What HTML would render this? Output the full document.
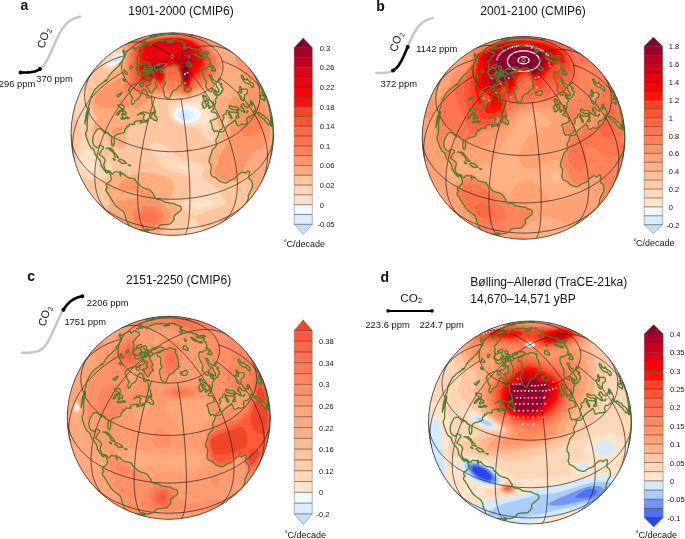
<!DOCTYPE html>
<html><head><meta charset="utf-8"><title>Figure</title>
<style>html,body{margin:0;padding:0;background:#fff;width:685px;height:539px;overflow:hidden}
svg{display:block}</style></head>
<body><svg width="685" height="539" viewBox="0 0 685 539" font-family="'Liberation Sans', Arial, Helvetica, sans-serif" fill="#111">
<rect width="685" height="539" fill="#fff"/>
<defs><path id="grid" d="M-76 67.1l1.5 1.7 1.7 1.6 1.8 1.6 1.8 1.6 1.9 1.5 2 1.5 2.1 1.4 2.2 1.4 2.2 1.4 2.4 1.3 2.3 1.2 2.5 1.2 2.5 1.1 2.6 1.1 2.6 1 2.7 1 2.7 .9 2.8 .8 2.8 .8 2.9 .7 2.9 .6 2.9 .6 3 .5 2.9 .5 3.1 .3 3 .3 3 .3 3.1 .1 3 .2 3.1 0 3.1 0 3-.2 3.1-.1 3-.3 3-.3 3.1-.3 2.9-.5 3-.5 2.9-.6 2.9-.6 2.9-.7 2.8-.8 2.8-.8 2.7-.9 2.7-1 2.6-1 2.6-1.1 2.5-1.1 2.5-1.2 2.3-1.2 2.4-1.3 2.2-1.4 2.2-1.4 2.1-1.4 2-1.5 1.9-1.5 1.8-1.6 1.8-1.6 1.7-1.6 1.5-1.7M-101.4 0l.1 2.3 .1 2.2 .4 2.3 .4 2.3 .5 2.2 .7 2.3 .8 2.2 .9 2.2 1.1 2.1 1.1 2.2 1.3 2.1 1.4 2.1 1.5 2.1 1.6 2 1.7 2 1.8 1.9 1.9 1.9 2.1 1.9 2.1 1.8 2.2 1.8 2.3 1.7 2.5 1.7 2.5 1.6 2.6 1.5 2.6 1.5 2.8 1.5 2.8 1.3 2.9 1.3 3 1.3 3 1.1 3.1 1.1 3.1 1.1 3.3 .9 3.2 .9 3.3 .8 3.4 .8 3.4 .7 3.4 .5 3.4 .6 3.5 .4 3.5 .3 3.5 .3 3.5 .2 3.6 .1 3.5 .1 3.5-.1 3.6-.1 3.5-.2 3.5-.3 3.5-.3 3.5-.4 3.4-.6 3.4-.5 3.4-.7 3.4-.8 3.3-.8 3.2-.9 3.3-.9 3.1-1.1 3.1-1.1 3-1.1 3-1.3 2.9-1.3 2.8-1.3 2.8-1.5 2.6-1.5 2.6-1.5 2.5-1.6 2.5-1.7 2.3-1.7 2.2-1.8 2.1-1.8 2.1-1.9 1.9-1.9 1.8-1.9 1.7-2 1.6-2 1.5-2.1 1.4-2.1 1.3-2.1 1.1-2.2 1.1-2.1 .9-2.2 .8-2.2 .7-2.3 .5-2.2 .4-2.3 .4-2.3 .1-2.2 .1-2.3M-77.5-65.3l-1.4 1.7-1.3 1.8-1.2 1.8-1.1 1.9-1 1.8-.9 1.9-.8 1.9-.7 1.9-.6 2-.5 1.9-.3 2-.3 1.9-.2 2 0 2 0 1.9 .2 2 .3 2 .3 1.9 .5 2 .6 1.9 .7 1.9 .8 1.9 .9 1.9 1 1.9 1.1 1.8 1.2 1.8 1.3 1.8 1.4 1.8 1.5 1.7 1.5 1.7 1.7 1.6 1.8 1.6 1.8 1.6 1.9 1.5 2 1.5 2.1 1.5 2.2 1.4 2.2 1.3 2.4 1.3 2.3 1.2 2.5 1.2 2.5 1.2 2.6 1 2.6 1 2.7 1 2.7 .9 2.8 .8 2.8 .8 2.9 .7 2.9 .6 2.9 .6 3 .5 2.9 .5 3.1 .4 3 .3 3 .2 3.1 .2 3 .1 3.1 0 3.1 0 3-.1 3.1-.2 3-.2 3-.3 3.1-.4 2.9-.5 3-.5 2.9-.6 2.9-.6 2.9-.7 2.8-.8 2.8-.8 2.7-.9 2.7-1 2.6-1 2.6-1 2.5-1.2 2.5-1.2 2.3-1.2 2.4-1.3 2.2-1.3 2.2-1.4 2.1-1.5 2-1.5 1.9-1.5 1.8-1.6 1.8-1.6 1.7-1.6 1.5-1.7 1.5-1.7 1.4-1.8 1.3-1.8 1.2-1.8 1.1-1.8 1-1.9 .9-1.9 .8-1.9 .7-1.9 .6-1.9 .5-2 .3-1.9 .3-2 .2-2 0-1.9 0-2-.2-2-.3-1.9-.3-2-.5-1.9-.6-2-.7-1.9-.8-1.9-.9-1.9-1-1.8-1.1-1.9-1.2-1.8-1.3-1.8-1.4-1.7M-32.6-92.2l-1.3 .7-1.3 .8-1.3 .8-1.2 .8-1.1 .9-1.2 .9-1 .9-1 .9-1 1-.9 .9-.9 1-.8 1-.7 1.1-.7 1-.6 1.1-.6 1.1-.5 1-.5 1.1-.4 1.2-.3 1.1-.3 1.1-.2 1.1-.2 1.2-.1 1.1 0 1.1 0 1.2 .1 1.1 .2 1.1 .2 1.2 .3 1.1 .3 1.1 .4 1.1 .5 1.1 .5 1.1 .6 1.1 .6 1 .7 1.1 .7 1 .8 1 .9 1 .9 1 1 1 1 .9 1 .9 1.2 .9 1.1 .8 1.2 .9 1.3 .8 1.3 .7 1.3 .8 1.4 .7 1.4 .7 1.4 .6 1.5 .7 1.5 .6 1.6 .5 1.6 .5 1.6 .5 1.6 .4 1.7 .5 1.6 .3 1.7 .4 1.7 .3 1.8 .2 1.7 .2 1.7 .2 1.8 .1 1.8 .1 1.7 .1 1.8 0 1.8 0 1.7-.1 1.8-.1 1.8-.1 1.7-.2 1.7-.2 1.8-.2 1.7-.3 1.7-.4 1.6-.3 1.7-.5 1.6-.4 1.6-.5 1.6-.5 1.6-.5 1.5-.6 1.5-.7 1.4-.6 1.4-.7 1.4-.7 1.3-.8 1.3-.7 1.3-.8 1.2-.9 1.1-.8 1.2-.9 1-.9 1-.9 1-1 .9-1 .9-1 .8-1 .7-1 .7-1.1 .6-1 .6-1.1 .5-1.1 .5-1.1 .4-1.1 .3-1.1 .3-1.1 .2-1.2 .2-1.1 .1-1.1 0-1.2 0-1.1-.1-1.1-.2-1.2-.2-1.1-.3-1.1-.3-1.1-.4-1.2-.5-1.1-.5-1-.6-1.1-.6-1.1-.7-1-.7-1.1-.8-1-.9-1-.9-.9-1-1-1-.9-1-.9-1.2-.9-1.1-.9-1.2-.8-1.3-.8-1.3-.8-1.3-.7-1.4-.8-1.4-.6-1.4-.7-1.5-.6-1.5-.6-1.6-.5-1.6-.6-1.6-.4-1.6-.5-1.7-.4-1.6-.4-1.7-.3-1.7-.3-1.8-.2-1.7-.3-1.7-.1-1.8-.2-1.8-.1-1.7 0-1.8-.1-1.8 .1-1.7 0-1.8 .1-1.8 .2-1.7 .1-1.7 .3-1.8 .2-1.7 .3-1.7 .3-1.6 .4-1.7 .4-1.6 .5-1.6 .4-1.6 .6-1.6 .5-1.5 .6-1.5 .6-1.4 .7-1.4 .6-1.4 .8M-46.9-89.9l1.6-.7 1.7-.5 1.7-.5 1.8-.4 1.8-.2 1.9-.1 1.9 0 1.9 .1M-87-52l1.4-2.1 1.5-2.1 1.6-1.9 1.7-2 1.8-1.8 1.9-1.8 2-1.7 2.1-1.6 2.2-1.5 2.3-1.5 2.3-1.4 2.4-1.2 2.6-1.2 2.5-1.1 2.7-1 2.7-1 2.8-.8 2.9-.7M-98.3 24.6l-.6-2.6-.4-2.6-.3-2.7-.2-2.7-.1-2.7 .1-2.7 .2-2.7 .3-2.8 .4-2.7 .6-2.7 .6-2.8 .8-2.7 .9-2.7 1-2.7 1.2-2.7 1.2-2.7 1.4-2.7 1.4-2.6 1.6-2.6 1.7-2.5 1.8-2.6 1.9-2.5 2-2.4 2.1-2.4 2.2-2.4 2.3-2.3 2.4-2.2 2.4-2.2 2.6-2.2 2.6-2 2.7-2 2.8-2 2.9-1.9 2.9-1.8 3-1.7M-62.8 79.6l-1.6-1.4-1.5-1.5-1.4-1.6-1.3-1.6-1.2-1.8-1.2-1.8-1-2-1-2-.9-2.1-.8-2.1-.7-2.3-.6-2.3-.5-2.4-.4-2.4-.4-2.5-.2-2.6-.1-2.6-.1-2.7 .1-2.7 .1-2.8 .2-2.9 .4-2.8 .4-2.9 .5-3 .6-2.9 .7-3 .8-3.1 .9-3 1-3.1 1-3 1.2-3.1 1.2-3.1 1.3-3.1 1.4-3 1.5-3.1 1.6-3.1 1.6-3 1.7-3 1.8-3 1.8-3 1.9-3 2-2.9 2.1-2.9 2.1-2.8 2.1-2.8 2.3-2.8 2.2-2.7 2.4-2.6M-23.2 98.7l-.9-.3-.8-.4-.9-.5-.8-.7-.7-.7-.8-.9-.7-1-.6-1.1-.6-1.2-.6-1.4-.6-1.4-.5-1.6-.5-1.6-.4-1.8-.4-1.8-.3-2-.4-2.1-.2-2.1-.3-2.3-.1-2.3-.2-2.5-.1-2.5-.1-2.6 0-2.7 0-2.7 .1-2.8 .1-2.9 .2-3 .1-3 .3-3 .2-3.2 .4-3.1 .3-3.3 .4-3.2 .4-3.3 .5-3.3 .5-3.4 .6-3.4 .6-3.4 .6-3.4 .6-3.5 .7-3.4 .8-3.5 .7-3.4 .8-3.5 .9-3.4 .8-3.4 .9-3.4 .9-3.4 .9-3.4 1-3.3 1-3.3 1-3.3 1.1-3.2M11.8 100.7l.4-.2 .5-.4 .4-.4 .4-.6 .4-.7 .3-.8 .4-.9 .3-1.1 .3-1.2 .3-1.3 .3-1.4 .3-1.5 .2-1.6 .2-1.7 .2-1.8 .2-2 .2-2 .1-2.2 .1-2.2 .1-2.3 .1-2.4 .1-2.5 0-2.6 0-2.7 0-2.8 0-2.8-.1-2.9-.1-2.9-.1-3.1-.1-3.1-.1-3.1-.2-3.2-.2-3.3-.2-3.2-.2-3.4-.2-3.4-.3-3.4-.3-3.4-.3-3.4-.3-3.5-.3-3.5-.4-3.5-.3-3.5-.4-3.6-.4-3.5-.4-3.5-.5-3.5-.4-3.5-.5-3.4-.5-3.5-.5-3.4-.5-3.4-.5-3.4-.5-3.3M48.4 89.1l1.5-.9 1.5-1 1.3-1.1 1.3-1.3 1.3-1.3 1.1-1.4 1.1-1.5 1.1-1.7 .9-1.7 .9-1.8 .8-1.9 .8-2 .7-2.1 .5-2.2 .6-2.2 .4-2.3 .3-2.4 .3-2.5 .2-2.6 .1-2.6 .1-2.7-.1-2.7-.1-2.8-.2-2.9-.3-2.9-.3-2.9-.4-3-.6-3-.5-3.1-.7-3.1-.8-3.1-.8-3.2-.9-3.2-.9-3.2-1.1-3.2-1.1-3.2-1.1-3.2-1.3-3.2-1.3-3.3-1.3-3.2-1.5-3.2-1.5-3.2-1.5-3.1-1.6-3.2-1.7-3.1-1.7-3.1-1.8-3.1-1.8-3-1.9-3-1.9-2.9-1.9-2.9M88.3 49.8l1.2-2.3 1.1-2.3 1-2.4 .9-2.4 .7-2.4 .6-2.6 .6-2.5 .4-2.6 .3-2.6 .1-2.7 .1-2.7-.1-2.7-.1-2.8-.3-2.7-.4-2.8-.6-2.8-.6-2.8-.7-2.9-.9-2.8-1-2.8-1.1-2.8-1.2-2.8-1.3-2.8-1.4-2.8-1.5-2.8-1.6-2.7-1.7-2.8-1.8-2.7-1.9-2.6-2-2.7-2.1-2.6-2.2-2.5-2.3-2.5-2.3-2.5-2.4-2.4-2.6-2.4-2.5-2.3-2.7-2.2-2.7-2.2-2.8-2.2-2.9-2M97.7-27.2l-.8-2.6-.9-2.5-1-2.5-1.2-2.4-1.2-2.4-1.4-2.3-1.4-2.3-1.6-2.3-1.7-2.1-1.8-2.2-1.9-2-2-2-2.1-1.9-2.2-1.9-2.3-1.8-2.4-1.7-2.4-1.6-2.6-1.6-2.6-1.5-2.7-1.4-2.8-1.3-2.9-1.2-2.9-1.2-3-1M61.2-80.8l-1.7-1.2-1.8-1.1-1.8-1-1.9-.9-2-.8-2.1-.6-2.1-.6-2.1-.5-2.3-.3-2.2-.3-2.4-.1M22.3-98.9l-.9 0-1 .1-1 .2-1 .3-1.1 .4M-11.3-100.8l.5 .1 .5 .1 .5 .3 .5 .4 .5 .5M-32.6-92.2l1 .1 1 .1 1 .1 1 .2 1.1 .2 1 .2 1 .3 1.1 .3 1 .3 1.1 .3 1.1 .4 1.1 .4 1 .4 1.1 .5 1.1 .4 1.1 .6 1.1 .5 1.1 .5 1.2 .6 1.1 .6 1.1 .7 1.1 .6 1.2 .7 1.1 .7 1.1 .8 1.2 .7 1.1 .8 1.1 .8 1.2 .9 1.1 .8M-38.8-46.3l1.1-1.3 1.2-1.3 1.2-1.3 1.2-1.2 1.3-1.3 1.2-1.2 1.2-1.2 1.3-1.2 1.3-1.2 1.2-1.2 1.3-1.1 1.3-1.1 1.3-1.1 1.3-1.1 1.3-1.1 1.3-1 1.3-1.1 1.4-1 1.3-1 1.3-.9 1.3-1 1.4-.9 1.3-.9 1.4-.9 1.3-.8 1.4-.9 1.3-.8 1.4-.8 1.3-.7 1.4-.8M32.6-42.3l-1-1.4-1-1.4-1-1.4-1-1.4-1.1-1.4-1-1.4-1-1.3-1.1-1.3-1-1.3-1.1-1.3-1.1-1.3-1.1-1.2-1-1.3-1.1-1.2-1.1-1.2-1.1-1.2-1.1-1.2-1.1-1.1-1.2-1.1-1.1-1.1-1.1-1.1-1.1-1.1-1.2-1-1.1-1-1.1-1-1.2-1-1.1-1-1.1-.9-1.2-.9-1.1-.9M38.8-88.2l-1.1 0-1.2-.1-1.2 .1-1.2 0-1.3 .1-1.2 .1-1.2 .1-1.3 .2-1.3 .2-1.2 .2-1.3 .2-1.3 .3-1.3 .3-1.3 .3-1.3 .3-1.3 .4-1.3 .4-1.4 .4-1.3 .5-1.3 .4-1.3 .5-1.4 .5-1.3 .6-1.4 .6-1.3 .6-1.4 .6-1.3 .6-1.4 .7-1.3 .7-1.4 .7" fill="none" stroke="#1a1a1a" stroke-width="0.75" stroke-opacity="0.9"/><path id="coast" d="M-33.1-87.3l.2 .4 .2 .4 .2 .4 .9 .3 .9 .3 .9 .3 .2 .4 .1 .3 .2 .4 0 .3 .1 .3 0 .3 .1 .3-.4 .3-.3 .3-.4 .3-.4 .3-.3 .3-.4 .4-.4 .3-.4 .4-.4 .4-.3 .4-.2 .3-.2 .4-.2 .4-.2 .4-.6 .4-.5 .5-.4 .4-.3 .4-.3 .5-.4 .4 .3 .4 .3 .3 .2 .3 .2 .4 .1 .3 .2 .4 .1 .3-.1 .4-.2 .5-.1 .4-.2 .5-.1 .4-.1 .5 .3 .3 .3 .3 .3 .3-.2 .5-.2 .6-.2 .5-.2 .5-.2 .6-.2 .6-.2 .6 0 .4 .1 .5 .1 .5 .1 .4 .4 .3 .5 .3 .4 .3 .1 .5 .1 .5 .1 .5 .1 .5 .1 .5 .1 .5 .4 .3 .5 .3 .4 .3 .7 .1 .7 .1 1.1-.4 1.1-.4 1.6-.9 1.6-.8-.3 .8-.3 .9-.6 1.1-.5 1.2 .3 .4 .4 .4 .3 .4 .9-.4 1-.4 .1 .4 .2 .4 .2 .5-.6 .9-.6 .9-1.2 .7-1.2 .8-.5-.3-.5-.4-.5-.3-.9 1.5-1.1 .3-1.1 .2-.8 0-.8-.1-.8 .2-.7 .2-1 .3-1 .4-1 .3-1.5 .8-1.5 .8-.6 .8-.7 .8-.6 1.5-.5 1.5 .5 .5 .4 .4 .5 .5 .1 .8 .2 .9 .2 .8 .3 .7 .3 .8 .4 .7 .5 .5 .6 .4 .5 .5-.6 1.1-.6 1-.6 1.1 .1 .9 .1 .9 .3 .9 .3 1 .8-.7 .8-.7 .8-1.5 .7-1.6 1.5-.7 1.5-.8 .8-1 .8-1.1 .4-1.3 .4-1.2 .6-1.4 .5-1.3 .9-1.2 .9-1.2 .6 .4 .6 .3 .6 .3 .5 .6 .6 .5 .2 .8 .2 .8 .5 .5 .5 .4-.4 1.1-.4 1.2 .2 .9 .3 .9 .7 0 .7 .1 .9-.6 .9-.6 .8-.7 0 1.2 0 1.1 .2 1.4 .2 1.4 0 1 0 1.1 .3 .9 .4 .8 .7 1 .8 1 .1 1 .1 1.1 .4 1.1 .5 1-1 .6-.9 .5-1.1 .5-1 .5-1.1 .4-1-.3-1.1-.3-1-.3-.9-.3-.9-.2-1-.2-.9-.2-1.3 .5-1.3 .4-1.6 1.2-1.7 1.2 1.1-.5 1.1-.6 1.2-.1 1.2 0 1.2-.2 .7 .6 .8 .5-1 1.5-.5 1.7 .4 1 .5 1.1 1.1 .4 1.1 .4 .8-.9 .8-.9 .3 1.8-.9 .5-.8 .4-1 .1-1 .1-1 .1-1 .4-.9 .3-1 .3-.3-1.4 1.1-.6 1.2-.5-.8-.2-.8-.1-.9 .3-.8 .2-1 0-1-.1-.9 .3-1 .3-1.3 1.4-.3 1.4 .7 .3 .2-.1-.7 .3-.9-.1-.9-.1-1.2 0-1.1-.1-.7 .4-.7 1.5-1.4 .7-.3-1.1-.1 1-.2 1-.8 .7-.9 .6-.2 1.8-.4 1.6-.8 .2-.9 .1-1 .4-.9 .3-1 .2-1 .3-1.1 .3-1 .3-.9 .7-.8 .7-.3 1-.3 1 0 1.4 0 1.4 0 1.4-.1 1.4-.5 1.2-.5 1.1-1.1-.4-.3-2.1-.2-1.4-.1-1.4 .3-1.2 .3-1.1-.5-2.1-.9-.4-.9-.4-.4-.9-.4-1-.9-.6-.9-.6-.7-.4-.7-.3-.3 1-.2 .9-.5-.5-.5-.5-.5-.6-.5-.7-.8-1-.9-.9-.7-.3-.7-.3-1.2 .2-1.1 .2-.7 .5-.8 .5-.5 1-.5 1.1-.7 1.1-.6 1-.6 1.2-.5 1.3-.1 1.3-.2 1.4 0 1.5 .1 1.6 .4 1.1 .5 1.1 .6 1.3 .9 .4 1 .4 .9 1 1.4-.7 .4-.9 .5-.9 .8 .1 .9 .2 1.1 .6 1.1 .6-.1 1.8-.7 .6-.6 .5-.4 .8-.4 .7-.6 1.1-.7 1.1-.6 .9 .6 .5 .7 .4 .9 .5 .8 .6 .7 .5 .7 .6 .8 1.1 .8 1.2-.3 1.3-.3 1.2-.4 1.2-.4 1.1 .2 1.2 .2 1.2 .5 1.2 .5 1.1 1.2 1.4 1.4 .1 1.3 .1 .8 .7 .9 .8 .7 1.1 .8 .6 1.3-.7 .4-.7 .4-.6 1.2-.3 1 .2 .9 .2 1-.1 1 0 1.2-.4 .2 1.4-1.1 .5 .5 1.3 .5 1.3-.3-1.1-.3-1.2 1.1 0 1.1-.1 .7-.7 .9 1.1 .9 1.2 1.5 1.2 1.2 .7 1.2 .7 1.3 .1 1.3 .1 1.2 .3 1.2 .4 1.6 .2-.9 .6 1.1 .7 .6 1.2 .6 1.1 1.6 .9 1 1 .9 1.1 1.6 1.5 1.4 .6 1.3 .6 1.5 .4 1.6 .3 1.1 .5 1.1 .4 1 1.1 1 1 .8 1.1 .5 1 .6 1.1 1 .8-.7 1.2 1 .8 1.1 .7 1.2 1 1.8-.3 1.7 .6 1.8 .6 .9 .8 .9 .8 .9 0 1 .1 1.7 .3 1.6 .4 1.5 0 1.4 0 1.2 .5 1.2 .5 1.2 .7 1.1 .7 1.4 .2 1.4 .2 .5 .7 .4 .8 .3 .7 .2 .6-.4 .9-.3 .9-.9 .8-.9 .7-1 .7-.9 .8-.9 .7-.9 .7-1 1-.2 .9-.2 .9 .2 .9 .2 1-.7 .9-.7 .9-.7 .6-.8 .6-.3 .5-.3 .5-1.7 .7-1.3 .1-1.3 0-.8 .1-.9 .1-1.3 .1-1.3 .2-1.1 .3-1.2 .3-.5 .4-.6 .4 0 .6 .1 .6-.7 .3-.7 .3-.6 .4-.5 .3-.5 .3-.5 .2-1.2 .2-.7 .3-.6 .2-1 .2-1-.1-1-.1-1-.3-.9-.2-1.1-.3-1-.3 1 .5 1.1 .4 .4 .4 .4 .3-.2 .2-.3 .3-1.2-.2-1.2-.2-1-.2-1-.2-.9-.2 0 .2 .1 .2-.8-.2-.7-.1-.8-.3-.8-.2 .7 .3 .8 .4 1.1 .4-.7-.2-.6-.1 .2 .2 .3 .1-.8-.2-.6-.2M-40.2 93.1l-.6-.3-.6-.3-.4-.3-.4-.2-.7-.4-.7-.5-.3-.3-.3-.3-.2-.4-.1-.3 0-.3 0-.3-.1-.4-.1-.3-.5-.6-.5-.6-.3-.6-.3-.6 .1-.4 0-.5-.2-.6-.2-.6-.2-.7-.2-.7-.1-.6-.1-.6-.1-.6-.3-.6-.3-.7-.3-.8-.8-1.1-1.4-1.2-1.4-1-1.4-.9-1.4-1.2-1.5-1.2-1-1.2-1.1-1.3-.4-.8-.4-.8-1.2-1.6-.7-1.2-.7-1.2-.8-1.4-.8-1.4-.6-.9-.6-1-.9-1.1-.9-1.2-.2-.9-.2-1 .6-.4 .5-.5 .7-.8-1-.6-.3-.9-.3-.9 .4-.6 .4-.6 .4-1 1.4-.3 .7-1.1 1.1-.7 .4-.6 .4-.6-.1-1.1 0-1-.1-1-.1-1-.9-1.6-.8-1.8-.9 0-.9 0-.2 1.1-1.3-.9-1.2-1.6-.7-.8-.7-.7-1.1-2.3-.6-.7-.7-.6 .1-.9 0-.8-.3-1.3-.4-1.4-.9-1.7-.9-1.1-.8-1-.8-1-.7-.7-.7-.8-.5-1.2-.5-1.2-.3-1.2-.3-1.3-.5-.7-.5-.7-.9-.4-1-.5-.6-1-.6-1-.6-1.3-.6-1.4-.5-1.3-.6-1.3-.4-1.3-.5-1.3-.4-1.4-.3-1.4-.2-2.1 .5-.9 .5-1 .3-1.1 .3-1.1-.1-1.3-.1-1.3 .1-1.6 .1-1.6 0-1.4 .1-1.5 .2-1.5 .2-1.6 .1-1.5 .1-1.5 .5-1.5 .5-1.4 .1-1.6 .1-1.6-.7 1.1-.5 1.2-.4 1.3-.3 1.3-.2 1.3-.4 1.1-.3 1.2-.2 1.4-.2 1.5-.4 1.3-.4 1.3-.2 1.1-.1 1.1 0-1 0-1.2 .1-1.3 .3-1.3 .3-1.2 .2-1.6 .2-1.6 .4-1.9 .5-1.3 .6-1.4 .3-2 .4-1.2 .3-1.2 .5-1.3 .7-1.3 .4-1.8 0-.8 0-.8 0-1.1 .7-1.3 .5-1.2 .5-1.1 .5-1 .6-.9 .4-1 .6-1 .6-1.1 .9-1.4 .9-.7 .8-.7 .6-.7 .6-.8 1-.7 1-.7 1.2-.9 1.1-.8 .7-.6 .7-.6 .7-.8 .7-.8-.1 .7 0 .6 1.1-.5 .4-.8 .5-.8 .5-1 .6-1 .5-1.1 .6-1 1.3-1.3 .7-.9 .6-.8 1.3-1.3 .8-.5 .8-.5 .8-.9 .8-.9 .9-.8 .8-.8 1-.9 .9-.8-.3-.3-.3-.3 .6-.7 .5-.7 .6-.6 .6-.7 .3-.5 .4-.5 .2-.6 .3-.6 .5-.6 .5-.6 .6-.7 .5-.6-.1-.3-.1-.4-.4-.2-.4-.2 .1-.3 0-.3 .8-.2 .8-.1-.1-.2-.1-.2-.9-.2-1.2 0 0-.4 .1-.3-.1-.3-.1-.3-.3-.3-.2-.3-.1-.3 0-.3 .1-.5 .1-.4 .3-.5 .4-.4 .1 .3 .2 .3-.1 .5 .1 .4 .1 .4 .1 .3 .6 .1 .7 .1 .2-.4 .3-.3 .4-.4 .4-.4 .4-.3 1-.5 1.1-.4 .7-.5 .7-.5 .8-.3 .7-.3 1.5-.4 .5 .4 .4 .3-.2 .3-.1 .3-.2 .3 .2 .3 .2 .2 .6-.3 .3-.3 .3-.3 .4-.4 .4-.3 .4-.3 .5-.4 .8-.1 .5-.2 .5-.2M-11.3-64.9l.4 .1 .4 0 .3 0 .4 0 .5-.2 .5-.2 .5-.2 .8-.7 .7-.7 .4-.3 .5-.2 .4-.3 .4-.3 .3-.1 .4-.1 .3-.1 .2-.1 .3-.1 .3 0 .2 0 .3 0 .2 .1 .2 0 .3 0 .2 0 .3-.2 .2-.2 .3-.2 .2-.2 .3-.2 .2-.2 .2-.1 .2 0 .2-.1 .2 0 .2-.1 .2 0 .2-.1 .2 0 .2-.1 .2 .1 .2 0 .2 .1 .2 0 .3 .1 .2 0 .2 .1 .3 .1 .2 .1 .3 .1 .3 .1 .3 .1 .3 .3 .5 .3 .4 .4 .2-.1 .2 0 .3-.1 .2 0 .2 0 .2-.1 .1 .4 0 .4-.1 .4 0 .4-.1 .4-.1 .4-.2 .3 .4 .9 .3 .9 .6 .9 .7 1 0 1.1 .1 1.1 1 1.3-.1 .7-.2 .7-.1 .7 .3 .8 .3 .9 .1 1.1 .1 1.2-.4 .2-.5 .3-.4 .2 .6 .3 .6 .2 .6 .3-.5 .6-.4 .6-.5 .6-.6 .3-.6 .2-.6 .2-.5 .5-.5 .5-.4 .5-.5 .7-.5 .7-.5 .7-.6 .2-.6 .2-.6 .2-.7 .4-.7 .3-.5 .5-.6 .5-.5 1.6-.6 .9-.5 1-.4 1.1-.4 1-.4 1-.4 1-.6-.3-.6-.3-.7-.4-.7-.5-.6-.4-.6-.4-.7-1.2-.3-1.1-.2-1.1-.3-1.7-.3-.9-.3-.9-.1-.9 0-.9 .1-1 .1-.9 .8-1.3 .7-.4 .6-.4 .2-1.4-.4-.3-.4-.4-.4-.4-.2-1.2 0-.9 0-.8 0-1.6-.1-.7 0-.8 .1-1.3-.2-.4-.2-.3-.2-.4-.4-.1-.4-.2-.3-.1-.4 0-.4 0-.3-.1-.3-.3-.3-.3-.1-.4-.1-.4 0-.4 0-.5 0-.5 .4-.8M13.4-42.4l.6 0 .6-.1 .7 .1 .6 0 .7 .1 .7-.5 .6-.5 .4-.7 .5-.6 .2-1.3-1.1-.8-.9-.8-.5 .1-.5 0-.4 .5-.4 .4-.6 .2-.5 .1-.5 .3-.5 .2-.9-.6-.3 .7-.4 .7 .8 .3 .7 .3-.6 .3-.5 .2 .7 .7 .8 .7M-15-47.6l-.8 .6-.8 .7-.6 .4-.7 .5-.7 .9-.7 .8-.2 .9-.2 1-.8 .3-.7 .3-.5-.5-.4-.5-.4-.4-.5-.5-.4-.5-.3-.6-.3-.7-.3-.8-.3-.9-.5-.2-.5-.3-.6-.3-.5-.3 1.6-1.1 .6 .1 .6 .1 .6 0 1.1-1.1 .9-.9-.2-.6-.1-.7-.2-.7 0-.9 0-.9 .2-.8 .2-.8-.6-.1-.5 0-.6-.1-.4-.3-.3-.4-.4-.3-.4-.3-.4-.3-.3-.4 0-.7 .1-.6 1.3-.8 1.2-.7 1-.4 .9-.4 .4 .1 .3 .2 .4 .2 .3 .2 .4 .1 0 .6 .1 .5 .1 .6 .1 .5 .3 .5 .2 .4 .3 .4 .3 .5 .1 .5 .1 .6 .2 .5 .3 .5 .3 .4 .4 .4 0 .8 0 .8-1 1.4 .2 .7 .2 .6 .4 .6 .4 .7 .5 .6 .5 .3M-4.9-69l-.1-.2-.1-.2-.1-.2-.1-.2-.2-.1-.1-.1-.2-.1-.2-.1-.1-.1-.2-.1-.2-.1-.2 0-.2 0-.2-.1-.2 0-.2-.1-.2 0-.3-.1-.2 0-.3 0-.3 0-.3 .1-.3 0-.3 0-.3 0-.4 .1-.5 0-.4 .1-.4 .1-.5 0-.9 .3-.8 .3-.6 .2-.6 .1-.6 .1-.9 .5-.9 .5 0 .4 0 .3-.1 .4 0 .3-.1 .4 0 .4-.1 .4-.1 .5 .3 .1 .2 .2 .3 .2 .3 .2 .2 .1 .3 .2 .2 .2 .2 .3 .3 .2 .2 .2 .9-.6 .8-.5 .7-.4 .7-.4 .4-.1 .5-.2 .4-.1 .5-.2 .5-.2 .4-.3 .4-.1 .4-.1 .4-.1 .4-.2 .4-.1 .4-.1 .3-.1 .5-.3 .4-.4 .4-.3 .7-.8M-17.3-61.6l-.4-.2-.4-.2-.3-.2-.4-.1-.4-.2-.3-.3-.2-.2-.3-.2-.3-.2-.3-.2-.2-.3-.3-.2 1.3-1.1 1.1-.6 .4 .2 .4 .1 .3 .1 .4 .1 .3 .3 .2 .2 .3 .2 .3 .2 .3 .2-.1 .6-.1 .5-.6 .8-.7 .7M-11.7-69.4l0-.3 0-.3 0-.2-.4 0-.4 0-.4 .1-.5 0-.5 0-.6 .1-.5 .1-.7 .7 .1 .2 .1 .2 .2 .3 .1 .2 .4 0 .3 .1 .3 0 .3 0 1.1-.6 1.1-.6M-22.5-65.1l-.3-.2-.4-.2-.4-.2-.3-.2 .4-.6 .5-.6 .5-.6 .6 0 .6-.1 .7 0 .3 .1 .4 .1 .3 .2-.3 .5-.3 .5-1.1 .6-1.2 .7M-23.2-68l-.3-.2-.3-.2-.3-.1-.3-.2-.3-.2-.3-.2-.1-.3-.1-.3-.1-.3 0-.3-.1-.3-.1-.3 .9-.6 .8-.5 .3 .1 .3 .2 .3 .2 .3 .1 .1 .3 .1 .2 .1 .3 .1 .3-.1 .3 0 .3 0 .3 0 .4-.4 .5-.5 .5M-27-62.4l-.8 .2-.9 .2 .3-.7 .3-.7 .3-.7 .7-.7 .8-.7 .8 0 .7 0 .2 .3 .1 .3 .2 .4-1.3 1-1.4 1.1M-24.2-61.1l-.1-.4-.1-.5-.1-.4 .6-.9 .7-.9 .5 .2 .4 .1 .4 .2-.1 .5-.1 .6-1.1 .8-1 .7M-30.8-62.2l-.7 0-.6 0-.7 0-.3-.3-.3-.4-.4-.3-.4-.2-.5-.2-.4-.1-.1-.4-.1-.4-.1-.4-.1-.4 .1-.6 .2-.5 .3-.6 .6-.8 .7-.7 1.4-.2 .4-.4 .3-.4 1.1-.2 1.1-.3 .3 .2 .3 .2 .3 .2 .2 .2 0 .4 0 .4 0 .4 0 .4 .5 .2 .4 .1 .5 .2-.1 .4 0 .5-1.2 .9-1.1 .9-.3 .6-.2 .7-1.1 .9M-31.9-70.2l-.2-.3-.2-.3-.1-.2 .8-.7 .9-.6 1.2-.4 1.3-.5 .4 .1 .5 .1 .1 .2 .1 .3 .1 .2 .1 .2-.2 .4-.2 .3-.2 .3-.2 .4-.3 .4-.3 .4-.6-.1-.7-.1-.7-.1-.8 0-.8 0M-29.1-47.8l-1 .2-1 .2-.6-.2-.6-.3-.1-.8-.1-.8 .8-.8 .8-.8 1.3-.6 .2 .4 .2 .5 .1 .8 .2 .9-.2 1.3M-22.7-15.9l1.5-1.3-.3-1.1 .8-.8 .9-.9 1-1 1-1 .9 .3-.5 1.2-.5 1.1 .4 1.1 .8 .5 .9 .4 .3 1.4 .5 1.5-.9 1.5-1-.9-1.3 .2-.9-1.5-.7-.1-.8-.1-1-.3-1.1-.2M-66.4 13.9l1.1 .3 1.1 .3 .9-.2 .9-.2 .8 .5 .9 .4 .9 1 .9 .9 .7 1.1 .8 1.1 .8 .9 .8 .9 1.1 1.4 1.1 1.4-1-.1-.9-.2-1.3-.6-1.2-.6 .1-1.4-.9-2-1.1-.9-1-1-.8-.6-.8-.6-.5-.7-.6-.7-1.1 .1-1.2 0-.5-.5M-54.4 26.5l1.1-.7 1.1-.8 1 .4 1.1 .5 1.2 .5 1.2 .6 1.2 1.6 .8 1-1.2-.2-1.1-.1-1.2 .1-1.2 .1-.7-.7-.7-.8-1.3-.8-1.3-.7M-59.6 24l.8 .4 .9 .3 .9 1.3-1.4-.3-.6-.8-.6-.9M-44 30.5l1.2 .5 1.2 .4-.4 .4-1-.3-1.1-.4 .1-.6M46.1-1.7l.1 1.2 0 1.2-.4 1.1-.4 1-.9 1.4-.8 1.3 0 1.6 .1 1.5 .4 .9 .4 .8-.6 1.1-.7 1-1 1.1-1.1 1.1-.8 1-.7 1-.3 1.2-.3 1.2-.4 1.4-.4 1.4-.5 1-.4 1.1-.2 1.4-.3 1.4 0 1.7 .7 .9 .8 .9 .3 1.1 .3 1-.1 1.7-.1 1.6-.4 1.3-.4 1.4 .4 .8 .4 .9 .2 .9 .2 .9 .9 .4 .9 .3 1.6 .8 .9 .5 .9 .5 .7 .8 .7 .8 1.1 .8 1 .7 1.1 .4 1.1 .3 1.3 .4 1.2 .3 .9 0 .8 0 1.2-.9 1.1-.9 1.4-.8 1.4-.7 1.4-.4 1.4-.4 1-1 1-.9 1-1 1-1 1.2-1.2 1-.6 1-.7 1.3-.5 .7 .4 .8 .3 .7 .7 1-.8 .9-.7 .9-.7 1.3 .4 .2 .7 .2 .8-.2 1.1-.2 1.1-.2 1.2-.3 1.3 .5 .8 .5 .8 .6 .4 .5 .5 .5 .4 .4 .3 .1 .6 .2 .5 .3 .7 .3 .7-.1 1.1-.1 1 0 .6 .1 .6-.2 .8-.3 .8-.8 1.3-.8 1.3-.6 1.4-.6 1.3-.5 1.1-.5 1.1 0 .5-.1 .4 .1 .5 .1 .4 0 .4 .1 .4 0 .4-.5 .9-.5 .9-.3 .7-.4 .7-.1 .3-.1 .2 0 .2-.1 .2-.2 .3-.2 .3-.2 .3-.3 .3-.3 .4M98.1 25.6l.2-.9 .1-.4 .1-.5 .1-.5 .1-.5 .1-.9 .2-1 0-.7 .2-1.3 .2-1.2 .3-1.6 .1-1.6 .3-1.3 .1-1.3 .2-1.3 .1-1.4 .2-1.3 .1-1.3 .1-1.6 .1-1.5 0-1.7 .1-1.8 0-1.7-.1-1.8 0-1.3-.1-1.4-.1-1.4-.2-1.4-.2-1.9-.3-1.8-.2-1.2-.2-1.3-.2-1-.3-1 .1 1 .1 .9 0 1 0 .9 .1 1.1 0 1.1-.1 .9 0 .9-.1 .9-.1 .8-.4-.3-.5-.5-.3-.8-.6-.3-.5-.2-.3-.1-.4-.1-.4 .4-.5-.8-.5-.7-.7-.7-.5-.6-.6-.7-.4-.7-.4-.7-.9-.9-1-.2-.7-1.2-.8-.7-.8-.7-.5-.5-.6-.4-.6-.6-.7-.5-.9-.8-.8-.8-.7-.8-.7-.8-.3 .4-.4 .3-.2 .6-.3 .7-.1 1.6-.6 .4-.6 .4-.4 .4-.6 .5-.5 .5-.5 .3-.6 .2-.6 0-.7 0-.6 .4-.5 .5-.3 1.1-.3 1.2 .3 .8 .3 .8 0 2.1-.6 0-.7 0-1 .4-.9 .4-1.5-.8-.8 .3-.8 .3-.8 .5-.9 .4-1 .3-1-.4-.7-1.1-.2-2-1.2-1 0-1.2-1.1 .4-.4 .7-.5 .8-.6 .2-.7 .3-.5 .6-.6 .5-.7 .5-.7 .4-.8 .7-.9 .6-.6 .7-.7 .7-.5 .9-.6 .9-.5 .7-.5 .8-.6 .6-.6 .6-.8 .1-1 .2-1 .1-1.1 .1-.8 .3M46.3-2.1l-1.4-1-1.4-.1-.8 .5-.9 .5-.3-1.1-.3-1.1-1.1-.5-.1-1.3-.1-1.3-.2-1.1-.2-1.2-.4-.8-.4-.9-.9-.7 .5-.7 .5-.8 1-.3 .9-.2 1-.3 1-.5 1.1-.5 1-.4 1-.4-.3-1.1-.3-1.1-.5-1.2-.5-1.1-1-.6-1-.6-.9 0-1-.1-1.3-.5 .5-.7 .5-.8 .8-.3 .8-.2-.7-1.7 .8-.2 .7-.2 .2-.7 .2-.7-.3-1.4 .4-.6 .4-.5 .3-1.1-.1-1.3-.5-1.2 .3-.6 .3-.7 .7-.6 .3-.3 .3-.4-.4-1.2-.7-.7-.7-.7-.8-.8-.8-.7 0-.8 .2-.9 .1-.9 .6 .7 .9 1.3 .2-.5 .6 1.1 .5 1.1 .1 .5 1.6 .6 .4-.8 .4-.4 .4-.5 1 0 .3-.6 .3-.6 .2-.9 .1-.9 1 0 0-.7 0-.7 .1-.6 .1-.6-1.3-1.1-1.1-1.5-.1-1 1.5 .4-.2-1-.9-.4-.9-.4-1.1-.8 .1-.6 .1-.5 .1-.6 .3-.3 .3-.4 .3-.3 0-.7 0-.7-.6 .1-.5 .1-.3 .5-.4 .5-.1 .6-.2 .6-.1 .6-.2 .5-.8 0-.8 0-.7-.6-.8-.6-1.3-.9-.5-.8-.5-.8-.3-1-.4-.9-.2-.5-.2-.5-.7-.5-.6 .1-.5 .1 0 .5-.1 .5 1 1.3 .5 1 .4 .9 .3 .7 .2 .8 .8 1.5 1.2 1.3 1 .3 1.2 .2 .7 1.4 .1 .7 .2 .7 .6 .9 .7 .8 .5 .8 .5 .9-.3 .3-.3 .3 .5 1.2-.4 .4-.4 .3-1.1-.9-1.4-1.2-1-.5-1-.6-1.2-.8-1-.8 .3 1.5 .3 1 .1 .9-.5 .4-.5 .3-1.4-.5-1.2-1.1-.8-.8-.7-.9-.6-.8-.6-.7 0-.7-.1-.7 .1-.7 .1-.7 .3-.5 .2-.5-.5-1.4-.1-.6 0-.6-.9-1.3-.9-1.6-.2-.6-.3-.7-.6-1.1-.2-.5-.1-.4-.2-.6-.1-.6-.1-.4-.1-.4 .1-.4 .1-.4 0-.4 .1-.4-.2-.6-.2-.5 .3-.2 .3-.2 0-.4 .1-.4 .5-.2 .5-.1 .4-.1 .4 0 .3 .4 .3 .4 .4-.2 .4-.2 .2-.3 .3-.2 .2-.2 .2-.3 .3-.2 .3-.2 .4-.2 .4-.2 .7-.1 .7-.2 .6 0 .6 0 1.4 .9 .1 .5 .2 .5-.3 .4-.3 .4-.2 .4-.4 .2-.4 .2 .1 .6 1 .1 .9 .1 1.6 .7-.1-.5-.1-.5 1.3 .2-.1-.5-.2-.5-.1-.4-.2-.4-.5-.7-.9-.7-.9-.7 .2-.4 .2-.5-1.2-.4-1.1-.5-1.7-.4 .2-.3 .1-.3 .2-.3 .9-.1-.1-.5-.1-.5-.1-.4-.1-.4-.2-.4-.1-.4-.2-.4-.8-.7 0-.3 .1-.3 0-.3-.1-.4-.1-.4-1.5-.7-.6-.5 .1-.3 0-.4 .1-.4 .3-.3 .3-.3 .3-.4-.4-.3-.5-.4-1 .2-.8 .1-.9 .1-1-.1-1-.1-1-.3-1.1-.3-.2-.2-.3-.3 .3-.2 .3-.2 .4-.2 .4-.2 1.7 .2 1-.1 1.1 0 1.1 .1 .2-.1 .3-.2 1.1 .2 .8 .3 .8 .3 .1-.2 0-.2-1-.4-.9-.4-.9-.1-.8 0-.4 .3-1.1 0-1.2 .1-1.6-.3-1.1-.3 1.1-.1-.6-.2-.6-.2-.5-.2-.3-.3-.3-.2-.2-.3 .2-.2 .3-.2-1.2 .2-1.2 .3-.2-.3-.3-.2-.2-.3-.4-.2-.4-.2-.4-.2-1.1 0-.8 .1-.4-.1-.4-.2-.4-.1-.4-.1-.3-.2-.4-.1-.4-.2-.5-.1-.4-.2-.4-.1-.4-.2-.4-.1-.4-.1-.3-.2-.3-.1-.7 0-.6 .1-.6 0-.5 0-.1-.2-.1-.2 .1-.4 .2-.4-.4-.1-.3-.1-.3 0-.4-.1-.1-.3-.1-.3-.1-.2 .8-.6 .6-.1 .7 0 .4-.4-.2-.1-.3-.2-.2-.2-.4-.1-.4 0-.4-.1-.3-.3-.4-.2-.3-.2-.5-.1-.4-.1-.4-.2-.4-.1-.4-.2-.5-.1-.4-.2-.4-.2-.4 0-.4-.1-.4 0 .2-.4 .2-.4-.4-.1-.5-.2-.4 0-.4 .1-.5 .1-.5 0-.4 0-.5 0-.5-.1-.5-.1-.4-.1-.5 .1-.4 0-.4 .1 .2 .6-.5 .1-.5 .1-.5-.1-.4-.1-.5 0-.4 0-.4 0-.5 0-.4 0-.4 .1-.5-.1-.5-.1-.6-.1-.4-.2-.5-.1-.5-.1-.5 .1-.4 .1-.4 .2-.6 0-.5 .1-.5 .1-.7 0-.7 0-.6-.5-.5 .2-.4 .1-.5 .1-.5 .1-.4 .1-.4 .2-.5 .2-.5 .1-.6 .2-.8 0-.9 0 .1 .3 .2 .4-.6 .2-.5 .2-.5 .2-.4 .2-.4 .2-.3 .2-.6 .1-.6 .1-.6 .2-.6 .1-.6 .1-.8 .1-.9 .2-1 .2-1 .1-1 .2-1.1 .3-.8 .2-.8 .2-.6-.1-.7-.1 .7-.3 .6-.3 .6-.4 .4-.3 .4-.4 .6-.3 .6-.2 .5-.2 .3-.3 .2-.2-.6-.2-.6-.1-1.2 .1 .5-.3 .5-.2 .5-.3 .5-.3 .3-.2 .3-.3 .4-.3 .2-.3 .2-.3 .2-.3 .5-.2 .5-.3 .5-.3 .7-.2 .7-.2 .7-.2 .7-.3 .8-.2 .7-.3 0-.2 .1-.3-.7-.1-.7 0-.7 0 .3-.3 .4-.2 .5-.3 .5-.3 .5-.2 .6-.1 .6-.3 .7-.2 .7 0 .7 0 .4 0 .5 0 .5 .1-.1 .3 0 .2-.7 .2-.7 .2-.4 .3-.4 .4-.5 .2-.5 .3 0 .3 0 .3 .6-.2 .7-.2 .6-.2 .5-.2 .5-.2 .5-.1 .6-.4 .6-.3 .7-.3 .7-.1 .8-.2 .7-.1 .8-.1 1-.1 1 0 .8-.1 .9-.1 .9 0 .8-.1 .8-.1 .7 0 .8 0 .7-.1 .7-.1 .6-.1 .7-.1 .8-.2 .9-.1 .9-.1 1-.1 1.1 0-.9-.1-1-.1-.7 0-.8 0-.7 0-.8-.1-.9-.1 .3 0 .2-.1M88.7-49.1l-.4-.8-.1-.1 0 .1 .3 .6-.3-.3-.3-.3 .5 1 .4 1.1 .4 .8 .3 .9 .3 .9 .2 .5 .2 .8 .1 .8 .1 .4 0 .4 .1 .5 .1 .6-.4-.4-.5-.4 .2 1 .5 1.6 0 .4-.1 .4-.5 .1-.2 .6-.6-.4-.6-.4-.7-.4-.1 .5-.1 .4 .4 .9-.1 .6 .6 .6 .6 .5 .8 .7 .1-.3 .7 .5 .3 .1 .3 .6 .7 .6 .1 0 .2-.4-.5-.9 .8 1.2-.1-1 0-.7-.1-.7-.5-1.5-.6-1.5-.7-1.5 .5 .6 .4 .5 .5 .2 0-.5 0-.5 .2 0 .2 .1 .4 .9 .5 1 .8 2 .3 1 .4 .8 .4 .9 .2 .7 .2 .8 .4 1.3 .3 1.4 .3 .9 .2 1 .3 1.4 .2 1.4 .3 1.4 .3 1.4 .2 1.2 .1 1.2 .3 1.9 0 1 .1 1 0 1-.1 1.1 .1 1.4-.1 1.1-.1 1.1-.3-.5-.3-.9-.4-.8-.5-1-.2-1.1-.6-.5-.4-.4-.7-.6-.5-.7-.4 0-.4 .1-.8-.6-.5-.9-.4-.8-.5-.4-.4-.5-.8 .2-.5-.5-.8-.7-.8-.7-.9-.4-.8-.3-.2 .4 .1 .8-.7-.1-.8-.7-.8-.7-.6-.7-.3-1 .2-.8 .1-.8-.1-.7-.5-.9-.5-1-.4-1-.5-1-.6-1-.5-1-.8-.9-.7-.8-.2 .5-.3 .4 .1 .9 .1 .9-.3 .5-.3 .6-.6 .4-.6 .3 .1 1.6-1.1 .1-.2 .4-.3 .5-1.2-1-1.1-.1-.5-1.3-.8-.2-.6-1.5-.6 .1-.5 .3-.5 .2-.2 .6-.3 .6 .9 .8-.6 .1-.6 .1 .2 .6 1.4 .8 .1 .7 .6 .1 .7 0-.1 .9 .2 1.3 1.1 1-.4 .5-.9 .1-1-.8-.8-.8-1.6-.7-.9-.8-.6 0-.6-.8-.5-.8-.3-.5-1.5-.4-1.2 0-.7 .2-.8 .2-1.3-.5-1.1-1.1-.6 .3-.3 .5-.5-.7-.3 .5-.3 .5 .5 1.3 .7 .6 1.2 .1 1.2 .8 .8 .2 .8 .2 1-.2 .9 .1 .9 0 1.4 .3 .3 .7-.8-.1-.8 0 0 .3 .3 1.1 .9 .1 .3 .8 .1 2-.2 .5-.7-1.5-.5-1.2-1-.2-.5 0-1.1-.1-.9-.4-.6 .4-1.1-.1-1.3-.4-1.1-.3-1.2-1.3-.6 0-.9 .1-.1 .9-.5 .8-.1 .8-.2 .9-1 .3-1 .3-.5 .7-.6 .7 .4 1 .8 .7-.3 .9-.3 .9-.6 .6-.6 .5 .1 .5-.1 1.3 .1 1.5 .9 .7-.4 1 .3 1.3-.6 .7-.4 1.5-.8 .4-.9 .5-.9 .4-.4 .9-.6 .9M70.3-33.3l-1-1.4-.5 .1-.7-2-.8-1.8-.4-.8-.5-1.2-.5-1.1 .1-1 .8-.2 .7-.2 .5 1.5 .7 0 .7 .1 0-1 0-.9-.1-.7-.1-.7-.4 .3-.5 .2-.7-.3-.1-1.1 0-.8-.1-.9 .2-.6 .9 .2 .2 .8 .2 .8 1.2 1.2 .5-.2 .6-.1 .7 0 .6 0 1.1 .1 .9 .1 .6 .6 .2 .8 .2 .7-.4 .7 0 .6 0 .6-.5 .4-.4 .3-.7 .3-.6 .3-.3 .7-.3 .7-.1 .7-.1 .6 .1 .9 .1 .8-.5 .8-.5 .6-.5 .3-.5 .2M71.9-52.5l.7 .4 .6 .4 1 .9 .7 .1 .7 .1 .6 .1 1.1 .6 0-.7 .3 1 .6 .7 .6 .7 .8 1 .7 .6 .3-.7 .4 0 .4-.1-.2-.9-.1-1-.2-.9-1.1-.9-.7-.5-.8-.4-.6-.8-.1 .5-1.2-1.1-.8-1.2-.8-1.1 .2 .5 .1 .6-.8-.2-.1 .4-.2 .3-1.2-.7-.5-.7-.1 .7-.8-1.4-.1-.7-.1-.7-1.1-1-.9-.4 0 .6-.1 .7 .3 .7 .3 .7 .2 .8 .8 .9 .2 .9 1 1.2M36.7-25.1l.4-.4 .5-.4 .4-.4 .4-.5 .6-.4 .6-.4 .5-.3 .4-.4 .6-.6 .7-.7 .1-.5-.8 .1 0-1 0-1-.5-.6-.6 .3-.5 .2-.6-.7-1.5-1.2-.6 .1-1.2-1.3-.7-.3-.8 .2 .1-.6-.4-1.6-.3-.6-.5 .2-.5 .1-.6 .5-.1-1.9-.5 .2-.5 .3-.5 .4 .6 1.6 .3 1.2 .8 1.2 .9 .4 .7 1 .5-.3 .6-.2 .8 .9 .5 .4 .4 .8-.6 .2-.5 .3 .3 1 .7 .7-.4 .9 .1 .5 .9-.2 .8-.2 .3 .5-.5 .2-.4 .2-.4 1.1 0 1M34.6-28.2l-.5-1.3-.9-1.3-.1-1.3-.9-.8-.5 .1-.6 0-.3 .5-.2 .5 0 .7-.5 .6-.4 .5 .6 1.3 1 .9-.5 1.5 .9 .4 .6-.2 .6-.3 .6-1 .5-.3 .4-.4 .2-.1M15.6-68l-.7-.7-.6-.6 0-.2 .1-.3 .1-.2 0-.2 .1-.2 0-.3-.1-.3 0-.2 .2-.2 .2-.1 .1-.2 .2-.1 .3-.1 .3-.1 .2-.1 1.3 .6 .2 .3 .2 .3 .1 .4 .2 .3 .1 .3 .1 .3 .6 .1 .6 .2 0 .2-.1 .3-.1 .2-.1 .2 .3 .5 .3 .6-.5 0-.5 0-1.1-.3-.5-.1-.5-.1-.5-.1-.5-.1M32.3-74.5l-.9-.4-1-.4-.7-.4-.7-.4-1-.3-1-.2-.8-.3-.7-.3-.4-.3-.5-.2-.4-.3-.2-.2-.3-.2-.2-.3-.4-.3-.4-.2-.3-.3-.2-.2-.2-.2-.2-.2-.2-.2 1.2 .1 .6 .2 .6 .3 .5 .3 .4 .2 .4 .3 .4 .3 .4 .2 .4 .3 .4 .3 .4 .3 .6 .3 .7 .3 1.7 .6 1.1 .1 1 .1 .6 .4 .5 .4-.2 .3-.2 .3-.4 .1-.4 .1M13.4-84.9l-.6 0-.6 .1-.5 .1-.1-.2-.1-.2-.1-.1 0-.2-.1-.2-.1-.2 .1-.3-.1-.3 .5-.5 .4 0 .4 .1 .4 0 .4 .1 .2 .2 .1 .2 .1 .1 .1 .3 0 .2 0 .2-.2 .3-.2 .3M16.5-76.1l-.1-.2-.1-.2-.2-.2-.1-.2-.1-.2-.1-.2-.1-.1-.1-.2-.1-.2-.1-.2 .1-.1 0-.2 .1-.2 0-.2 .1-.1 .6 .1 .7 .2 .1 .2 .2 .2 .1 .2 .1 .2 .1 .2 .1 .2 0 .2-.1 .2 0 .2-.1 .2-.1 .2-.4 .1-.5 .1M1.1-91.9l-.3-.2-.4-.1-.4-.2-.4 .1-.4 .1-.4 .2-.3 .1-.4 .2-.3 .2-.5 0-.4 0-.5 0-.4 0-.4 0-.4 0 .4-.2 .3-.2 .4-.2 .4-.1 .4-.2 .4-.3 .5-.2 .5-.2 .5 0 .5 0 .5 0 .4 .4 .4 .4 .3 .4M-20.4-89.8l-.3 .3-.4 .2-.5 .2-.4 .2-.5 .1 .3-.3 .2-.3 .6-.1 .5-.1 .5-.2M63.3-16.5l.5-.6 .5-.7 .7-.7 .7-.7 .3 1 .3 1.1 .5 .4-1 .3-1 .2-1.1 .2-.4-.5M57.2-18.3l.6-.5 .5-.5 .9 1.4 .7 1.7-.5 .8-.8-.5-.7-1.2-.7-1.2M56-20.8l.4-1 .7 .9 .6 .9-.1 .6-1.1-.5-.5-.9M74.1-21.2l.1-1 .6-.4 .5-.4 .5-.5-.1 .9-.4 .5-.4 .4-.8 .5M79.1-28.3l.1-.9 .1-.9 .1-1.2 .5 1.7-.1 .8-.2 .7-.5-.2M-54.9-29.1l.5 .5 .5 .5 .5 .4 .7 .6 .6 .5 .6 .6 .8 .3 .8 .4 .7 .4 .3 .6 .4-1.2 .4-1.2-.5-1.1-.4-1.1-.9-.1-.8-.2-.9-.2-1.1 .1-1.1 .1-1.1 .1M-56.1-19l.8-1.3 .8-1.4 .9-1 1-.9 .9-.3 .9-.4 .8 .7-1.1 .7-1.1 .6-1 1.5-.9 1.5-1 .1-1 .2M-49.4-23.6l.8 .4 .8 .4 .8 .4 .4 .5 .5 .5-.2 1.2-.1 1.2-.7-.7-.7-.7-1.1 1.3-1.1 1.3-.3-1-.3-1 1.3-1.3-.1-1.2 0-1.3M-52-16.3l.7 .6 .7 .6 1.2 0 1.2 0 1.6-.6-1-.2-1-.2-1 0-1.1-.1-.7 0-.6-.1M-47.2-16.8l.9 .5 .9 .4 1 .5 1.4-.9-.9-.3-.8-.3-1.3 0-1.2 .1M-48.4-64.6l0 .6 0 .5 0 .6 0 .6 .1 .5 0 .6 .1 .5 .6 .4 .6 .3 .9 0 1 .1-.1-.6-.1-.6-.1-.5-.5-.4-.4-.4-.4-.3-.4-.4-.3-.4-.4-.3-.3-.4-.3-.4M-41.9-68.1l-.2 .5-.2 .6-.2 .5-.1 .6 .3 .3 .3 .4 .4 .4 .9-1 .9-.9-.1-.5-.1-.4-.1-.5-.9 0-.9 0M-49.7-55.4l.2 .5 .2 .5 .3 .6 .2 .5 .6 .2 .6 .2 .7 .2-.3-.6-.3-.6-.2-.6-.7-.3-.6-.3-.7-.3M-55.8-38.6l1.3-.8 1.3-.8 1.4-.8 1.5-.8-.6 1-.6 1.1-1.2 1.2-1.3 1.3-.6-.5-.6-.5-.6-.4" fill="none" stroke="#527a2e" stroke-width="1.3" stroke-linejoin="round"/></defs>
<text x="20.6" y="10.0" font-size="14.0" font-weight="bold">a</text>
<text x="128.3" y="15.0" font-size="12.0" >1901-2000 (CMIP6)</text>
<path d="M20.60,72.60 21.81,72.59 23.03,72.57 24.24,72.55 25.46,72.51 26.67,72.47 27.89,72.41 29.10,72.33 30.31,72.22 31.53,72.08 32.74,71.89 33.96,71.64 35.17,71.32 36.39,70.90 37.60,70.37 38.81,69.71 40.03,68.89 41.24,67.88 42.46,66.67 43.67,65.24 44.89,63.57 46.10,61.67 47.31,59.55 48.53,57.22 49.74,54.71 50.96,52.07 52.17,49.34 53.39,46.56 54.60,43.80 55.81,41.09 57.03,38.48 58.24,36.00 59.46,33.68 60.67,31.52 61.89,29.55 63.10,27.76 64.31,26.15 65.53,24.71 66.74,23.44 67.96,22.32 69.17,21.34 70.39,20.48 71.60,19.73 72.81,19.09 74.03,18.53 75.24,18.05 76.46,17.63 77.67,17.28 78.89,16.97 80.10,16.71" fill="none" stroke="#c6c6c6" stroke-width="2.5" stroke-linecap="round"/>
<path d="M20.60,72.60 20.99,72.60 21.39,72.59 21.78,72.59 22.18,72.58 22.57,72.58 22.96,72.57 23.36,72.56 23.75,72.56 24.14,72.55 24.54,72.54 24.93,72.53 25.33,72.52 25.72,72.50 26.11,72.49 26.51,72.47 26.90,72.46 27.30,72.44 27.69,72.42 28.08,72.40 28.48,72.37 28.87,72.34 29.27,72.31 29.66,72.28 30.05,72.25 30.45,72.21 30.84,72.16 31.23,72.11 31.63,72.06 32.02,72.01 32.42,71.94 32.81,71.87 33.20,71.80 33.60,71.72 33.99,71.63 34.39,71.53 34.78,71.43 35.17,71.32 35.57,71.19 35.96,71.06 36.36,70.91 36.75,70.76 37.14,70.59 37.54,70.40 37.93,70.21 38.32,70.00 38.72,69.77 39.11,69.52 39.51,69.26 39.90,68.98" fill="none" stroke="#000" stroke-width="2.6" stroke-linecap="round"/>
<circle cx="20.60" cy="72.60" r="2.0" fill="#000"/>
<circle cx="39.90" cy="68.98" r="2.0" fill="#000"/>
<text transform="translate(44.0,49.0) rotate(-72.0)" font-size="11.0">CO<tspan font-size="7.0" dx="0.4" dy="1.9">2</tspan></text>
<text x="-1.3" y="87.3" font-size="9.4" >296 ppm</text>
<text x="36.3" y="81.7" font-size="9.4" >370 ppm</text>
<clipPath id="clip_a"><circle cx="172.30" cy="134.10" r="101.30"/></clipPath>
<g clip-path="url(#clip_a)">
<g transform="translate(172.30,134.10)"><rect x="-105.3" y="-105.3" width="210.6" height="210.6" fill="#c4e0fa"/>
<path fill="#daecff" fill-rule="evenodd" d="M-104.3-104.3l208.6 0 0 208.6-208.6 0zM-53.7-77.8l-3.6 3.3 .3 1.5 2.9-1.5 2.5-3-.6-.7zM10.4-19.8l-.2 1.9 1.7 1 1.5 .1 2.1-1.1 .1-1.5-2.2-1.3-1.5 0z"/>
<path fill="#f0f8ff" fill-rule="evenodd" d="M-104.3-104.3l208.6 0 0 208.6-208.6 0zM-53.7-79.2l-4 3.2-2.4 3-.5 1.5 1 1 3-.9 2.9-2.1 2.7-2.5 1.6-3-1.3-1.2zM10.4-24l-2.9 1.5-1.5 1.8-.3 2.8 1.8 2.4 2.9 1.5 3 .4 4.5-1.1 2.2-1.7 .7-1.5 .2-1.5-.5-1.5-1.3-1.5-4.3-1.8z"/>
<path fill="#ffe4ca" fill-rule="evenodd" d="M-104.3-104.3l208.6 0 0 208.6-208.6 0zM-52.2-81.3l-4.4 2.6-4.5 4.2-2.1 3-.5 1.4 .1 1.5 1 .7 1.5 0 3-1 2.9-1.8 4.5-4.2 1.9-2.6 .9-3-1.3-1.3zM13.4-28.4l-5.9 1.4-2.8 1.7-1.6 1.5-.9 1.4-.6 3 .8 3 1.2 1.5 2.4 1.9 2.9 1.3 6 .8 6-1.1 5.4-2.9 1.3-1.5 1.1-3-.5-3-1.4-1.9-3-2.2-2.9-1.2z"/>
<path fill="#ffd8b9" fill-rule="evenodd" d="M-104.3-104.3l208.6 0 0 208.6-208.6 0zM-96.9 73l-3 .8-1.5 1.8-.3 1.9 .7 3 2.1 3 3.5 2.6 3 .8 3-.6 1.5-2 .3-2.3-1.6-4.5-3.2-3.2zM-87.9 14.7l-2.3 4.7-.7 4.4 .5 4.5 1.9 4.5 2 2.3 3 1.6 4.5 .3 3.6-1.2 1.3-1.5 .2-1.5-.6-4-1.5-3.5-4.5-6.7-3-3.3-1.5-1.2-1.5-.4zM-50.7-82.4l-5.9 2.5-5.1 3.9-3 4.5-.8 2.9 .4 1.5 1 .6 1.5 .1 3-.9 3-1.5 4.4-3.7 3.9-5 1-3-.4-1.7zM20.9-32.5l-12 1.7-4.4 2.2-3 2.7-1.3 2.1-.8 2.9 .4 3 1.7 3 1.5 1.4 4.5 2.6 4.4 1.1 4.5 .3 10.4-.8 7.5 .8 3.7-8.4-2.1-5.9-4.6-1.6-1.5-1.2-3-5.2-1.5-.6zM4.5 31.2l-.5 1.6 2.8 1.5 5.1 1.2 4.7 .3 3.5-1.5-1-1.5-4.3-1.5-5.9-.6zM28.3 65.1l-7.4 3.5-1.4 1.5 .2 1.4 4.1 1.8 6 .2 7.5-1.7 2.6-1.7 .1-1.5-1.4-1.5-2.8-1.5-3-.9z"/>
<path fill="#ffc6a0" fill-rule="evenodd" d="M-104.3-104.3l208.6 0 0 204.8-2.9-.6-3 .5-1.1 1-.5 1.4 .2 1.5-60.1 0-14.5-19.8-1.5-.9-1.5 .7-3 2.5-3 4.2-1.5 5.9 .7 7.4-116.9 0 0-15.8 4.4 3.9 4.5 2.8 4.5 1.9 4.4 .6 3-.8 3-2.4 1.7-3.6 .5-4.4-.7-5.4-1.9-5.1-2.6-4.5-4.4-4.9-3-1.9-4.5-1.6-4.5-.3-4.4 .7zM-92.4-45.1l-1.5 .9-1.9 2.5-1.1 3.1-.6 5.8 0 6 .9 5.9 4.3 14.9 1 6-.7 4.5-3.2 10.4-1.3 6-.1 5.9 .8 4.5 1.7 4.5 1.7 3 3 3.4 2.9 2.1 3 .9 3 .3 6-.5 5.9-1.1 1.9-.7 1.4-1.5 .1-1.5-2-4.4-2.9-2.3-3.3-8.2-5.9-8.9-4.6-6-5-10.4 0-1.5 1-1.6 .8-2.9 1.1-8.9 1-3.3 .3-7.1-.8-3-1-11.9-.8-3-.6-1-1.5-1zM-70.1-88l-2.7 1.5-1.2 3-.1 3 1.1 4.3 3.9 6.1 1.1 4.5 2.4 1.4 4.5-.7 5.9-3.6 4.5-4.8 2.8-4.2 1.2-3 .1-1.5-1.1-1.1-1.5-.2-6 1-1.4-.2-7.5-4.3-3-1.1zM-20.9 8.4l-1.7 2-.4 1.5 .5 3 1.7 3 6.8 7.4 1.1 4.5 .9 1.5 4.3 3 21.8 7.4 2.8 1.5 1.5 1.5 .6 3-1.5 13.4-1.6 3-5.6 4.5-.7 1.5 2.3 5 1.5 1.7 5.4 3.7 1.9 1.5 .2 .6 9.2-3.6 18.1-6 3.4-1.5 1.9-1.4 .3-1.5-.7-1.5-2.4-3.1-4.6-7.4-4.8-4.4-8.7-6-2.8-3-.2-1.5 2.7-5.9 .3-1.5-.4-1.5-1.2-1.5-5.7-2.6-14.9-4.2-5.4-2.1-2.1-1.5-7.7-7.5-7.1-4.4-4.5-1.3-3 .1zM26.8-38l-10.4 3.2-8.8 .5-6.1 1.3-3.9 1.7-1 1.5-.8 3 0 4.4 .6 3 2.5 4.5 4.1 3.5 3 1.5 4.4 1.4 9 1.5 3.4 1 3.8 3 7.7 8.3 3 1.5 1.5 .3 1.4-.3 3-4.9 .3-1.9-.6-1.5-2-1.5-1.1-1.5-1.4-7.4 .4-1.5 3.4-3 .7-1.5-.4-1.5-2.8-3-.9-3.3-3-1.8-3 0-1.7-.8-.5-1.5 .7-3-3-5zM-64.1 26.6l-1.5 .3-1.3 7.4 1.3 1.1 4.5 .5 1.7-1.6-.2-1.5-1.7-3z"/>
<path fill="#ffac80" fill-rule="evenodd" d="M-58.8-104.3l32.7 0 5.2 1.1 5.2 1.8 8.2 .4 4.5-.8 1.7-1 .9-1.5 104.7 0 0 52.8-2.9 .4-6 1.9-2.7 1.5-.4 1.5 .8 4.5 3.1 5.9 1.4 4.5 1.8 7.5 .4 7.4 1.5 4.5-.1 22.3-1.4 6-.5 7.4 .6 1.7 4.4 1.9 0 54.3-3.4-4.2-2.8-1.5-7.2-1.2-4.4 .7-4.5-.3-3-1.2-3.6-2.5-.7-1.4 .1-1.5 1.5-7.5 2.3-5.9 .4-3-.5-3-3.1-4.5-.9-2.9-2.5-.1-4.9 4.1-3 1.4-10.4 2.3-3-.4-3-1.2-7.1-4.7-2.2-3-.4-2.9 .8-4.5-2.2-6-.1-1.5 1.3-4.4 2.2-4.5 4-4.5 3.7-10.8 .6-1.1 3.4-3 4-8.9-.5-4.5-1.5-1.4-3.7 4.4-2 5.9-1.1 0-1-1.4-.5-3 1.4-6-.9-3-1.7-2.9-.2-1.5 .9-9 .9-3 3.5-4.4 1.2-3-1.4-6-1.4-2-1.5-.3-3 1.4-.4 .9 .8 4.5-.4 1.1-5.9 1.1-4.5-.7-1.5 .3-14.9 7.1-10.4-.6-6 .6-4.5 1.4-7.4-1.3-4.5 .4-1.5 .6-1.2 1.9-.3 3 1.6 7.5-.2 2.9 2.2 4.5-.2 1.5-1.9 .9-1.5-.4-2.3-2-.7-3-2.9-.7-1.5 .6-.6 3.1 1.2 3-1.5 1.5-2.1 .8-6 .1-3 2-2.9 1.3-1.5 1.8-1.8 2.9-1.7 4.5 .4 7.4-.6 3-.8 1.5-1.5 .8-1.5 0-4.5-1.5-2.9 .5-.4 .2 .6 3-.3 1.5-1.4 .1-2.1-1.6-.5-1.5 .9-3-3-8.9-1.3-1.7-3-2.2-2.9-3.6-1.5-.8-3 .2-4.5 4-.4-.4 .4-3 3.8-7.4 .9-3-.5-3-4.2-6.6-1.5-3.8-.2-6 1.3-4.5 2.3-4.4 8.5-9.6 5.5-3.8 3.5-3.4 7.8-5.6 1.1-1.3 5.4-10.6 1.6-4.5 0-1.5-1-1.1-4.5-1-1.5-.9-3.8-4.4-2-4.5zM-104.3-98.4l4.4 .6 3 1.5 2.5 2.4 1.6 3 1 4.4-.2 6-1 3-.9 1.4-1.5 1.1-1.5 .4-3-.3-4.4-2.2zM-52.2 25.3l1.5-.4 1.5 .5 1.5 1.4-.3 1.5-1.2 .5-1.8-.5-1.5-1.5zM-34.4 38.8l6.1-.8 10.4 1.3 9.4 2.4 3.6 1.5 3.4 2.4 1.9 2.1 1.2 3 .4 3-.3 2.9-1.7 4-4 3.5-.6 1.5 3.1 3 7.3 4.4 .9 1.5-.1 1.5-3.6 6-1.8 4.5-2.3 2.9-1.9 1.8-4.3 2.7-4.6 5-3 2-4.5 1.2-10.4-.1-3 .8-1.6 1.5-14.3 0-.5-2.2-1.5-2.1-4.5-1.9-2.9-2.4-1.5-2.1-1.9-4.2-1.9-7.4-.8-6 .3-3 1.4-4.4-3.9-10.5-.2-1.5 .6-4.4 .5-1.5 3.8-4.5 1.8-4.5 1.8-1.6 4.4-1 4.5 .5 6 1.8 5-1.2zM56.2 82l3.4-.2 4.5 1 3 1.6 3 2.8 1.5 2.2 1.9 4.5 2 10.4-22.1 0-1.2-1.3-3-4-1.9-3.6-.8-3 .1-3 1.1-2.7 1.5-1.7 3-1.9z"/>
<path fill="#ff9669" fill-rule="evenodd" d="M9.2-102.8l4-1.5 20.1 0 20.4 6.6 5.9 1.2 4.5 .3 6-.9 4.4-1.8 1.4-1 .7-1.5-.6-2.9 19.5 0-7.5 4.4-1.7 1.5-.9 1.5-.4 3 .3 3 1.2 3 7.6 10.4 3.6 6 2 4.4 1 4.5 .1 3-1 3-1.8 1.4-5.6 2.1-3 1.6-2 2.3-.3 1.5 1.2 6-.8 2.9 .1 1.5 1.8 2.1 3 1.3 1.5 2.8 2 7.3 .3 5.9-.8 1.8-1.5 1.2-.1 1.5 1.1 3 2.3 2.9 .6 1.5-.9 9.2-1.5 4.3-3 4-3 2.4-7.4 4.2-3.3 2.8-4.5 7.4-1.9 6-1.4 1.5-3.8 2.6-5 4.8-6.9 2.9-3 .2-3-.9-5.7-3.7-1.3-1.5-.6-1.4 .6-3 3.4-6 1.3-7.4 10.1-16.4 1.2-4.5-.6-7.5 .3-1.5 3.2-5.5 1.8-1.9 .8-1.5-.1-1.5-.7-1.5-5.4-4.4 .6-1 2.5-.5 1-1.5-4-3-.4-1.5 1.8-3 3.6-3.3 1.5-.4 4.5 2.7 1.5 .3 1.4-.8 4.1-5.9 .6-1.5-.2-4.1 4.5 .2 .8-.6 .5-1.5-.5-1.5-2.5-3-4.3-2.9-6.6-6-2.7-4.5-1.8-4.4-.6-3 0-3 1-7.5-.5-1.5-1.7-1.4-3.5-1-2.9-.2-13.6 1.2-.4 1.4 5.6 9 2 6-.1 5.9-1.9 6-1.8 3-4.7 2.9-1.5 4.3-1.5 1.4-1.5 .5-4.5-.4-1.5 .6-4.5 2.4-6.2 4.7-2.7 1.3-3 .1-7.4-1.7-9-.3-13.4 .5-3 .6-3.3 .9-.9 1.5-.5 3-1.2 1.7-7.5 4.8-4.5 1.7-1.8-.7 1.8-2.3 1.7-6.7-1.7-1.3-1.5 .7-3.3 5.1 0 3 .4 1 .8 .5-.8 .7-1.5 .2-7.5-2-3-.3-10.4 2.3-6-.2-4.4-2.3-1.5-1.5-1.4-2.9-.1-2.7 .5-1.8 1.6-2.9 2.4-2.7 5.9-4.3 16.4-9.3 1.1-1.6 .9-3 1.3-10.4 3.8-12 0-1.5-1.1-1.2-3.3-1.7-1.9-3-.2-3 .9-2.1 1.5-1.7 3-1.8 4.5-1.2 5.9 .1 10.5 1.5 8.9 .1 12.4-.9zM-54.9-6l2.7-.3 1 .3 .1 1.5-7 4.2-1.5 .4-1-1.6-.1-1.5 1.8-1.5zM-49.6 46.2l1.9-.8 7.5 0 1.4 .4 7.5 8.6 3 1.6 3 .5 2.9 1.5 1.7 1.6 1.2 3 1.6 2.2 1.5 1.2 4.5 2 2.7 2.1 5.1 5.9 1.5 3 .2 4.5-1 3-1.2 1.4-5.8 3-6 3.9-4.5 1.3-8.9 .5-6 3-4.4 2.9-1.5 0-1.2-1.1 1.8-7.5-.5-1.5-3.4-4.5-1.4-2.9-1.5-6-1.3-2.2-4.4-5.3-1.6-2.9 0-1.5 1.5-.5 7.5 .1 6-1 4.6-1.6 2.8-1.5 1.2-1.5-.2-1.5-2.4-1.5-12-1.1-3-.7-2.2-1.1-1.4-1.5-.4-1.5 .1-1.5 1.9-3zM100.9 67.1l3.4-1.9 0 6.8-2.6-.5-2.2-1.4 .2-1.5z"/>
<path fill="#ff825a" fill-rule="evenodd" d="M-26.8-96.5l28.3-3 22.3 .5 7.5 1.1 3 1 2.2 1.5 0 1.5-2.4 1.5 .5 1.5 7.4 10.4 2.2 4.5 .9 3 0 5.9-2.4 7.5-3.9 3.6-1.5 2.9-1.5 1.6-4.5 .5-6 3.3-2.9 2.3-3.5 3.7-2.5 1.5-3 .1-5.9-2.3-3.9-.8-1.9-1.5-.9-1.5-2.3-.5-4.5 .4-4.4 3.2-7.5 .4-5.9 1.2-4.5 3.2-1.5 0-4.5-2.9-5.9-2-1.7 0-2.8 2.7-1.5-.6-1.9-2.1-.8-3 .1-1.5 2.6-5.9 .8-3 .5-14.9 3.3-15-3.1-3.6-.4-.8 .4-2 2.6-2.5 4.8-1.4zM73.3-31.3l1.2-.9 1.5 .1 .3 2.3-1.8 1-1.3-1zM82-23.4l3-5.9 1.5 1.2 1.6 2.8 .2 1.5-1.9 2.9 3 6 .8 3 .1 3-.8 2.9-2.6 4.5-3.4 2.7-4.5 1.3-4.5-.4-3-1.6-1.4-1.3-2.6-3.7-.3-1.5 .7-1.5 4.1-2.9 1-1.4 .2-3.1 1.3-2.9 1.5-1.3 3.3-1.8zM-32.3 73l4-1.1 4.5-.3 4.4 .7 4.5 1.8 3 2.2 2 2.7 .6 1.5 .2 3-.9 3-1.2 1.4-3.9 3-2.8 1.5-3 .7-7.4-.2-5.4-2-2.2-1.5-2.5-2.9-1.2-3-.1-3 1.2-3 1.3-1.5z"/>
<path fill="#ff7350" fill-rule="evenodd" d="M-4.6-98.4l10.6-.3 11.9 1.4 8.9 2.9 3 1.9 3 2.6 5 6.4 2.7 4.5 1.6 4.5 .5 3-.4 2.9-2 4.4-.3 3.1-4.1 5.7-1.5 1.1-4.5 1.2-6 3.7-1.4 1.2-4.5 5.8-1.5 1.1-1.5 .3-2.5-.7-5.1-3-1.3-1.4 .5-4.6-.5-1.4-1.5-.4-7.5 .6-1.5 .8-5.9 5.3-1.5 .6-3 0-4.5-1.2-8.9 4-1.5 .3-11.9-6.2-1-.9-.2-1.5 .8-7.4-.5-13.4 1.6-10.5 2.1-5.9 .2-1.5-.7-1.5 .7-1.5 2.9-1.1 6-.5 10.4-2.6zM-25.2 76l2.8 0 3 .7 3.7 2.3 1.1 1.5 .4 3-.5 1.5-1.7 2-3 1.7-4.4 .5-4.5-1.1-3-2.4-1.1-2.2-.2-1.5 1.2-3 3.1-2.2z"/>
<path fill="#ff6946" fill-rule="evenodd" d="M-13.1-96.9l10.1-1 7.5-.1 8.9 .8 7.5 1.7 4.4 1.8 4.2 2.8 4 4.4 4 6 1.8 4.5 .5 4.5-2.7 10.4-2.8 3.7-4.5 1.6-7.8 5.1-1.1 1.2-3 5.4-1.5 1.5-1.5 .5-1.5-.4-4.4-3.7-.6-1.5 .1-3-1-4.9-3-4.5-1.5-.5-7.5 3.7-1.5 2.7-1.1 3.5-1.8 1.8-3 1.6-3-.3-3-2.6-1.5-.6-7.4 5.2-3 0-3-1-6-4.1-.6-1.5 0-5.9-1.1-13.4 1.3-10.5 1.9-4.9 3-3.6 4.5-2.2 7.4-2.4z"/>
<path fill="#ff5532" fill-rule="evenodd" d="M-8.3-96.9l8.3-.6 7.5 .3 7.4 1 6 1.7 4.4 2.1 3.7 3 3.6 4.4 2.5 4.5 1.1 4.5-.4 5.9 .3 4.5-.9 3-2.4 3.2-4.5 1.7-7.4 5.2-4 7.8-2 1.4-2.5-1.4-2.3-3-1.2-6.1-1.4-4.9-2.8-6.9-1.7-1.6-9.2 1.6-.5 3 .4 3-.3 3-1.3 4.4-.9 1.5-1.6 1.1-3 .4-1.5-.6-3-4.2-1.5-1-.1 1.3-3 3-.7 1.5-2.1 1.4-1.5-.5-3 .3-1.5-.4-4.6-3.8-.6-1.5-2-17.8 1.1-10.5 1.7-4.5 2.9-3.2 6-3.1 9.1-2.6z"/>
<path fill="#ff4123" fill-rule="evenodd" d="M-13.6-95.4l13.6-1.4 8.9 .4 6.1 1 4.9 1.5 5.4 3 3 3 3.3 4.4 1.2 3 .6 4.5-.8 11.9-1.3 1.7-3 1.5-7.4 5.7-1.5 2-2.8 7-1.7 1.5-1.5-.5-2.2-2.5-2.3-9-3.1-8.9-1.3-2-1.5-.6-1.5 0-4.5 1.1-1.5-.3-3-1.7-1.5 2 .5 4.5 .9 3-.1 3-1.2 3.7-1.5 1.6-3 .1-1.5-1.1-3-3.6-1.9 .7-.2 1.5-3.8 3.1-3-.6-3 .3-1.5-.6-1.8-2.2-2.9-14.9 .5-13.4 .7-3 2.2-2.9 4.3-3.2 5.9-2.3z"/>
<path fill="#ff0f05" fill-rule="evenodd" d="M-8.9-95.4l7.4-.7 9 .3 4.4 .6 5.3 1.3 3.5 1.5 4.1 3 2.6 2.9 2.8 4.5 1.1 7.5-1.9 7.4-3.2 4.5-5.3 4.7-1.5 1.8-2.1 6.9-.9 1.8-1.5 1.4-1.5-.4-2-2.8-2.5-9.3-2.9-8.6-1.5-1.5-1.5-.5-6 1.1-4.5-2.1-.3 1.5-2.7 3 2 6 .1 1.5-.5 2.4-1.5 2.4-1.5 .4-1.5-.3-4.5-3.7-2.3 1.7-.7 2-1.5 .7-1.4-.7-4.5-.6-1.9-1.4-.6-1.4-.5-4.5-1.5-2.2-.8-2.3 1.2-10.4-1-6 .5-3 4.7-4.4 4.4-2.5z"/>
<path fill="#ff0000" fill-rule="evenodd" d="M-11.5-93.9l10-1.4 10.4 .5 4.5 .8 4.7 1.6 2.6 1.5 4.3 4.4 3.6 7.5 .5 3-.5 3-2.5 5.9-6.7 7.9-2.9 10-1.6 2-1.5-.3-1.5-2.2-5.1-17.4-2.3-2.3-3-.4-4.5 .9-3-1.8-1.5 .2-.6 1.9-2.7 3-.8 1.5 1.7 3 .6 3-1.1 2.6-1.5 .7-1.5-.2-3-2.2-1.5-.1-2.7 2.1-.3 1.3-5.9-3.6-2.6-5.1-1.9-2.3-.4-2.2 2.2-11.9-.8-4.5 .7-1.5 4.6-4.4 2.3-1.5z"/>
<path fill="#f0000a" fill-rule="evenodd" d="M-5.4-93.9l3.9-.3 10.4 .5 7.5 2 3.5 2.3 1.4 1.5 1.9 4.4 3 4.5 .5 3-.8 3-2.1 4-4.4 5.6-2.5 11.2-.5 1.7-1.5 2.2-1.5-.3-1.5-2.5-4.3-16-1.6-2.4-1.5-.9-3-.5-4.5 .9-3-1.8-1.5 .9-.7 .8-.1 1.5-4 4.5 1.9 4.5-.1 1.5-1.4 1.2-1.5 0-3-1.5-4.5 2.4-2.9-2.1-3-5.6-1.9-1.9-.7-1.5 .5-4.4 1.8-4.5 1.4-7.5 1.6-3 3.7-2.9 8.9-3z"/>
<path fill="#dc0014" fill-rule="evenodd" d="M-3.2-92.4l12.1 .8 4.5 .6 1.5 .6 1.5 1 1.2 1.5 .5 2.9 5.7 6.7 .3 2.3-.5 1.5-5.4 8.9-1.2 10.4-.7 3-1.4 2.8-1.5-.3-1.5-2.7-3.1-13.2-2.1-4.5-3.7-2.3-4.1-.6 .1-1.5 3.2-4.5 2.3-2.1 5.6-3.9-1.2-1.6-7.4-1.2-7.5 .3-4.4 .9-3 1.3-2.6 1.8-1.5 1.5-.7 1.5 .7 1.5 5.8 3 5.7 1.9 .7 1.1-.7 .1-2.5 2.8 0 1.5-5.3 6 .8 1.5-.1 1.5-.7 0-.2-1.5-.9-.2-.5 1.7-4 1.4-1.5-.3-1.5-1.6-2.5-7-.2-3 1.3-4 3.6-6.4 1.3-4.5 1.5-1.5 5.3-2.9z"/>
<path fill="#c3001e" fill-rule="evenodd" d="M11.1-80.5l2.3-.4 3 .4 3 1.5 .9 1.5 .1 1.5-2.1 4.5-1.2 4.4-.3 10.5-.6 2.9-1.3 3.1-1.5-.2-1.5-2.9-1.9-7.4-1-6-.1-3-1.9-5.9 .4-1.5 1.1-1.5zM-19.6-70.1l1.7-.8 6-.3 3 .5 .1 2.1-6.1 6.4-1.5 .8-1.5-.1-1.5-.5-1.5-2.1 0-3.3z"/>
<path fill="#a50026" fill-rule="evenodd" d="M11.5-76l.4-.5 1.5-.3 .9 .8 1.4 5.9 .7 12-.3 2.9-1.2 3.3-1.5 0-1.5-2.9-1.8-9.3zM-16.5-67.1l1.6-.9 1.5-.1 1.6 1-.6 1.5-2.5 1.1-1.5-.1-.5-1z"/>
<path fill="#87002d" fill-rule="evenodd" d="M11.8-68.6l1.6-1.2 1.5 2.7 .7 3 .4 6-1.1 5-1.5 .2-1.9-5.2-.9-6z"/></g>
<circle cx="184.9" cy="74.2" r="0.90" fill="#fff"/><circle cx="187.5" cy="72.6" r="0.90" fill="#fff"/><circle cx="185.3" cy="83.2" r="0.90" fill="#fff"/><circle cx="172.30" cy="56.50" r="1.3" fill="none" stroke="#fff" stroke-width="0.7"/>
<use href="#grid" transform="translate(172.30,134.10) scale(0.9990)"/>
<use href="#coast" transform="translate(172.30,134.10) scale(0.9990)"/>
</g>
<circle cx="172.30" cy="134.10" r="101.30" fill="none" stroke="#333" stroke-width="0.8"/>
<polygon points="294.2,47.7 303.2,37.9 312.3,47.7" fill="#87002d"/>
<rect x="294.20" y="47.70" width="18.10" height="9.86" fill="#a50026"/>
<rect x="294.20" y="57.51" width="18.10" height="9.86" fill="#c3001e"/>
<rect x="294.20" y="67.32" width="18.10" height="9.86" fill="#dc0014"/>
<rect x="294.20" y="77.13" width="18.10" height="9.86" fill="#f0000a"/>
<rect x="294.20" y="86.94" width="18.10" height="9.86" fill="#ff0000"/>
<rect x="294.20" y="96.76" width="18.10" height="9.86" fill="#ff0f05"/>
<rect x="294.20" y="106.57" width="18.10" height="9.86" fill="#ff4123"/>
<rect x="294.20" y="116.38" width="18.10" height="9.86" fill="#ff5532"/>
<rect x="294.20" y="126.19" width="18.10" height="9.86" fill="#ff6946"/>
<rect x="294.20" y="136.00" width="18.10" height="9.86" fill="#ff7350"/>
<rect x="294.20" y="145.81" width="18.10" height="9.86" fill="#ff825a"/>
<rect x="294.20" y="155.62" width="18.10" height="9.86" fill="#ff9669"/>
<rect x="294.20" y="165.43" width="18.10" height="9.86" fill="#ffac80"/>
<rect x="294.20" y="175.24" width="18.10" height="9.86" fill="#ffc6a0"/>
<rect x="294.20" y="185.06" width="18.10" height="9.86" fill="#ffd8b9"/>
<rect x="294.20" y="194.87" width="18.10" height="9.86" fill="#ffe4ca"/>
<rect x="294.20" y="204.68" width="18.10" height="9.86" fill="#f0f8ff"/>
<rect x="294.20" y="214.49" width="18.10" height="9.86" fill="#daecff"/>
<polygon points="294.2,224.3 303.2,234.3 312.3,224.3" fill="#c4e0fa"/>
<path d="M294.20,47.70H312.30M294.20,57.51H312.30M294.20,67.32H312.30M294.20,77.13H312.30M294.20,86.94H312.30M294.20,96.76H312.30M294.20,106.57H312.30M294.20,116.38H312.30M294.20,126.19H312.30M294.20,136.00H312.30M294.20,145.81H312.30M294.20,155.62H312.30M294.20,165.43H312.30M294.20,175.24H312.30M294.20,185.06H312.30M294.20,194.87H312.30M294.20,204.68H312.30M294.20,214.49H312.30M294.20,224.30H312.30" stroke="#3a2a2a" stroke-width="0.7" stroke-opacity="0.8" fill="none"/>
<path d="M294.20,47.70L303.25,37.90L312.30,47.70L312.30,224.30L303.25,234.30L294.20,224.30Z" fill="none" stroke="#555" stroke-width="0.6" stroke-opacity="0.7"/>
<text x="319.8" y="50.7" font-size="7.5">0.3</text>
<text x="319.8" y="70.3" font-size="7.5">0.26</text>
<text x="319.8" y="89.9" font-size="7.5">0.22</text>
<text x="319.8" y="109.6" font-size="7.5">0.18</text>
<text x="319.8" y="129.2" font-size="7.5">0.14</text>
<text x="319.8" y="148.8" font-size="7.5">0.1</text>
<text x="319.8" y="168.4" font-size="7.5">0.06</text>
<text x="319.8" y="188.1" font-size="7.5">0.02</text>
<text x="319.8" y="207.7" font-size="7.5">0</text>
<text x="317.4" y="227.3" font-size="7.5">-0.05</text>
<text x="304.5" y="246.7" font-size="9" text-anchor="middle">&#x2DA;<tspan dx="-0.6">C/decade</tspan></text>
<text x="376.2" y="10.8" font-size="14.0" font-weight="bold">b</text>
<text x="480.3" y="15.2" font-size="12.0" >2001-2100 (CMIP6)</text>
<path d="M376.40,73.10 377.55,73.09 378.70,73.07 379.85,73.05 380.99,73.01 382.14,72.97 383.29,72.91 384.44,72.83 385.59,72.73 386.74,72.58 387.89,72.40 389.04,72.15 390.18,71.84 391.33,71.43 392.48,70.91 393.63,70.26 394.78,69.45 395.93,68.46 397.08,67.27 398.23,65.86 399.37,64.22 400.52,62.35 401.67,60.26 402.82,57.96 403.97,55.50 405.12,52.90 406.27,50.21 407.42,47.48 408.56,44.76 409.71,42.10 410.86,39.53 412.01,37.09 413.16,34.80 414.31,32.68 415.46,30.74 416.60,28.98 417.75,27.39 418.90,25.98 420.05,24.73 421.20,23.62 422.35,22.66 423.50,21.81 424.65,21.08 425.79,20.44 426.94,19.89 428.09,19.42 429.24,19.01 430.39,18.66 431.54,18.36 432.69,18.11" fill="none" stroke="#c6c6c6" stroke-width="2.5" stroke-linecap="round"/>
<path d="M393.05,70.61 393.35,70.43 393.64,70.25 393.94,70.05 394.24,69.85 394.54,69.63 394.83,69.41 395.13,69.16 395.43,68.91 395.73,68.65 396.02,68.37 396.32,68.07 396.62,67.77 396.91,67.45 397.21,67.11 397.51,66.76 397.81,66.40 398.10,66.02 398.40,65.62 398.70,65.21 399.00,64.78 399.29,64.34 399.59,63.88 399.89,63.41 400.19,62.92 400.48,62.42 400.78,61.90 401.08,61.37 401.37,60.82 401.67,60.26 401.97,59.68 402.27,59.09 402.56,58.49 402.86,57.88 403.16,57.26 403.46,56.62 403.75,55.97 404.05,55.32 404.35,54.65 404.64,53.98 404.94,53.30 405.24,52.62 405.54,51.93 405.83,51.23 406.13,50.53 406.43,49.83 406.73,49.12 407.02,48.41 407.32,47.71 407.62,47.00" fill="none" stroke="#000" stroke-width="2.6" stroke-linecap="round"/>
<circle cx="393.05" cy="70.61" r="2.0" fill="#000"/>
<circle cx="407.62" cy="47.00" r="2.0" fill="#000"/>
<text transform="translate(396.6,52.6) rotate(-72.0)" font-size="11.0">CO<tspan font-size="7.0" dx="0.4" dy="1.9">2</tspan></text>
<text x="416.3" y="52.3" font-size="9.4" >1142 ppm</text>
<text x="380.6" y="87.2" font-size="9.4" >372 ppm</text>
<clipPath id="clip_b"><circle cx="523.60" cy="137.80" r="101.40"/></clipPath>
<g clip-path="url(#clip_b)">
<g transform="translate(523.60,137.80)"><rect x="-105.4" y="-105.4" width="210.8" height="210.8" fill="#c4e0fa"/>
<path fill="#daecff" fill-rule="evenodd" d="M-104.4-104.4l208.8 0 0 208.8-208.8 0z"/>
<path fill="#f0f8ff" fill-rule="evenodd" d="M-104.4-104.4l208.8 0 0 208.8-208.8 0z"/>
<path fill="#ffe6cc" fill-rule="evenodd" d="M-104.4-104.4l208.8 0 0 208.8-208.8 0z"/>
<path fill="#ffd9b8" fill-rule="evenodd" d="M-104.4-104.4l208.8 0 0 208.8-208.8 0z"/>
<path fill="#ffcca8" fill-rule="evenodd" d="M-104.4-104.4l208.8 0 0 208.8-208.8 0z"/>
<path fill="#ffc098" fill-rule="evenodd" d="M-104.4-104.4l208.8 0 0 208.8-208.8 0z"/>
<path fill="#ffb085" fill-rule="evenodd" d="M-104.4-104.4l208.8 0 0 208.8-208.8 0zM4.5-18.4l-.9 .5-1 1.5 .4 1.5 3 .4 1.5-.5 1.3-1.4-.2-1.5-1.1-.6zM31.3 33.7l-3 1.8-1.3 1.8-.2 1.5 .4 1.5 1.1 1.6 3 2.1 2.3 .8 2.2 .1 1-1.6-1.8-9-.7-.9z"/>
<path fill="#ffa275" fill-rule="evenodd" d="M-104.4-104.4l208.8 0 0 208.8-58.7 0 3.4-2.9 2.3-3 .8-3-1.3-3-3.8-3-14.3-7.8-5.9-2.5-4.5-.7-6 .9-6 2.5-4.4 3-2.4 3.1-5.1 4.7-1.5 1-6 .7-2.1 1.1-1.6 1.5 .8 .6 4.4-1.6 3 .2 3 1.5 3 2.2 4.2 4.5-24.6 0 6.1-5.9-.6-.7-6 .5-8.9-.1-4.5 3.6-1.5 2.6-70.1 0 0-35.5 5.9-.8 12 1.8 2.9-.2 1.5-.9 1.5-2 1.1-5.6-.7-6-1.9-2.6-2.9-.5-10.5 .3-4.5-1-4.4-1.7zM-77.6 27.7l-1.5 9.6 .3 4.5 1 3 1.7 1.2 1.5 .2 7.5-1.5 1.5-1.4 .3-1.5-.5-1.5-6.6-6-3.7-7.1zM4.5-25.4l-6 2.1-4.2 3.9-1.8 3-4.4 10.4-7.5 8.9-2 3.1-2.1 4.4-2.3 7.5-1.9 3-1.5 1.5-5.1 3.1-9 2.5-3 2.6-2.9 .8-3-.5-1.5-.8-9-8.6-2.9-2.3-1.5 .1 1 1.6 .8 3-.5 7.4 0 1.5 .8 1.5 3.8 2.2 4.5-.5 4.5 .2 4.5 1.8 2.9 2.3 7.5 2.4 6.6 6.5 2.2 1.5 6.1 2.5 3.2 2 1.8 1.5 2.5 4.2 1.5 .5 1.2-.2 .3-.9-.3-6.6 1.1-3 1.1-1.5 5.7-4.4 4.3-2 3-.6 4.5 .5 4.4 2.5 4.2 4 7.8 10.7 4.4 2.7 4.5 .4 6-.9 8.9-2.5 6.7-2.9 3.5-3 .9-1.5-.5-1.5-3.1 .7-6-1.2-9.5-8.4-1.5-3-.1-6-3-5.9-.3-4.5-.5-1.3-3 .7-16.4 7.3-5.9 1.5-4.5-.4-3-1.3-2.8-2-2.3-3-.8-3 .3-3 3.5-11.9 2.3-4.5 4.9-4.5 16.8-8.9 3.2-3 .6-1.5-1-3-3.4-3-2.6-1.5-3.8-1.2-4.5-.7zM-71.6 87.7l-2.8 1.8-.8 1.5-.3 3 1.6 3 2.5 1.5 11.7 2.6 7.5 3 1.5 0 2.5-4.1 3.4-4.3 .7-1.7-.6-1.5-3-3-3-1.3-16.4-.8z"/>
<path fill="#ff9468" fill-rule="evenodd" d="M-22.7-104.4l3.6 0 0 1.5 2.7 1.4 8.9 .2 3.5-.2 1.7-1.4 .5-1.5 106.2 0 0 52.8-2.9 .2-4.5 1.4-3 .4-1.5 .5-1.3 1.4 1.3 5.4 3.8 5 1.7 4.5 1.8 7.4 .8 9 1.8 4.5-.2 22.3-1.9 7.5-.4 6 .9 1.5 3.6 1.6 0 48.4-11.9-.4-6 1.1-4.4-.1-6-2.5-2.1-1.9-.5-1.5 .2-1.5 1.2-3 .9-4.4 2.4-6 .5-3-.3-3-2.2-4.4-.6-3-1-2-3-.2-3 .6-7.4 5.4-7.5 3-3-.3-1.5-.6-8.3-7.4-1.1-3 .1-4.5-2.3-4.5-.4-2.9 1.9-9 2.9-4.5 .5-1.5 .5-4.4 1.5-6-.4-1.5-2.7-1.5-1.5-1.5-1.8-7.4 .7-1.9 4.5-2.3 1.1-1.8-.4-1.5-.7-.7-3.5-2.3-1-3.2-3-.8-4.5 .7-1.6-1.2-2.8-4-20.9 1.3-6 1.5-4.5 2-3.2 2.2-2.8 3-4.4 8.1-22.4 18.9-4.5 2.5-4.5 .1-2.9-1.3-3-2.4-1.5-.4-1.9 4.4-1.1 1.3-1.5 1-1.5 .2-1.5-1.5-1.1-5.5-1.9-2.9-4.4-2.5-3-2.4-1.5-.5-1.5 .4-1.5 1.7-2.4 4.7-.4 4.5 1.1 2.9 1.7 1.5 4.5-.6 1.5 .9 .7 1.2 0 1.5-1.7 3-.3 1.5 .6 1.5 2.6 3 .4 3-.8 5.7-1.5-.2-3.2-7-3.8-4.5-2.7-4.5-2.6-3-1.9-3-3.6-10.4 .6-4.5-.1-4.5-.6-4.4-1.2-3 .1-1.5 1.1-2.1 1.2-5.4-.4-2.9 .7-1.2 1.2-6.3 3.9-7.5 3.8-4.6 2.7-4.3 2-7.5 1.4-3 2.3-2.9 6.5-5.2 2.1-2.3 .7-3-.7-7.5 .7-2.9 1.9-3 4.3-3.8 6-3.1 10.4-3.1 13.1-2 1.5-1.4zM38.8-38.1l-.6 .8 .4 1.5 1.7 1.6 1.5-.1 .3-3-.3-.7-1.5-.7zM56.7-20.9l-2.9 1.5-1 1.5-1.8 6 0 1.5 1.2 2.8 1.5-.7 7.5-6.4 1.5-.7 2.9 .5 1.1-1.5-1-1.5-3-1.5zM70.1-44.3l-2 4 .5 2.4 1.5 1 3.3-4.9 .2-1.5-.5-.8-1.5-.6zM-101.5-43.3l4.5 .3 3 1.4 2.8 2.8 1.4 3 .6 6-1.2 4.4-2.1 3.5-3 2.2-1.5 .3-3-.7-4.4-3.7 0-18.5zM-62.2 14.9l1-.8 1.5 .5 1 1.8 0 1.5-1 .4-1.5-.9-.9-1zM-52.3 25.4l1.6-.1 1.5 .8 .6 .8-.2 1.4-1.9 .3-1.5-.9-.7-.8zM-59.4 38.8l2.7-.8 3 .2 4.5 1.6 4.4 3 6 1.4 7.5 7.6 7.4 3.4 3 1.9 1.5 1.6 1.9 4 1.4 1.5 7.1 2.3 10.5 2.1 4.5 1.5 1.5 .8 1.9 2.2 .3 1.5-.5 1.5-5.3 6-2.5 4.4-4.4 3.8-7.4 1-4.5 3-4.5 1.6-8.9 .2-1.5 .5-5.5 4.9-1.1 2.9-11 0 .9-2.9 4.3-6 .6-1.5-.4-1.5-5-6-3.7-6.2-5-4.2-5-6-5.7-10.4-.9-3 .4-6 4.1-5.9 1-4.5z"/>
<path fill="#ff845c" fill-rule="evenodd" d="M-.8-101.5l.9-2.9 104.3 0 0 50.9-2.9 .1-4.5 1.4-4.5 .7-3 2-.5 1.6 1.2 4.4 .1 4.5 .7 1.2 1.5 .1 1.5 1.1 2.2 5.1 1.8 7.4 0 9 2 4.4 .6 3-.3 17.9-1.6 6-.8 7.5 .1 1.5 1.3 1.5 5.1 2.1 0 44.4-13.4-.2-4.5 1.1-2.9 0-3-.7-3.9-2-1.1-1.5 .1-1.5 1.2-3 .8-4.4 2.5-6 .3-3-.6-4.5-1.7-2.9-1.2-6-.9-1.2-6 .1-1.5 .4-3 1.7-4.4 3.7-6.6 2.8-3.3 0-2.1-1.6-1.7-2.9-3.3-7.5-3.9-6-.9-2.9 .9-6.4 .8-2.6 2.9-4.5 .8-5.9 2.5-7.5 .4-.5 3-.1 1.5-.9 3.3-4.5 5.7-4.6 1.5-.4 2.9 2.6 1.5 .4 4.5-1.4 1.4-1 1.1-4.5 1.1-1.5 3.9-3.3 1.8-4.2-.3-3.2-1.5-.5-3 2.1-4.5-.1-.3 .2 .8 3-.5 1-4.5-.9-2.9 1.7-4.5-.3-3-.8-1.5 .2-4 3.6-2.1 7.5 .2 4.4-1.6 2.6-1.4 1.2-3-.8-1.5-.9-.9-2.1-.6-4.4 4.5-3 1.2-1.5 .3-1.5-1.1-3-3.5-3 .7-3-.3-2.9 1.2-.6 .6-.9 1.2-6 4.5-4.5 1-3-.3-1.5-2.5-4.4-1.5-1.1-1.5 .3-.5 .8 1.4 4.4 0 1.5-.9 1.4-1.5 1.2-7.5 1-1.8 .9 .4 3 1.4 3 3 1.9 2.7 2.6-1.2 .9-2 .6-1-.2-1.5-1.2-1.2-.1 .1-1.5-.4-.5-.3 .5 .3 1.5-.8 1.5-.7 .3-1.5-.2-.7-1.6 .7-2 1-1-4-4-1.4-.3-6 1.6-13.4 1.8-6 1.3-7.5 3.2-3.6 2.3-3.6 3-1.8 3-.3 4.5-1.1 2.1-1.5 .7-4.5 .6-3 2.4-4.4 2.1-12 2.6-7.4 5.7-6 1.4-1.8 1.8-1.2 4.8-1.5-.2-1.1-4.6-3.4-3.8-4.3-2.2-3.1-2.3-3-.2-1.5 .9-1.3 1.6-3 6-.6 4.5 .6 4.4-1.7-1.9-2.9-7.1-.9-4.4 .7-4.5-.2-8.9 1-7.5 .6-1.5-.1-4.4 1.4-7.5 3.9-7.5 9.2-10.4 3.8-3.4 9.1-11.5 2.9-6 1.8-9 2.1-4.4 3.4-3 3-1.5 16.4-4.5 4.5-1.5 1.5-1 17.9-1.4zM58.2-27l.7 1.6 .8 .7 3 .2 1.7-.9-.7-1.5-1-.5-3-.6zM68.6-47.2l-1.2 .9-1.7 6 .2 1.5 1.8 3 2.4 1.6 1.5-.6 .7-1 1.1-3 1.9-3 .3-1.5-1-2.4-3-1.2zM70.1-58.4l-1.4 1.7 .9 3 1 1.5 2.5 1.7 4.5 1.6 1.5 .3 1.1-.6-.2-1.5-2.4-3.2zM-78 14.9l.4-.7 4.5-.3 1.3 1-2.8 5.5-1.5-1.6zM-58.3 40.3l1.6-.4 3 .4 4.5 1.4 4.4 2.9 6 1.5 6 6.6 3 1.9 7.5 3.6 1.5 1.5 2.1 4.5 2.3 2 7.4 2.2 9 1.7 4.9 1.5 2.1 1.5 .6 1.5-.6 1.5-4.2 4.5-2.8 5-3 2.7-8.9 1.6-4.5 2.8-4.5 1.3-7.4-.5-3 .7-5.2 4.3-1.7 3-.3 2.9-6.8 0 .5-1.9 5.1-5.5 .8-1.5-.2-3-5.7-5.5-4.4-8.2-8.8-8.7-6.4-10.4-1.1-3 .5-6 3.4-4.4 1.4-4.5z"/>
<path fill="#ff7550" fill-rule="evenodd" d="M15.5-101.5l1.1-2.9 37.5 0 2.6 3.3 4.5 3.4 4.4 1.8 4.5 .6 4.5-.6 4.5-1.8 3-2.4 2.4-4.3 19.9 0 0 18.8-2.8 2-2.3 3-1.9 4.5-1.2 6 .1 5.9 .8 3 1.7 3 .2 1.5-1.8 1.5-4.7 1-3 1.4-2.4 2.1-.5 1.5 .2 2.9 1.2 2.7 .2 1.8-1.4 3 0 1.5 .9 1.5 1.8 1.1 3.2 .4 1.7 3 2 7.4-.1 6-.8 1.3-3-.3-1.1 .5 2.6 5.6 4.3 3.3 .6 1.5-.6 15-1.3 4.4-1.5 3.1-1.5 1.8-6 2.1-3-.2-1.4-.5-13.5-10.3-3-1.8-2.9-1.1-1.5 .1-.7 .9-.2 1.5 .6 10.4-.6 6-1.1 2.9-2.5 3.1-3 1-1.5-.2-3-1.7-3-3.6-2.9-6-.6-3 .2-1.5 1.5-3 1.8-6.9 1.5-1.9 1.5-1 5.4-2.1 .9-1.5 .6-4.5 .5-1.5 1.3-1.5 1.8-1.6 1.5-.1 2.9 2 7.5-2.1 1.5-1.1 .8-4.5 .7-1.2 4.5-3.7 1.7-2.6 .5-1.5 0-4.4-2.2-4.3-1.5-.6-2.6 3.4-1.9 .7-1.8-.7-1.2-1.5 2.2-3 .8-2.3 2.5-3.7 2-4.3 3-1.2 1.4-1.9 .4-1.5-.3-1.5-2.9-9-4.1-5.9-4.8-4.5-5.1-3-5.5-1.6-3-.2-1.2 1.8-5.2 17.9-1.1 2.1-4.4-1-4.5 .9-.5 1 2.4 5.9-.6 1.5-5.8 1.7-6-1.9-8.9 4.4-19.4 3.9-3 1.2-3 2-4.5 1.4-7.4 5.1-2.3 6.1 0 4.5-.7 .8-1.5 .2-1.5-.4-3-1.8-1.7 1.2-.3 3-2.4 1.9-1.5 .5-6 .2-3 1.5-3 .7-1.5 .7-5.9 5.6-1.5 .7-4.5 .8-3 1.5-1.5 .2-3-3-3.5-2.4-8.4-7.2-1.5-.8-1.5-.1-3 1.3-.8-.6-.5-9 .9-3-.4-4.4 .6-6 1.7-4.4 2.9-4.6 7.6-8.9 4.4-4.1 9-11.3 4.2-8.5 1.1-6 3.6-4.2 3-2.4 6-3.3 17.9-6.8 14.9-1.2 6-1.2 13.4 0zM14.9-44.9l-.2 1.6 1.7-.3 .2-1.2zM63.6-32.8l2-.5 1.5 .7 1.3 1.3-1.3 3.1-4.4-3.1zM-58.2 47.7l4.5-1 4.5 .2 7.4 2.3 1.5 1.1 16.6 16.8 3.7 4.5 2.1 4.5-.5 3-1.2 1.5-4.7 3-7 2.1-9 .7-3-1.1-1.5-1.5-3.4-6.2-4-3.6-4.5-5-6.2-10.8-.3-3 .5-3.3z"/>
<path fill="#ff6645" fill-rule="evenodd" d="M-19.4-98l23.9-2.2 11.9 1.3 16.4 3.2 3-1.3 3 0 3.6 1.5 3.9 3 1.8 3-.1 3 2.3 4.4 .8 3 .3 6-1.4 6-3.6 8.9-1.6 1.8-1.5 .5-3-.5-1.3 1.2 .3 3 1.8 4.5-1 1.4-1.3 .8-1.5 .6-1.5-.3-1.6-1.1-1-1.4-1.9-4.7-1.5-.2-3.9 4.9-3.5 2.3-1.5 .3-3-2-3 0-1.9 .8-4 4-6 1-.9-.5 .6-1.5 5.3-5.9 .5-1.5-1-5.4-1.5-1.1-2.3 .5-3.7 3.2-6 7.4-1.2 5.8 1.2 2.1 1.4 .9 .2 1.5-3.1 .4-2.9 1-6 4.2-1.5 6.3-1.5 2.9-1.5 1-4.5-.1-1.5 .7-.9 1.5-1.3 4.5-.7 .4-6 .5-4.5 2-3 .6-5.9 4.4-1.5 .9-1.5-.1-1.5-1.3-2.2-4.4-10.9-26.9-2-7.5 .1-2.9 .8-1.5 .8-1.5 4.3-4.5 8.8-11.9 4.4-9 1.3-6 5-4.9 9-5zM86.5-29.8l1.5 .3 2.8 2.6 1.3 3-1.1 1-4.6-1-.9-1.5zM77.6-14.7l6-4.6 2.9 1.6 3.5 4.3 2.5 5.9 0 1.5-1.5 2.8-3 2.4-3 .6-2.9-.6-3.6-2.2-2.8-3 1.5-4.4zM-47.8 67.1l3-.9 3 .1 4.5 1.2 3 1.5 3 2.5 1 1.6 .4 3-.6 1.5-2.3 1.9-3 1-4.5-.1-3-1-5.6-6.3-.8-1.5-.1-1.5 .5-1.5z"/>
<path fill="#ff5535" fill-rule="evenodd" d="M-19.4-97.3l20.9-2 10.5 .8 13.4 2.7 10.4 4 6 3.9 2.7 2.9 1.8 2.9 1.1 3 .3 3-.3 3-1.1 4-1.5 2.2-4.5 0-1 1.3-.2 1.4 1.7 3-3.8 3-.3 1.5 .6 7.5-1.5 .5-2.1-5-5.4-5.7-1.4 .8-3 5-4.2 4.4-1.8-.3-6 1.4-1.4-1.1-1.5-7.5-3-3.2-1.5-.4-1.5 .4-6 2.8-1.5 1.5-1.3 4.9-2.4 4.4-.8 4.5-1.1 3-6.3 4-1.5 1.9-1.5 9-1.4 1.5-7.2 1.5-1.3 1.5-.8 3-1.2 1.6-6 1-3 1.1-4.5-.1-2.9-2.2-4.5-6.6-3.8-8.2-2.4-7.5-1-6 .1-4.4 1.1-7.5 1.4-4.5 7.2-13.4 1.2-3 .7-4.5 .8-1.5 2.9-2.9 10.1-6 9.3-4.5z"/>
<path fill="#ff4025" fill-rule="evenodd" d="M-.5-98.5l10.9 .8 10.5 1.9 8.9 2.9 6 3.1 4.2 3.3 3.2 4.4 1.1 4.5-.2 3-.8 3-1.5 1.7-3 .2-3-3.2-1.5 .1-2.5 2.7-1.5 3 2.5 .7 3-.5 1.1 1.3-.2 2.9-2.4 4.2-1.5 .1-1-1.3-1.3-3-.7-3-1.5-.2-2.9 2.6-6.7 8.1-2.3 1.8-3 1.3-1.5-.7-2.5-5.4-3.4-3.5-1.5-1-3 .5-6 2.5-1.5 2-1.3 7-2.5 4.4-.8 3-1.3 1.8-5 2.7-1.6 1.5-1.5 6-.9 6-1.5 1.4-7.4 1.7-7.5 4.2-3-.7-4.5-3.5-4-6.1-2.8-7.5-1.3-9-.4-7.4 .8-7.5 1.1-4.5 4.2-11.9 .7-4.5 2.2-3 2.5-2 13.5-7.5 4.4-2 6-1.8zM-40.1-41.8l-.2 0 0 .2zM-38.8-40.9l-.6 .6 .6 3.3 1.5 .4 .4-.7-.1-1.5z"/>
<path fill="#ff1200" fill-rule="evenodd" d="M-11.3-97l9.8-.5 10.5 .7 8.9 1.5 9.2 2.8 6 3 5.2 4.5 2.4 4.4 .2 4.5-.6 1.6-1.5 .3-4.5-2.5-1 .6-10.9 11.9-6 5.2-3 1.9-1.5-.3-1.5-1.2-5.9-6.2-1.5-.9-7.6 3-1.6 1.5-2.4 10.5-3.3 5-3 1.8-1.5-.1-1.5-5.7-1.5-1.4-4.5 4.8-.1 1.5 1.7 3-.7 3 .7 1.5 1.7 1.5-1.8 6.6-1.5 1.6-4.4 2.2-4.5 .9-3-.1-1.9-.8-1.3-1.5 2.3-5.9 3-4.5 .1-3-.7-3.3-2.1-2.7-2.4-.9-3 .7-2.4 1.7-.5 1.5 .3 1.5 2.7 6-1.6 2.4-1.5-1-.5-1.4-3.3-11.9-.5-4.5 .2-6 3.9-22.4 2.2-3 1.9-1.4 15.5-8.7 6-2z"/>
<path fill="#ff0000" fill-rule="evenodd" d="M-15.1-95.5l13.6-1 6 1.5 5.9-.5 9 1.9 7.4 2.6 5.2 3 3 3 1.7 4.4-.9 .7-3 .5-1.5 1.1-8.9 11.7-4.5 3.9-4.5 2.8-1.5 .3-1.5-.4-1.4-1.1-4.5-5.4-1.5-.8-1.5 .1-7.5 2.5-1.5 1.7-2 10.8-.9 1.8-1.5 1.4-1.5 .7-1.5-.5-3-6.4-1.5-.1-.2 1.6-2.8 3.2-.3 1.3-3.2 2.9-.2 1.5-2.4 3 4.2 4.5 1.1 3-.7 1.2-1.5 .9-2.9 .7-3 0-1.5-.7-.4-.6 1.4-4.5 .5-7.5-3-3.4-1.5-.7-3-.3-4.5 .7-1.1-.7-.6-1.5-.4-7.5 2.1-22.4 2.1-3 15-8.9 3.8-1.6z"/>
<path fill="#e8000a" fill-rule="evenodd" d="M-20.9-93.4l17.9-1.7 1.5 .2 4.5 2.5 4.5 0 2.9-1.3 7.5 1.1 4.8 1.6 5.8 3 3.3 3 .6 1.4-.1 1.5-2 1.5-2 .1-1.5 4.4-3.4 6-2.4 3-3.1 2.6-4.5 2.8-1.5 .5-1.5-.1-2.9-2.5-2.5-3.3-2-1-6 1.6-3-.4-1.5 1-1.5 3-.1 4.7-1.3 4.3-1.5 1.7-1.5 .2-4.5-4.8-1.9 1.6-.1 1.5-3.2 3-.2 1.5-2.1 1.9-2.9-.2-1.5 .4-1.5-.5-3-2.7-6-1.2-.8-.7-.5-1.5-.3-4.5 .5-11.9-.1-7.5 .9-4.5 1.5-1.5 4.8-3 6-2.7 4.2-3.2zM26.9-82.1l-.1 0 .1 .3zM-28.5-43.3l.2-.1 0 .2zM-29.9-40.3l.1-.7 0 1.8zM-29.7-38.8l1.4-.4 .3 .4-.3 1.5z"/>
<path fill="#d20014" fill-rule="evenodd" d="M-23.3-91l2.4-.7 4.5 .9 13.4-1.5 10.5 1.4 2.9 0 4.5-.7 2.6 .6 3.9 1.5 2.7 1.5 1.5 1.5-2.4 1.5-.4 1.4 2.4 4.5 .3 1.5-2.9 6-3.2 4.4-7.2 4.5-1.8 .1-1.4-.7-3-3.9-2.2-1.4-2.3-.1-4.5 1.3-1.5-.1-3-1.4-1.5 1.8-1.1 4.4-.2 4.5-1.6 2.2-1.5 .5-1.5-.7-1.5-1.4-1.5 .3-2.2 2.1-.2 1.5-3.6 3 0 1.5-.3 0 .3-1.5-1.5-1-2.9 .9-1.5 1.2-1.5-.4-1.5-1.3-4.5-2.1-.9-1.8-.4-4.5 .4-5.9-1-12 .2-3 .6-1.5 4.1-3.4 7.4-2.2zM-34.3-72l-.1 .4 .1 .2 .1-.2z"/>
<path fill="#b90020" fill-rule="evenodd" d="M-6.2-91l4.7-.2 11.9 1.5 4.5 0 3.7 1.7 1.2 1.5 .8 2.9 2.6 4.5 .2 1.5-1.7 4.5-2.3 4.5-3 2.2-6 2.8-1.4-.8-3-3.7-1.5-1-3-.3-4.5 1.4-4.5-1.8-.2 1.2-3.9 4.4 .3 3-.6 1.9-1.5 .5-3-.1-4.1 3.7-.4 1.8-1.5 .4-1.5-1.3-5.9 1.8-1.5-.1-1.7-1.1-1.2-1.5-.1-1.9 1-1.1 3.4-1.5 1.8-1.5 .1-1.5-3.3 .3-1.5-.5-1.3-1.3-.2-1.4 2.8-4.5 1.6-6-.5-1.5-.9-.9-4.6 .9-.7-1.5 .5-3 1.1-1.5 2.2-1.5 5.9-.5 6-2.9z"/>
<path fill="#a00028" fill-rule="evenodd" d="M-11.4-89.5l9.9-.9 16.3 2.4 1.9 1.5 3.8 5.9 .6 1.5-.1 3-2 6-.9 1.5-7.7 3.7-1.4-.8-3-3.4-1.5-.7-3-.2-4.5 1.3-4.5-1.6-.4 1.7-5.5 5.8-3.7 3.1-.7 1.5-3 3-.1 1.3-3.4-4.3-.1-1.5 1.7-3-.7-2.9-2-3-1.5-.2-1.4 2.8-1.5 .9-1.5-.4 0-.7 2.1-3.9 1.6-4.5 .1-6 .6-1.5 3.3-2.9 2.7-1.5 4.5-1.8zM-31.6-83.6l.6 0-.1 1.5-1.6 0z"/>
<path fill="#8c002d" fill-rule="evenodd" d="M-5.8-89.5l8.8 .4 10.6 2.6 4.2 4.4 1.2 3 .1 1.5-1.3 7.5-1.4 1.3-4.5 .9-2.9 1.3-2.2-2-.8-1.5-1.5-.7-3 0-4.5 1.3-3-1.4-1.5 .3-.5 2-5.4 5.4-3 1.6-3-.2-5.6-11.3-.7-4.5 .5-3 2.1-3 4.7-2.9 6.5-2.1zM-21.2-59.7l.6 0 .6 1.5-.9 .8-.7-.8z"/></g>
<path d="M520.08,57.54 519.93,57.62 519.79,57.70 519.66,57.79 519.52,57.88 519.40,57.97 519.28,58.07 519.16,58.16 519.05,58.27 518.95,58.37 518.85,58.47 518.76,58.58 518.67,58.69 518.59,58.80 518.52,58.92 518.45,59.03 518.38,59.15 518.33,59.27 518.28,59.38 518.24,59.50 518.20,59.62 518.17,59.75 518.15,59.87 518.13,59.99 518.12,60.11 518.12,60.24 518.12,60.36 518.13,60.48 518.15,60.61 518.17,60.73 518.20,60.85 518.24,60.97 518.28,61.09 518.33,61.21 518.38,61.33 518.45,61.44 518.52,61.56 518.59,61.67 518.67,61.78 518.76,61.89 518.85,62.00 518.95,62.10 519.05,62.21 519.16,62.31 519.28,62.41 519.40,62.50 519.52,62.60 519.66,62.69 519.79,62.77 519.93,62.86 520.08,62.94 520.22,63.01 520.38,63.09 520.53,63.16 520.69,63.23 520.86,63.29 521.03,63.35 521.20,63.40 521.37,63.46 521.55,63.50 521.72,63.55 521.91,63.59 522.09,63.63 522.27,63.66 522.46,63.68 522.65,63.71 522.84,63.73 523.03,63.74 523.22,63.75 523.41,63.76 523.60,63.76 523.79,63.76 523.98,63.75 524.17,63.74 524.36,63.73 524.55,63.71 524.74,63.68 524.93,63.66 525.11,63.63 525.29,63.59 525.48,63.55 525.65,63.50 525.83,63.46 526.00,63.40 526.17,63.35 526.34,63.29 526.51,63.23 526.67,63.16 526.82,63.09 526.98,63.01 527.12,62.94 527.27,62.86 527.41,62.77 527.54,62.69 527.68,62.60 527.80,62.50 527.92,62.41 528.04,62.31 528.15,62.21 528.25,62.10 528.35,62.00 528.44,61.89 528.53,61.78 528.61,61.67 528.68,61.56 528.75,61.44 528.82,61.33 528.87,61.21 528.92,61.09 528.96,60.97 529.00,60.85 529.03,60.73 529.05,60.61 529.07,60.48 529.08,60.36 529.08,60.24 529.08,60.11 529.07,59.99 529.05,59.87 529.03,59.75 529.00,59.62 528.96,59.50 528.92,59.38 528.87,59.27 528.82,59.15 528.75,59.03 528.68,58.92 528.61,58.80 528.53,58.69 528.44,58.58 528.35,58.47 528.25,58.37 528.15,58.27 528.04,58.16 527.92,58.07 527.80,57.97 527.68,57.88 527.54,57.79 527.41,57.70 527.27,57.62 527.12,57.54 526.98,57.46 526.82,57.39 526.67,57.31 526.51,57.25 526.34,57.18 526.17,57.12 526.00,57.07 525.83,57.02 525.65,56.97 525.48,56.92 525.29,56.88 525.11,56.85 524.93,56.82 524.74,56.79 524.55,56.77 524.36,56.75 524.17,56.73 523.98,56.72 523.79,56.71 523.60,56.71 523.41,56.71 523.22,56.72 523.03,56.73 522.84,56.75 522.65,56.77 522.46,56.79 522.27,56.82 522.09,56.85 521.91,56.88 521.72,56.92 521.55,56.97 521.37,57.02 521.20,57.07 521.03,57.12 520.86,57.18 520.69,57.25 520.53,57.31 520.38,57.39 520.22,57.46 520.08,57.54" fill="none" stroke="#fff" stroke-width="1.3"/><path d="M513.29,53.20 512.87,53.44 512.46,53.69 512.06,53.94 511.68,54.20 511.31,54.47 510.96,54.75 510.63,55.04 510.30,55.34 510.00,55.64 509.71,55.95 509.44,56.26 509.19,56.58 508.95,56.91 508.73,57.24 508.53,57.58 508.35,57.92 508.18,58.26 508.04,58.61 507.91,58.96 507.81,59.31 507.72,59.67 507.65,60.02 507.60,60.38 507.57,60.74 507.56,61.10 507.57,61.46 507.60,61.82 507.65,62.18 507.72,62.54 507.81,62.89 507.91,63.24 508.04,63.59 508.18,63.94 508.35,64.29 508.53,64.63 508.73,64.96 508.95,65.29 509.19,65.62 509.44,65.94 509.71,66.26 510.00,66.56 510.30,66.87 510.63,67.16 510.96,67.45 511.31,67.73 511.68,68.00 512.06,68.26 512.46,68.52 512.87,68.76 513.29,69.00 513.73,69.22 514.17,69.44 514.63,69.65 515.10,69.84 515.58,70.03 516.07,70.20 516.57,70.37 517.08,70.52 517.59,70.66 518.11,70.79 518.64,70.90 519.18,71.01 519.72,71.10 520.27,71.18 520.82,71.25 521.37,71.31 521.92,71.35 522.48,71.38 523.04,71.40 523.60,71.41 524.16,71.40 524.72,71.38 525.28,71.35 525.83,71.31 526.38,71.25 526.93,71.18 527.48,71.10 528.02,71.01 528.56,70.90 529.09,70.79 529.61,70.66 530.12,70.52 530.63,70.37 531.13,70.20 531.62,70.03 532.10,69.84 532.57,69.65 533.03,69.44 533.47,69.22 533.91,69.00 534.33,68.76 534.74,68.52 535.14,68.26 535.52,68.00 535.89,67.73 536.24,67.45 536.57,67.16 536.90,66.87 537.20,66.56 537.49,66.26 537.76,65.94 538.01,65.62 538.25,65.29 538.47,64.96 538.67,64.63 538.85,64.29 539.02,63.94 539.16,63.59 539.29,63.24 539.39,62.89 539.48,62.54 539.55,62.18 539.60,61.82 539.63,61.46 539.64,61.10 539.63,60.74 539.60,60.38 539.55,60.02 539.48,59.67 539.39,59.31 539.29,58.96 539.16,58.61 539.02,58.26 538.85,57.92 538.67,57.58 538.47,57.24 538.25,56.91 538.01,56.58 537.76,56.26 537.49,55.95 537.20,55.64 536.90,55.34 536.57,55.04 536.24,54.75 535.89,54.47 535.52,54.20 535.14,53.94 534.74,53.69 534.33,53.44 533.91,53.20 533.47,52.98 533.03,52.76 532.57,52.55 532.10,52.36 531.62,52.17 531.13,52.00 530.63,51.84 530.12,51.68 529.61,51.54 529.09,51.41 528.56,51.30 528.02,51.19 527.48,51.10 526.93,51.02 526.38,50.95 525.83,50.89 525.28,50.85 524.72,50.82 524.16,50.80 523.60,50.79 523.04,50.80 522.48,50.82 521.92,50.85 521.37,50.89 520.82,50.95 520.27,51.02 519.72,51.10 519.18,51.19 518.64,51.30 518.11,51.41 517.59,51.54 517.08,51.68 516.57,51.84 516.07,52.00 515.58,52.17 515.10,52.36 514.63,52.55 514.17,52.76 513.73,52.98 513.29,53.20" fill="none" stroke="#fff" stroke-width="1.3"/><path d="M548.31,55.58 548.11,55.30 547.90,55.03 547.68,54.76 547.45,54.49 547.22,54.22 546.97,53.96 546.72,53.70 546.47,53.44 546.21,53.18 545.94,52.93 545.66,52.68 545.38,52.44 545.09,52.19 544.79,51.95 544.49,51.72 544.18,51.49 543.86,51.26 543.54,51.03 543.22,50.81 542.88,50.59 542.54,50.38 542.20,50.17 541.85,49.96 541.49,49.76 541.13,49.56 540.76,49.36 540.39,49.17 540.01,48.99 539.63,48.80 539.24,48.63 538.85,48.45 538.45,48.28 538.05,48.12 537.64,47.96 537.23,47.80 536.82,47.65 536.40,47.51 535.98,47.37 535.55,47.23 535.12,47.10 534.69,46.97 534.25,46.85 533.81,46.73 533.37,46.62 532.93,46.51 532.48,46.41 532.03,46.31 531.57,46.22 531.12,46.14 530.66,46.05 530.20,45.98 529.73,45.91 529.27,45.84 528.80,45.78 528.34,45.72 527.87,45.67 527.40,45.63 526.92,45.59 526.45,45.55 525.98,45.52 525.50,45.50 525.03,45.48 524.55,45.47 524.08,45.46 523.60,45.46 523.12,45.46 522.65,45.47 522.17,45.48 521.70,45.50 521.22,45.52 520.75,45.55 520.28,45.59 519.80,45.63 519.33,45.67 518.86,45.72 518.40,45.78 517.93,45.84 517.47,45.91 517.00,45.98 516.54,46.05 516.08,46.14 515.63,46.22 515.17,46.31 514.72,46.41 514.27,46.51 513.83,46.62 513.39,46.73 512.95,46.85 512.51,46.97 512.08,47.10 511.65,47.23 511.22,47.37 510.80,47.51 510.38,47.65 509.97,47.80 509.56,47.96 509.15,48.12 508.75,48.28 508.35,48.45 507.96,48.63 507.57,48.80 507.19,48.99 506.81,49.17 506.44,49.36 506.07,49.56 505.71,49.76 505.35,49.96 505.00,50.17 504.66,50.38 504.32,50.59 503.98,50.81 503.66,51.03 503.34,51.26 503.02,51.49 502.71,51.72 502.41,51.95 502.11,52.19 501.82,52.44 501.54,52.68 501.26,52.93 500.99,53.18 500.73,53.44 500.48,53.70 500.23,53.96 499.98,54.22 499.75,54.49 499.52,54.76 499.30,55.03 499.09,55.30 498.89,55.58 498.69,55.86 498.50,56.14 498.32,56.42 498.14,56.70 497.98,56.99 497.82,57.28 497.67,57.57 497.52,57.86 497.39,58.15 497.26,58.45 497.14,58.74 497.03,59.04 496.93,59.34 496.83,59.64 496.75,59.94 496.67,60.24 496.60,60.55" fill="none" stroke="#fff" stroke-width="1.5" stroke-dasharray="0 2.3" stroke-linecap="square"/><circle cx="523.60" cy="60.12" r="1.6" fill="none" stroke="#fff" stroke-width="0.9"/><circle cx="491.5" cy="77.9" r="0.85" fill="#fff"/><circle cx="500.9" cy="83.7" r="0.85" fill="#fff"/><circle cx="508.7" cy="77.9" r="0.85" fill="#fff"/><circle cx="513.6" cy="87.6" r="0.85" fill="#fff"/><circle cx="496.0" cy="92.5" r="0.85" fill="#fff"/><circle cx="483.4" cy="98.3" r="0.85" fill="#fff"/><circle cx="489.2" cy="100.3" r="0.85" fill="#fff"/><circle cx="507.7" cy="102.2" r="0.85" fill="#fff"/><circle cx="510.6" cy="97.4" r="0.85" fill="#fff"/><circle cx="505.8" cy="92.5" r="0.85" fill="#fff"/><circle cx="507.7" cy="107.1" r="0.85" fill="#fff"/><circle cx="535.6" cy="77.9" r="0.85" fill="#fff"/><circle cx="538.5" cy="76.9" r="0.85" fill="#fff"/><circle cx="536.6" cy="87.6" r="0.85" fill="#fff"/><circle cx="549.2" cy="63.3" r="0.85" fill="#fff"/><circle cx="550.2" cy="66.2" r="0.85" fill="#fff"/><circle cx="546.3" cy="54.5" r="0.85" fill="#fff"/><circle cx="527.8" cy="45.7" r="0.85" fill="#fff"/><circle cx="531.7" cy="47.7" r="0.85" fill="#fff"/><circle cx="535.6" cy="48.7" r="0.85" fill="#fff"/><circle cx="541.0" cy="50.5" r="0.85" fill="#fff"/>
<use href="#grid" transform="translate(523.60,137.80) scale(1.0000)"/>
<use href="#coast" transform="translate(523.60,137.80) scale(1.0000)"/>
</g>
<circle cx="523.60" cy="137.80" r="101.40" fill="none" stroke="#333" stroke-width="0.8"/>
<polygon points="644.2,46.3 653.4,37.1 662.6,46.3" fill="#8c002d"/>
<rect x="644.20" y="46.30" width="18.40" height="8.97" fill="#a00028"/>
<rect x="644.20" y="55.22" width="18.40" height="8.97" fill="#b90020"/>
<rect x="644.20" y="64.14" width="18.40" height="8.97" fill="#d20014"/>
<rect x="644.20" y="73.06" width="18.40" height="8.97" fill="#e8000a"/>
<rect x="644.20" y="81.98" width="18.40" height="8.97" fill="#ff0000"/>
<rect x="644.20" y="90.90" width="18.40" height="8.97" fill="#ff1200"/>
<rect x="644.20" y="99.82" width="18.40" height="8.97" fill="#ff4025"/>
<rect x="644.20" y="108.74" width="18.40" height="8.97" fill="#ff5535"/>
<rect x="644.20" y="117.66" width="18.40" height="8.97" fill="#ff6645"/>
<rect x="644.20" y="126.58" width="18.40" height="8.97" fill="#ff7550"/>
<rect x="644.20" y="135.50" width="18.40" height="8.97" fill="#ff845c"/>
<rect x="644.20" y="144.42" width="18.40" height="8.97" fill="#ff9468"/>
<rect x="644.20" y="153.34" width="18.40" height="8.97" fill="#ffa275"/>
<rect x="644.20" y="162.26" width="18.40" height="8.97" fill="#ffb085"/>
<rect x="644.20" y="171.18" width="18.40" height="8.97" fill="#ffc098"/>
<rect x="644.20" y="180.10" width="18.40" height="8.97" fill="#ffcca8"/>
<rect x="644.20" y="189.02" width="18.40" height="8.97" fill="#ffd9b8"/>
<rect x="644.20" y="197.94" width="18.40" height="8.97" fill="#ffe6cc"/>
<rect x="644.20" y="206.86" width="18.40" height="8.97" fill="#f0f8ff"/>
<rect x="644.20" y="215.78" width="18.40" height="8.97" fill="#daecff"/>
<polygon points="644.2,224.7 653.4,233.6 662.6,224.7" fill="#c4e0fa"/>
<path d="M644.20,46.30H662.60M644.20,55.22H662.60M644.20,64.14H662.60M644.20,73.06H662.60M644.20,81.98H662.60M644.20,90.90H662.60M644.20,99.82H662.60M644.20,108.74H662.60M644.20,117.66H662.60M644.20,126.58H662.60M644.20,135.50H662.60M644.20,144.42H662.60M644.20,153.34H662.60M644.20,162.26H662.60M644.20,171.18H662.60M644.20,180.10H662.60M644.20,189.02H662.60M644.20,197.94H662.60M644.20,206.86H662.60M644.20,215.78H662.60M644.20,224.70H662.60" stroke="#3a2a2a" stroke-width="0.7" stroke-opacity="0.8" fill="none"/>
<path d="M644.20,46.30L653.40,37.10L662.60,46.30L662.60,224.70L653.40,233.60L644.20,224.70Z" fill="none" stroke="#555" stroke-width="0.6" stroke-opacity="0.7"/>
<text x="668.8" y="49.3" font-size="7.5">1.8</text>
<text x="668.8" y="67.1" font-size="7.5">1.6</text>
<text x="668.8" y="85.0" font-size="7.5">1.4</text>
<text x="668.8" y="102.8" font-size="7.5">1.2</text>
<text x="668.8" y="120.7" font-size="7.5">1</text>
<text x="668.8" y="138.5" font-size="7.5">0.8</text>
<text x="668.8" y="156.3" font-size="7.5">0.6</text>
<text x="668.8" y="174.2" font-size="7.5">0.4</text>
<text x="668.8" y="192.0" font-size="7.5">0.2</text>
<text x="668.8" y="209.9" font-size="7.5">0</text>
<text x="666.4" y="227.7" font-size="7.5">-0.2</text>
<text x="654.0" y="246.3" font-size="9" text-anchor="middle">&#x2DA;<tspan dx="-0.6">C/decade</tspan></text>
<text x="27.3" y="280.6" font-size="14.0" font-weight="bold">c</text>
<text x="125.9" y="284.2" font-size="12.0" >2151-2250 (CMIP6)</text>
<path d="M22.10,352.80 23.33,352.79 24.55,352.77 25.78,352.74 27.01,352.71 28.23,352.67 29.46,352.61 30.69,352.52 31.91,352.41 33.14,352.27 34.36,352.08 35.59,351.83 36.82,351.50 38.04,351.08 39.27,350.55 40.50,349.88 41.72,349.04 42.95,348.03 44.18,346.80 45.40,345.35 46.63,343.66 47.85,341.74 49.08,339.59 50.31,337.23 51.53,334.70 52.76,332.02 53.99,329.26 55.21,326.45 56.44,323.66 57.67,320.92 58.89,318.27 60.12,315.76 61.35,313.41 62.57,311.23 63.80,309.23 65.03,307.42 66.25,305.79 67.48,304.34 68.70,303.05 69.93,301.91 71.16,300.92 72.38,300.05 73.61,299.30 74.84,298.64 76.06,298.08 77.29,297.59 78.52,297.17 79.74,296.81 80.97,296.50 82.19,296.24" fill="none" stroke="#c6c6c6" stroke-width="2.5" stroke-linecap="round"/>
<path d="M63.41,309.85 63.79,309.24 64.18,308.65 64.56,308.09 64.94,307.54 65.33,307.00 65.71,306.49 66.09,305.99 66.48,305.51 66.86,305.05 67.24,304.60 67.63,304.17 68.01,303.76 68.39,303.36 68.78,302.98 69.16,302.61 69.54,302.26 69.93,301.92 70.31,301.59 70.69,301.28 71.08,300.98 71.46,300.69 71.84,300.42 72.23,300.15 72.61,299.90 72.99,299.66 73.38,299.43 73.76,299.21 74.14,299.00 74.53,298.80 74.91,298.61 75.29,298.42 75.68,298.25 76.06,298.08 76.44,297.92 76.83,297.76 77.21,297.62 77.59,297.48 77.98,297.35 78.36,297.22 78.74,297.10 79.13,296.98 79.51,296.88 79.89,296.77 80.28,296.67 80.66,296.58 81.04,296.49 81.43,296.40 81.81,296.32 82.19,296.24" fill="none" stroke="#000" stroke-width="2.6" stroke-linecap="round"/>
<circle cx="63.41" cy="309.85" r="2.0" fill="#000"/>
<circle cx="82.19" cy="296.24" r="2.0" fill="#000"/>
<text transform="translate(45.0,327.0) rotate(-72.0)" font-size="11.0">CO<tspan font-size="7.0" dx="0.4" dy="1.9">2</tspan></text>
<text x="86.8" y="305.8" font-size="9.4" >2206 ppm</text>
<text x="64.4" y="324.8" font-size="9.4" >1751 ppm</text>
<clipPath id="clip_c"><circle cx="168.80" cy="417.80" r="101.50"/></clipPath>
<g clip-path="url(#clip_c)">
<g transform="translate(168.80,417.80)"><rect x="-105.5" y="-105.5" width="211.0" height="211.0" fill="#c4e0fa"/>
<path fill="#daecff" fill-rule="evenodd" d="M-104.5-104.5l209 0 0 209-209 0z"/>
<path fill="#f0f8ff" fill-rule="evenodd" d="M-104.5-104.5l209 0 0 209-209 0z"/>
<path fill="#ffe6cc" fill-rule="evenodd" d="M-104.5-104.5l209 0 0 209-209 0zM-92.6-12.1l-.8 1.6 .3 1.5 .5 .8 1.5 0 .7-2.3-.7-1.6z"/>
<path fill="#ffd9b8" fill-rule="evenodd" d="M-104.5-104.5l209 0 0 209-209 0zM-92.6-13.1l-1 1.2-.5 1.4 .2 1.5 1.3 1.8 1.5 0 1.3-1.8 .1-1.5-.4-1.4-1-1.2z"/>
<path fill="#ffcca8" fill-rule="evenodd" d="M-104.5-104.5l209 0 0 209-209 0zM-92.6-14.1l-1.9 2.2-.2 2.9 .7 1.5 1.4 1.3 1.5 0 1.5-1.5 .7-2.8-.4-1.4-1-1.5-.8-.7z"/>
<path fill="#ffc49e" fill-rule="evenodd" d="M-104.5-104.5l209 0 0 209-209 0zM-92.6-14.5l-2.2 2.6-.2 2.9 .9 2 1.3 1 1.7 .2 1.7-1.7 .7-3-1.2-2.9-1.2-1z"/>
<path fill="#ffbc94" fill-rule="evenodd" d="M-104.5-104.5l209 0 0 209-209 0zM-94.1-13.8l-1 1.9-.2 1.4 .5 3 2.2 2.2 1.5 0 2.1-2.2 .5-1.5-.2-2.9-.9-1.8-1.5-1.1-1.5 0z"/>
<path fill="#ffb288" fill-rule="evenodd" d="M-104.5-104.5l209 0 0 209-209 0zM-92.6-15.6l-2.5 2.2-.8 2.9 .1 1.5 1.7 3.6 1.5 .8 1.5 0 1.5-.9 1.2-2 .4-3-.8-2.9-.8-1.2-1.5-1z"/>
<path fill="#ffaa80" fill-rule="evenodd" d="M-104.5-104.5l209 0 0 209-209 0zM-92.6-16.8l-1.5 .7-2 2.7-.6 4.4 .9 3 1.7 2.3 1.5 .6 1.5-.1 1.5-.9 1.3-1.9 1.1-4.5-.8-2.9-1.6-2.5-1.5-.8zM-26.9 43.2l-2.5 .1 2.8 0z"/>
<path fill="#ffa67c" fill-rule="evenodd" d="M-104.5-104.5l209 0 0 209-209 0 0-56.7 1.4 1.8 3 2.3 3 1 3 0 13.5-3.4 10.4-.8 3-2.1 .7-1.8-.3-1.5-1.3-1.5-11.3-6-1.6-1.4-1.7-3-.9-4.5-.7-10.5-4.9-16.4 .1-1.5 2.2-6 .1-4.4-1.3-3.6-1.5-2.3-1.5-1.2-1.5-.2-1.5 .6-1.5 1.4-1.3 2.3-1.1 3-.6 7.2-5.9 12.1zM-38.8 37l-3.8 1.8-.3 1.5 1.4 1.5 4.2 2.5 4.4 4 3 1.6 3.4 .9 4.1-.1 11.9-2.6 6-.6 17.9 1.9 7.5-.2 4.5-1 4.5-1.7 2.6-1.7 1.1-1.5-.2-1.5-1.3-1.5-2.2-1.3-4.5-1.6-4.5-.8-6 .1-14.9 2.5-6 .4-5.9-.5-16.5-2.7-6 0z"/>
<path fill="#ff9c72" fill-rule="evenodd" d="M-90.5-104.5l195 0 0 122.5-1.4 2.4-.4 2 .2 1.5 1.6 1.2 0 79.4-61 0-5-2.9-7.1-1.8-43.3-3-9.5 1.8-5 1.5-.9 1.5 .6 2.9-22.9 0 2-8.9-2.5-6-.4-9-.7-1.4-7.9-9-6-10.5-1.1-2.9 .8-6 2.7-4 .5-2-1-7.5 2-.2 1.8-1.3-1.4-1.4-3.4-1.2-1 1.2 .6 1.4-1.1 .2-3-.9-2.8-2.2-3.2-7.2-2.2-3.3-2.7-6-2.6-4.5-3.1-8.9-.9-4.5 .7-7.5-.6-7.4 1.8-9 0-3 1.4-7.4 3.2-7.5 6-9 .9-3-1.3-2.9-6.3-9-.8-3 .5-1.5 2.9-3 4.5-1.5 3.1 0 7.5 1.4 4.5-.6 2.9-1.6 2.7-2.2 1-2.9 1.8-3-.4-1.5-.6-.4-6-2-4.4-.7-13.5-.4-3-.6-4.4-1.7-3-1.9-2.9-2.8-1.3-3zM-40.3 31l-11.7 3.4-.7 1.4 6.8 6 2.2 1.5 4.9 2.2 7.4 6.4 3 1.5 7.5 2.6 4.5 3.1 1.5 .2 4.9-4 4-1.3 3-.3 6 .6 4 1 6.4 2.4 4.5 .5 3-1 9.7-4.9 10.4-4.5 .5-1.5-3.2-4.5-2.5-5.1-1.4-1.6-7.5-3.4-4.5-1.4-4.5 0-14 4.1-9.9 1.1-10-1.1-15.4-3.9-4.4-.1zM-38.8-43.7l-1.1 1.9 1.1 3.9 1.5 1.6 1.5-.4 1-.6 .9-1.5 .2-4.5-.7-.7-1.4-.3zM-25.4-19.1l-1.3 1.2 .3 1.5 2.2 1.5 .3 .7 .2-3.7zM-22.4-13.9l-1.5 .8-.6 1.2-2.4 1-3 1.1-4.5-.4-1.7 1.2-1.1 3 1.4 3.8 1.5 2.2 1.4 1.1 3 .4 3-1.4 3.3-3.1 3.3-4.5 1.2-3-.8-1.4zM-10.5-80.7l-2.9 1.1-1.5 1.6-1.2 3.3 1.2 .9 4.4-.7 1.5-1.6 .4-3.1-.4-.8zM37.3-20.5l-13.4 2.4-20.9 2-4.5 1.2-1.5 1.5 .2 2.9 1.3 3 6.4 10.5 8.5 10.9 3 2.9 3 1.7 3 .2 4.5-2.4 15-14.8 .4-1.5-2.9-4.5-1.7-7.4 .1-1.5 1-1.4 2.9-1.6 .9-1.5-1.5-1.5zM55.3-18.1l-1.5 1.6-1.5 3.9 0 2.5 1.5 .3 3.3-2.1 3.8-4.5-1.5-1.5-2.6-.5zM70.2 42.2l-3 1.5-3.8 4.1-.7 1.7 1.5 1 3 .5 3-1.3 1.5-1.5 1-1.9 .3-3-1.3-1zM-77.7 4.2l-.5 3.3 .5 1.5 1.5 .5 .7-.5 .4-1.5-.2-1.5-.9-2.3zM-14.9-36l-1.5 1.8 1.5 .3 2.6-1.9-1.1-.7zM-104.5-82.1l2.9 1.7 5.1 4.2 2.4 3 1.2 3-.1 1.5-1.2 3-10.3 17.7zM-88.7 68.7l5.1-.8 3 .4 2.9 1 5.7 3.9 4.9 6 2.2 4.4 .8 4.5-2.2 10.5-.6 5.9-36.7 0-.9-2.2 0-27.3z"/>
<path fill="#ff9068" fill-rule="evenodd" d="M-47.9-100.1l7.7-4.4 144.7 0 0 108.7-1.4 3.9-.6 3.8-1.7 6-.6 6 1.4 2.2 2.9 1.8 0 46.3-7.4 1.5-10.5 1.2-6-1.2-4.3-2.5-1.7-1.5-.6-1.5 2.5-19.4-.3-3-1-3-.5-3.3-1.5-.9-3-.1-3 1.3-4.5 4.2-3.6 1.8-3.8 2.7-3 .7-3-.4-1.5-.6-8.1-8.4-1.9-4.5-.5-3.7-2.4-5.2 .2-4.5 2.7-7.5 4.6-5.9 3.9-10.2 1.1-1.8 3.4-.6 1.5-.8 4.3-4.6 4.6-3.1 1.5 0 3 2.6 1.5 .1 4.5-1.3 2.2-1.3 .8-1.4 .7-4.5 2.5-4.5-.2-2.4-1.5-1.9-2.8-.2-1.7 2.3-4.5-.6-3 1.4-1.5 .1-5.9-.9-1.5 .3-1.5 .9-2.8 2.5-.8 1.5-2 6 .2 4.4-.6 1.6-1.5 1.1-3.3-1.2-.8-1.5-.4-3 .3-1.4 3.8-3 .8-1.5 .1-1.5-1.5-3-4.2-3 .2-3-1-.6-4.5 .3-7.4 4.8-3 1.2-4.5 1.2-6 .7-7.4 .2-7.5-.8-4.5-1.4-1.9-1.1-1.3-1.5-.5-1.5 .5-1.5 1.4-1.5 3.3-1.8 6-1.7 6-.5 7.4 .2 10.5 1.9 1.5-.1 3-1.5 3-.3 1.4-.8 3 .3 3 1.8 1.5-1 1.2-5.4 4.8-5.7 .4-3.3-1.9-6.4-1.5-1.4-3.8-1.2-3.7-3-1 1.5 .8 3 1.7 2.8 3.4 3.2 1.2 3-1.6 1.2-6-.3-1.5-.8-1.2-1.6-.5-1.5-.5-6-2.6-5.9 .2-4.5 1.7-1.4 4.4-1.8 .6 .2 1 3 1.4 1 1.5-.2 .8-.8 .1-1.5-.9-1.3-3-1.8-1-4.4-3.4-4.9-1.5-.5-7.5 2-2.2-1.1-1-2.9-1.3-1-4.5-1.1-13.9-5.4-5.5-1.1-4.5-.4-5.9 .1-13.5 1.9-1.9 1-.3 3-2.3 4-.1 1.9 1.1 1.5 2 1 2.1 2 2.4 7.5 1.5 1.2 4.5-.4 3-3.4 1.5-.8 8.9-1.9 1.5-.7 4.5-4 3-1 3 .4 1.5 .8 2.9 3.3 1.5 .3 3-.9 1.5 .6 1.1 2-.4 1.5-.7 .7-3.8 .8-.6 1.5 .1 6-.6 5.9-1.7 6-.8 1.3-4.5 3.4-6 2.6-3 3.6-1.5 .4-1.5-1-.9-1.3-2.3-7.5 .9-4.5-.4-7.4-1.8-6.5-1.4-1.1-1.5 .2-1.5 .8-2 2.1-.5 1.5 .5 1.5 3.1 5.9 .1 4.5-.7 3-3.5 4.4-3 1.3-3-.1-1.1 1.9 .2 1.5 2.4 1.7 .7 1.2 .3 3 2.2 6-.2 2.1-1.5 .9-6-.9-3 .2-1.7 .7-1.2 1.5 .2 1.5 1.4 1.5-.2 2.3-.6 .7-5.3 1.8-2.9 2.6-3.1 2-5.4 8.5-4.6 3-.7 1.5-.3 4.5-.6 1.5-2.6 2.9 .9 3 2.6 4.5 .9 3 2.3 .5 1.5 1 1.1 1.5-.4 1.5-2.2 .5-1.6-.5-1.6-1.5-.3-1.5-1-1.3-1.5-.5-1.4-1.1-5-6.1-.3-1.5 1.7-3-1.3-7.4-1.9-3-8.2-6.2-1.5 0-1.5 .6-3 2.6-1.4 .8-.9-.8-.6-2-.7-7 .7-10.4 .8-3 .3-4.5 1.1-6 2.2-6.2 6-8.1 3.1-3.6 4.4-3.7 2.5-3.7 4.9-6 7.5-10.6 1.7-4.3 1.2-1.5 4.6-3.4 4.5-1 1.6-1.6-.7-1.5-10.2-4.5-1.9-1.5-.9-1.5 .2-1.5zM61.2-26.1l-.5 .7 1.8 0zM-38.8-48.1l-3.5 1.8-1.4 1.5-.4 1.5 2.5 7.5 .1 4.4 1.2 1.7 1.5 .1 5.9-4.4 1.8-1.8 2.3-9-.9-1.5-4.7-2.5zM14.3-46.3l2.1 .1 .6 1.4-2.1 1.4-1.5-.6-.9-.8zM-10.9 11.9l1.9-.4 3 .5 3 1.9 3 3.3 2 3.7 .7 3-.7 3-1.4 1.5-3.6 1.5-6 .1-4.8-1.6-2.6-2.6-1.1-3.4 .8-4.5 1.8-2.9 1.4-1.6zM-76.2 14.9l4.5-2.4 1.6 .9-.1 1.5-2.5 3-.5 1.8-1.5 .3-1.7-3.6zM-72.2 22.4l2 .5 1.5 1.7 0 2.8-1.3 1-1.7-3zM-58.3 40.3l1.5-.7 3 .2 4.5 1.9 4.5 2.9 3.7 1.7 2.3 1.5 7.4 6.8 9.9 5.1 2.2 3 2.9 2.1 11.9 .6 4.5 1.1 6 3.2 3.2 3.5 .4 1.5-.6 5.9 1.5 2.5 1.4 1 4.5 1.1 6 0 7.5-.7 11.9-2.1 4.5-.1 4.5 1 3.6 1.8 1.8 1.5 1 1.5-.1 1.5-1.4 1.5-3.4 1.5-6 .8-34.4-.9-14.9 1-8.9 0-9 2.1-6 .4-3 .8-5.5 4.8-1.2 2.9-9.6 0 .7-2.9 3.9-7.5-.3-1.5-2.1-3-1.4-3-1.1-6-1.1-2.9-6.4-7.5-1.6-3 .2-3 1.6-1.5 .2-1.5-3.8-5.9-1.8-4.5-.2-7.5 .2-1.5zM43.2 58.2l3.1-.9 2.2 .9 1 1.5 .2 3-.4 1.9-1.5 2.2-.9 .4-2.1-.1-1.5-1.3-.8-1.6-.6-3z"/>
<path fill="#ff8660" fill-rule="evenodd" d="M-1.9-103.1l1.4-1.4 77 0 4.7 2.9 2.4 2.6 1.1 1.9 .2 3-2.7 7.5-.6 3 0 4.4 1 4.5 1 1.4 1.5 .7 7.5 .1 4.5 1.2 3 1.9 4.4 4.3 0 57.3-2.9 9.8-.5 11.4-1.3 4.5-.2 4.5-1 3 .8 3-2.3 1.6-.3 2.9-1.3 1.5-.8 4.4 7 12 2.6 7.4 .2 6.4-.6 4.1-.7 1.5-2.3 1.5-5.3 1-10.5 1.1-3.1-.6-4-3-.6-3 .2-6 .8-4.4-.5-7.5-1.7-4.5-.9-4.5-.6-.6-3-.2-3 .6-2.7 1.7-3.3 3-7.4 4.4-4.5 .5-3-1.2-6-5.6-1.9-2.6-1.1-3-.4-4.4-2-6 1.3-6 1.8-4.5 4-4.5 2.8-4.5 1.5-1.3 14.9-6.2 4.9-2.9 7.1-5.4 1.6-2.1 1.4-4.4 3.2-6 .2-6-.5-1.6-1.4-1.7-3 1.1-1.5 0-4.5-2.2-3 1.9-1.5-.2-3.8-1.8-1.8-1.5-1.6-2.9-.5-3 .1-3 3.9-15 .7-5.9-1-7.5-3.7-11.9-2.7-3.3-3-1.5-3-.7-6 .6-11.9 4.5-4.5-2-9-1.6-4.5-1.4-4.4-2.6-6-1.9-14.9-.5-4.5 .5-6 1.7-4.5 0-2.6-.8-1.9-2.6-3.5-1.9-1.5-1.5 .2-1.5 1.8-1.5 4.5-1.4 9-.8 6 .9 7.4 0 3-.4zM70.2-59l-1.4 .8-.2 1.4 2.4 4.5 2.2 1.5 3 1.1 1.5 .2 1.5-.7-.4-2.1-1.1-1.8-4.7-2.7zM68.7-46.9l-.8 .6-2.2 4.5-.6 1.5 .1 1.5 1.3 3 2.2 2.6 .9 .3 .6 1.3 .6-1.3 .9-.3 .8-1.2 3-8.9-.8-2-1.5-.9zM-41.8-80l4.5-1.1 1.5 .2 1.9 6.2 1 1.2 3 .9 1.5 1.1 1.5 4.3 .2 4.5 1.3 1.6 4.5 .5 1.5 1 3.1 4.3 .9 3-.5 4.5-1.7 3-1.8 1.6-1.5 .6-2.4-.7-1.9-1.5-1.7-3.2-1.5-1.5-1.5-.1-3-1.2-1.5-.1-8.9 2.2-3 .1-4.5-2.3-3.7-4.4-1.3-2.9-.1-3 3.7-7.5 2.9-4.2 4.5-5.2zM-5.8-67.2l7.3-4 3-.2 1.5 .5 2.2 2.2 2.2 6 .6 4.5-.1 2.9-.9 4.5-.7 1.5-1.8 2-4.5 2.9-4.5 1.2-1.5-.1-1.5-1.5-1.1-3-1.6-14.9 .6-3zM-61-34.4l2.8 .1 1.4 .6 3 2.3 2.2 3 3.1 7.5 1.6 9-.9 4.4-2.6 4.5-4.9 2.4-2.9 2.9-1.5 .4-3-3.5-5.2-3.7-2.5-3-.9-1.5-.4-2.9 .6-7.5 2.4-7 3.3-5 2.7-2.3zM4.1-29.9l7.8-.7 7.5 .7 4.5 1.5 2 1.5 .4 1.5-1 1.5-2.5 1.5-4.9 1.3-4.5 .5-8.9-.5-4.5-1.3-2.2-1.5-.7-1.5 .6-1.5 2.3-1.6zM-52.9 46.3l.6-.7 1.5-.6 1.5 .2 5.9 2.6 2.1 1.5 2.8 3 .6 1.5-.4 1.5-2 .9-1.5 .1-3-.5-3-1.4-4.2-3.6-1.2-3zM-13.2 67.2l7.2 .3 3 .6 4.5 1.6 3.5 2 1.6 1.5 .6 1.5 0 1.5-1.4 4.4-.9 6-1 1.5-3.9 2.3-3 1-7.5 .1-5.9 .9-4.5-.7-4.1-2.1-.8-1.5 .1-1.5 2.2-8.9 1.8-4.5 3.7-4.5z"/>
<path fill="#ff7c58" fill-rule="evenodd" d="M1.5-103.1l5-1.4 22.6 0 11.6 4.4 2.6 1.5 1.2 1.5-.7 1.5-5.3 3-8.6 3.5-4.5 1-6-.1-4.5-1-8.9-4.5-3-.7-4.5 .4-10.4-.6-6 .9-4.5 1.3-2.4-.2-.6-.8-.2-.7 .9-1.5 3.9-3 1.4-.4 4.5 .4 8.9-.6 4.5-1.6zM-42.5-74.7l3.7-.8 1.5 .4 4.4 4.6 3 1.2 1.2 2.1 .1 1.5-.7 4.5 2.4 4.1 1.5 .8 3-1.9 1.5 .1 3 2.8 1 3-.2 3-.8 2.4-1.5 1.7-1.5 .7-1.5-.3-1.5-1.2-.9-1.8-.6-4-1.5-1.3-6 .1-8.9 1.1-3-.9-3.2-2.5-2.5-4.4-.5-3 .4-3 1.3-3 1.5-2.1 3-2.7zM.5-68.7l2.5-.7 1.5 .3 1.5 1 2 3.9 1.3 6-.2 4.4-1 3-1.1 1.5-2.5 1.9-3 .9-2.5-1.3-1.9-3-1-3-.6-4.4 .6-6 .7-1.5zM90.7-61.2l3.4-1.1 3 .6 3 2 2.4 2.9 .3 1.5-2.6 4.5 .1 1.5 2.8 6.3 1.3 5.7 .1 14.5-2.9 15.1-.8 19.6-1.4 6-.3 4.5-1 3-.1 3-1.3 1.5-.7 3-5.2 10.4-.1 1.5 3.1 4.5 1.3 3 .6 3-.1 3.2-1.4 4.2-1.6 2.1-1.5 1-3 .6-3-1.1-1.4-1.1-2.1-3-.6-3 .2-2.9-1.8-3-1.1-4.5-1.3-3-.8-5.1-1.1-.9-3.4-.1-3 .7-3 1.7-4.5 3.9-3 1.2-2.9 2.1-3 .6-3-.5-7.4-6.6-1-1.5-1.2-3-.4-4.4-1.9-6 .8-4.5 2.1-5.5 6-6.3 1.5-1.1 11.9-5.2 7.5-4 6-4.6 4.1-4.7 4.9-10.4 .9-3-.4-6-1.6-4.5-1.6-2.9-.3-1.5 .9-6 2.5-4.5 1.5-6 3.1-4.4zM5.3-28.4l5.2-.7 5.9 .3 4.5 1.5 .7 .4 .7 1.5-1.2 1.5-4.7 1.6-5.9 .4-4.4-.5-3.8-1.5-1-1.5 .8-1.5zM-13.9 70.2l3.4-1.1 4.5 0 6 1.8 3.4 2.3 1.1 1.5 .2 3-2.2 7.4-2.4 3-2.7 1.5-1.9 .4-7.4-.1-3-.5-1.9-1.3-1.1-1.4-1.5-4.6 .3-4.4 2-4.5z"/>
<path fill="#ff7250" fill-rule="evenodd" d="M11.9-101.6l6-.5 6 .7 4.5 1.5 2 1.3 .8 1.5-.7 1.5-3.6 2-4.5 1.2-4.5 .2-3-.4-4.6-1.5-4.3-2.3-2.7-.7-1.1-1.5 3.4-1.5zM-41.9-71.7l3.1-.6 1.5 .3 2.9 2.8 3.3 2 .6 1.5-1.3 4.5-.2 4.4-2.1 1.5-4.7 1-3-.4-3.3-2.1-2.1-2.9-.6-4.5 1-3 2-2.6zM2.5-67.2l2 .5 1.5 1.9 1.3 3.6 .5 3-.3 3.6-1.1 2.3-1.9 1.8-1.5 .4-1.5-.4-1.7-1.8-1.4-3-.4-2.9 .1-3 .9-3 1-1.6zM93.5-55.3l2.1-.1 1.7 1.6-1.7 1.8-3 .2-1.9-.5 .5-1.5zM-21.2-53.8l1.8-.1 .8 3.1-.8 3-1.5 .8-1.5-.6-.3-1.7 .3-1.8zM86.5-46.3l1.6-.8 3 1.2 4.5-.6 1.5 .7 1.5 1.5 1.5 2.7 1.5 5.8 .4 8.9-1.9 12 .6 10.4-.3 15-1.3 5.9-.5 6-.6 1.5-.6 4.5-1 1.5-2.3 5.6-5.2 9.3-3.8 5.2-3 2.2-1.5-.3-.5-1.1-2.4-6-1-6-.5-.6-1.5-.4-4.5 .3-3 1.2-6 4.8-6.9 3.7-2 .3-2.2-.3-2.3-1.5-4.8-4.5-1.9-3-1-5.9-1.8-6 1.2-6 2.2-4.5 4.6-3.6 20.9-10 6-4.3 4.5-4.9 2.4-4.1 4.4-10.4-.5-14.9 .8-6zM7.2-26.9l3.3-.6 4.4 .2 1.6 .4 1.5 1.5-3.1 1.7-5.9 .1-1.5-.4-1.8-1.4zM-11.1 71.7l3.6-.8 4.5 .7 2.9 1.6 2.2 3 .3 3-1.2 4.4-1.2 2.3-3 2.2-3 .5-4.6-.5-3-1.5-2.1-3-.7-4.4 .7-3 2.3-3z"/>
<path fill="#ff6848" fill-rule="evenodd" d="M-41.7-68.7l2.9-.8 1.5 .4 3.9 3.4 .4 1.5-1.4 4.5-1.4 2.1-1.5 .6-3-.1-2.3-1.1-1.4-1.5-.7-1.5-.2-3 1.4-3zM2.8-62.7l1.7 .8 .7 3.7-.7 2.2-1.5 .7-1.5-1.4-.4-1.5 .3-3zM90.7-38.8l1.9-1.2 3 .4 1.5 1.6 1 2.2 .9 4.4 .2 7.5-.9 9 1.7 10.4 0 13.5-1.6 7.4-1.1 10.5-1.7 4.6-7.5 13-3 3.8-3 2.3-1.5-.9-2.1-4.9-.9-6-1.4-1.8-6 .3-3 1.1-6.3 4.9-7.1 3.7-3 0-1.5-.5-5.1-4.7-2.4-4.2-.8-4.7-1.7-6 1-6.1 1.5-2.9 1.5-1.4 4.5-2.5 20.4-9.5 5-3.4 4.2-4.1 3.2-5 4-9.9 1.8-3-.6-4.5 .8-7.5 .5-1.5 2.5-2.3zM-7.9 73.2l2.2 0 2.7 1 1.5 1.2 1.3 2.3 .2 2.9-1 3-1.3 1.5-2.2 1.2-3 .2-3-1-2-1.9-1.3-3 .3-2.9 .7-1.5 2.3-2.2z"/>
<path fill="#ff5a3c" fill-rule="evenodd" d="M-40.3-65.4l1.5-.4 1.5 .9 .7 2.2-.7 1.8-1.5 .5-1.9-.8-.7-1.5 .2-1.5zM89.1-32.9l3.5-2.6 1.5 0 2.1 4.1 .9 6 .2 9-.3 1.5-1.3 1.5-.2 1.5 3.1 3.2 .8 4.2 .1 7.5-.6 8.9-1.5 4.5-1.8 13.5-1.5 3.1-7.5 12-3 3.2-1.5 .8-1.5-1.4-1.4-3.2-.9-7.1-2.1-1.7-7.5 .9-3 1.4-5.3 3.9-3.6 1.7-1.7 1.3-2.8 1-1.5-.3-1.4-.7-4.6-4.5-1.5-3-3-10.4 .1-3 1.4-3.9 1.5-1.7 1.5-.8 23.9-10.8 4.5-2.7 4.4-4 2.3-3 2.2-4.2 3.2-9.2 2.8-3-1.1-4.5 .4-4.5 .7-2.8zM-8.3 76.2l2.3-.2 2.4 1.7 .6 1.5 0 1.4-1.5 2.1-1.5 .6-1.5 0-1.5-.6-1.5-1.7-.3-1.8 .6-1.5z"/>
<path fill="#f04628" fill-rule="evenodd" d="M89.9-29.9l1.2-.6 1.5 1 2.3 4.1 1.2 4.5 .4 3-.9 2.5-1.7 .5-.4 1.5 .6 1.5 4.2 4.4 .6 3-.3 11.9-.8 3.1-.7 2.1-1.5 2.3-1.5 1.2-1.5 .1-4-1.3-3.4-3-2.3-4.4-1.3-6 .5-3 4.5-14.4 1.5-1.3 1.8-.7-1.9-6 .4-3zM71.6 9l1.6 0 1.7 1.5 2.3 2.9 1.1 3 .4 4.5-.3 4.5-.8 3-1.4 1.5-10.4 4.5-9 2.4-7.5 .2-3-.5-1.5-1.3-1.5-3.1-1.5-5.7 0-2.9 1.5-2.7 12.3-5.9zM82.5 31.4l2.6-.5 1.5 .3 3 1.4 1.6 1.8-.1 1.5-4.5 7.3-3 3.3-1.5 .6-1.5-2.1-.2-1.7 .3-8.9 .3-1.5z"/></g>

<use href="#grid" transform="translate(168.80,417.80) scale(1.0010)"/>
<use href="#coast" transform="translate(168.80,417.80) scale(1.0010)"/>
</g>
<circle cx="168.80" cy="417.80" r="101.50" fill="none" stroke="#333" stroke-width="0.8"/>
<polygon points="294.3,330.4 303.2,319.8 312.2,330.4" fill="#f04628"/>
<rect x="294.30" y="330.40" width="17.90" height="10.84" fill="#ff5a3c"/>
<rect x="294.30" y="341.19" width="17.90" height="10.84" fill="#ff6848"/>
<rect x="294.30" y="351.99" width="17.90" height="10.84" fill="#ff7250"/>
<rect x="294.30" y="362.78" width="17.90" height="10.84" fill="#ff7c58"/>
<rect x="294.30" y="373.58" width="17.90" height="10.84" fill="#ff8660"/>
<rect x="294.30" y="384.37" width="17.90" height="10.84" fill="#ff9068"/>
<rect x="294.30" y="395.16" width="17.90" height="10.84" fill="#ff9c72"/>
<rect x="294.30" y="405.96" width="17.90" height="10.84" fill="#ffa67c"/>
<rect x="294.30" y="416.75" width="17.90" height="10.84" fill="#ffaa80"/>
<rect x="294.30" y="427.55" width="17.90" height="10.84" fill="#ffb288"/>
<rect x="294.30" y="438.34" width="17.90" height="10.84" fill="#ffbc94"/>
<rect x="294.30" y="449.14" width="17.90" height="10.84" fill="#ffc49e"/>
<rect x="294.30" y="459.93" width="17.90" height="10.84" fill="#ffcca8"/>
<rect x="294.30" y="470.72" width="17.90" height="10.84" fill="#ffd9b8"/>
<rect x="294.30" y="481.52" width="17.90" height="10.84" fill="#ffe6cc"/>
<rect x="294.30" y="492.31" width="17.90" height="10.84" fill="#f0f8ff"/>
<rect x="294.30" y="503.11" width="17.90" height="10.84" fill="#daecff"/>
<polygon points="294.3,513.9 303.2,524.7 312.2,513.9" fill="#c4e0fa"/>
<path d="M294.30,330.40H312.20M294.30,341.19H312.20M294.30,351.99H312.20M294.30,362.78H312.20M294.30,373.58H312.20M294.30,384.37H312.20M294.30,395.16H312.20M294.30,405.96H312.20M294.30,416.75H312.20M294.30,427.55H312.20M294.30,438.34H312.20M294.30,449.14H312.20M294.30,459.93H312.20M294.30,470.72H312.20M294.30,481.52H312.20M294.30,492.31H312.20M294.30,503.11H312.20M294.30,513.90H312.20" stroke="#3a2a2a" stroke-width="0.7" stroke-opacity="0.8" fill="none"/>
<path d="M294.30,330.40L303.25,319.80L312.20,330.40L312.20,513.90L303.25,524.70L294.30,513.90Z" fill="none" stroke="#555" stroke-width="0.6" stroke-opacity="0.7"/>
<text x="319.0" y="344.2" font-size="7.5">0.38</text>
<text x="319.0" y="365.8" font-size="7.5">0.34</text>
<text x="319.0" y="387.4" font-size="7.5">0.3</text>
<text x="319.0" y="409.0" font-size="7.5">0.26</text>
<text x="319.0" y="430.5" font-size="7.5">0.22</text>
<text x="319.0" y="452.1" font-size="7.5">0.16</text>
<text x="319.0" y="473.7" font-size="7.5">0.12</text>
<text x="319.0" y="495.3" font-size="7.5">0</text>
<text x="316.6" y="516.9" font-size="7.5">-0.2</text>
<text x="305.5" y="537.8" font-size="9" text-anchor="middle">&#x2DA;<tspan dx="-0.6">C/decade</tspan></text>
<text x="380.6" y="281.5" font-size="14.0" font-weight="bold">d</text>
<text x="470.3" y="285.8" font-size="12.0" >B&#xF8;lling&#x2013;Aller&#xF8;d (TraCE-21ka)</text>
<text x="470.3" y="302.8" font-size="12.0" >14,670&#x2013;14,571 yBP</text>
<text x="400.2" y="302.3" font-size="11.7" >CO&#x2082;</text>
<path d="M388.1,310.9H432" stroke="#000" stroke-width="2"/>
<circle cx="388.1" cy="310.9" r="1.8"/><circle cx="432" cy="310.9" r="1.8"/>
<text x="365.4" y="327.7" font-size="9.4" >223.6 ppm</text>
<text x="419.6" y="327.7" font-size="9.4" >224.7 ppm</text>
<clipPath id="clip_d"><circle cx="530.00" cy="422.50" r="101.50"/></clipPath>
<g clip-path="url(#clip_d)">
<g transform="translate(530.00,422.50)"><rect x="-105.5" y="-105.5" width="211.0" height="211.0" fill="#2c44f0"/>
<path fill="#4c70f8" fill-rule="evenodd" d="M-104.5-104.5l209 0 0 209-209 0zM-56.8 44.4l-1 1.9 .4 1.5 2.2 3 3.8 3 3.6 1.9 4.5 1.3 3 0 1.5-1.1 .1-2.1-.8-1.5-2.8-3-2.5-1.9-3-1.7-4.5-1.5-3-.2zM60.1 70.2l-.8 0 .4 .4z"/>
<path fill="#7096fa" fill-rule="evenodd" d="M-104.5-104.5l209 0 0 209-209 0zM-55.3 42.5l-3.8 .8-.9 1.5 .7 3 2.4 3 4.6 3.7 6 2.9 4.5 1.1 3.4-.3 1.8-1.4 .2-1.5-1.4-3-2.8-3-4.2-3.1-7.5-3.3zM56.8 67.1l-6.2 3.1-4.2 3-1.3 1.5 2.7 .7 11.9-.5 4.8-1.7 1.9-1.5 .9-1.5-.1-1.7-1.1-1.3-1.9-.6-3-.3z"/>
<path fill="#aaccff" fill-rule="evenodd" d="M-104.5-104.5l209 0 0 209-209 0zM-61.2 41.8l-1.1 1.5-.1 1.5 1.1 3 3.9 4.5 5.1 3.6 6 2.8 4.5 1.1 4.5 .1 2.8-1.7 .4-1.4-.3-1.5-1.7-3-2.8-3-4.4-3.5-6-3.1-4.5-1.5-4.4-.3zM58.2 64.2l-5.9 1.8-24.6 10.2-6.3 3-2.3 1.4-.8 1.5 4.1 1.2 9-.4 31.3-6.3 3-1.1 3.9-2.3 2.8-3 1.3-3-.5-1.8-3-1.6-6-.4z"/>
<path fill="#d4eaff" fill-rule="evenodd" d="M-104.5-104.5l209 0 0 209-209 0zM-94.1 38.3l-1.5 .9-.6 4.1 .6 3.6 1.5 .9 .9-1.5 .6-3zM-62.7 39.6l-1.3 .7-1.2 1.5-.3 1.5 .8 3 3.2 4.5 6.2 5.2 6 3.2 7.5 2.2 6 .1 3.6-1.8 .7-1.5 0-1.4-1.3-3-3.9-4.5-5.1-4.1-4.5-2.7-7.5-2.8-4.4-.7zM-53.8-4.6l.8 1.6 1.6 1.5 5.2 3 4.4 1.5 3.7 0-.2-1.5-1.5-1.5-5-3.1-6-2-1.5-.1zM65.7 59.6l-10.4 2.1-23.9 7.4-6 1.1-19.4 2.6-30.2 7.8-4.3 1.5-6.4 3-4.4 3-2.5 3 .7 1.5 3.8 1.1 14.9 1.1 14.9-.3 13.5-1.9 61.2-14.2 6-2.8 6-3.9 3.3-3 2-3 .3-1.5-.4-1.5-1.3-1.5-2.5-1.1-5.9-1z"/>
<path fill="#ffe4ca" fill-rule="evenodd" d="M-104.5-104.5l209 0 0 209-140.1 0 8.7-1 16.4-1.2 9-1.3 7.5-1.9 20.2-6.5 11.1-2.9 25.4-4.1 7.5-1.6 10.4-3.7 11.4-5.6 6.5-4.5 2.9-3 .8-1.5 0-3-.8-1.5-3.3-3-2.9-1.4-8.6-2.5-10.4-1-6 .1-7.5 .9-28.3 7.6-26.9 3.5-4.5 1.4-10.2 4.9-7.7 2.5-9 1.7-19.4 2.4-7.5 1.8-6 2.4-14.9 7.3-6 2.2-5.9 1.3-10.5 .6-10.4 2.4zM-97.1-3.2l-1.5 2.1-1 2.6-1.2 6-3 40.3 .8 6 2.3 5.9 2.1 3.1 1.5 1.4 3 1 1.5-.3 2.8-2.2 2.7-4.5 1.7-5.9 .5-7.5-2.5-14.9-.4-18-1.3-8.9-1.7-4.5-1.8-2.1-1.5-.7-1.5 .1zM-65.7 37.3l-2.6 1.5-1.1 1.5-.4 3 .8 3 1.7 3 3.1 3.8 3 2.7 4.4 3.1 7.5 3.1 6 1.2 4.5 .4 3-.1 2.9-.7 4.5-3.1 .8-1.5-.2-1.4-2.9-4.5-5.1-5-6-4.4-6-3.1-6-2.1-5.9-1zM-58.2-8.1l-1.2 .6 0 1.5 1 1.5 3.4 3 4.2 2.6 6 2.6 4.5 1.3 4.5 .4 1.7-.9-.4-1.5-3-3-7.3-4.5-7.5-3-3-.6zM47.8 41.6l-2.5 1.7 .2 1.5 2.3 1.5 3 .7 3 0 2.9-.7 2.1-1.5 0-1.5-1.8-1.5-1.7-.5-4.5-.3zM70.2 19.1l-3 1.7-1.4 1.6-1 3 .8 3 3.1 2.8 4.5 1.4 4.5-.2 4.4-1.9 2.3-2.1 .9-1.5 .3-3-1.8-3-1.7-1.2-2.9-1.2-3-.4-3 .2z"/>
<path fill="#ffd6b6" fill-rule="evenodd" d="M-104.5-103.1l1.6-1.4 207.4 0 0 151.8-10.4-1.1-4.8-1.4-2.7-1.6-.9-1.4 .3-1.5 6.7-7.4 3.2-4.5 1.5-4.5-.1-3-1.3-3-1.3-1.5-3.6-2.6-6-2.4-4.5-.8-5.9 .1-6 1.3-6 2.6-4.5 3.2-2.7 3.1-1.8 4.5 .1 3 1.9 6-.1 1.4-3.3 1.5-7.5 1.8-4.6 2.7-1 1.5-.1 1.5 2.4 4.5-.5 1.5-5.2 2.2-7.4 1.6-9 .8-32.8 .6-4.5-1.4-3-1.6-16-11.2-4.9-2.7-6-2.4-7.5-2.1-7.4-1.2-6 .3-7.5 1.6-1.5-.2-1.5-.9-1.4-1.9-1-2.4-.6-4.5 2.5-17.9 .2-6-.8-4.5-2.4-6-5.4-7.9-3-2.6-3-1.4-1.5-.2-3 .8-3 2-2.9 3 0-51.8 .6-3.1-.6-2.5zM-64.2-12l-1.5 .3-1.8 1.2-.1 1.5 .6 1.5 4.3 4.5 5.9 3.8 7.5 3.3 9 2.7 5.9 .6 1.5-.2 1.9-1.2-.2-1.5-2.6-3-9.5-6.5-6-3-6-2.4-4.4-1.3zM-25.4 60.3l4.5-1.2 3 0 4.5 1.5 2.3 2.1 .8 1.5 .4 1.5-1.4 3-3.6 2.4-3 1.1-6 .9-13.4-.5-5.1-.9-3-1.5-.2-1.5 2.3-1.1 8.9-1.9zM-78.3 68.7l2.1-.7 2.1 .7 1.4 1.5 .3 3-1.7 3-1.7 1.5-3.4 1.4-1.4 .1-2.3-1.5 0-3 2.3-4zM-104.5 81.7l0-7.9 1.1 3.9 0 1.5zM98 86.6l6.5-1.3 0 19.2-84.3 0 9.7-4.5 5.9-1.6 6-.7 6 .1 5.2 .8 12.7 4.1 3 0 15.6-10.1 5.8-3z"/>
<path fill="#ffc8a2" fill-rule="evenodd" d="M-71.8-103.1l9.6-1.4 114.9 0 10 2 22.4 5.9 7.7 2.5 2.6 1.5 1.3 1.5 .2 1.5-1 1.5-1.8 1.4-16.7 7.5-3.4 3-.5 3 3.2 9 .5 4.5-3.9 35.8-2.2 7.5-5.9 10.4-3.1 7.5-2 3-4.5 4.5-9.3 6.9-7.5 4.5-8.9 4.6-12 4.4-29.8 8.1-9 .8-9-1.2-28.8-7.2-8.1-3-1.6-1.5-.4-1.5 .7-1.5 1.5-1.5 3.9-2.4 16.4-8.8 3-.6 8.9 .2 3.9-.3 2.5-1.5-.1-1.5-2.2-3-5.6-4.5-19.4-11.9-6.4-4.5-7.3-7.5-2.6-4.5-.5-3 .5-2.9 2.4-6 .3-4.5-1-3-6-11.9-3.3-14.1-1.4-2.4-1.6-1.5-13.3-7.4-2.9-3-.3-1.5 .4-1.5 2.7-2.6 3.2-1.9 10.3-3.7zM-23.6 61.2l4.2 0 3.7 1.5 1.5 1.5 .5 1.5-.1 1.5-1 1.5-3.1 1.9-3 .8-4.5 0-4.5-1.6-1.2-1.1-.2-1.5 .5-1.5 1.2-1.5 2.7-2z"/>
<path fill="#ffb48a" fill-rule="evenodd" d="M-42.8-103.1l11.4-.8 10.5-.2 31.4 1 25.3 0 10.5 .6 10.5 1.7 10.4 3.1 8.3 3.6 2 1.5 1 1.5 0 1.5-1.1 1.5-4.5 3-8.6 4.5-3.1 2.5-1.1 1.9 .1 3 4 10.5 1 5.9-.1 13.5-1.5 10.4-2 6-2.2 4.5-12.1 17.9-1.2 3-1.2 6-1.2 3-2.5 3-3.9 2.9-7.4 4-12 4.4-22.4 5.8-14.9 2.7-10.5 .7-8.9-.7-8.6-1.9-3.4-1.5-1.9-1.5-.6-1.5 .4-1.5 1.2-1.5 4-3 10.4-5.5 10.4-2 1.9-1.4 .2-1.5-1.9-3-3.3-3-16.4-12-3-2.9-2-3-2.4-6-1.1-6 .4-6 2.2-10.4-.4-3-1.8-3-8.2-6.3-3.9-4.1-2.9-6-1.3-7.5-1.2-3-2.7-3.2-8.8-7.2-1-1.5-.2-1.5 .6-1.5 2-1.7 2.9-1.6 6-2.1 13.5-2.9zM-26 62.7l3.6-.9 3 .3 1.5 .6 2 1.5 .7 1.5-.2 1.5-2.5 2.3-3 .9-3 .1-3-.7-1.7-1.1-.9-1.5 .2-1.5 1-1.5z"/>
<path fill="#ffa478" fill-rule="evenodd" d="M-33-101.6l15.1-.4 61.2 1.2 9 1.2 5.9 1.6 6 2.4 4 3 .7 1.5-.2 1.5-1 1.5-13.7 8.9-2.4 3 .2 3 4.6 9 1.4 7.4-.7 16.5-1.1 5.9-1.9 6-5.4 10.5-11.1 16.4-3.1 7.5-1.7 3-3.2 2.9-4.9 3-7.1 3-10.1 3.2-13.5 3.1-10.4 1.8-7.5 .7-7.5-.1-5.9-.9-3.6-1.8-.6-1.5 .6-1.5 1.3-1.5 6.9-4.5 9.1-3 1.8-1.4 .4-1.5-.4-1.5-4.2-4.5-15.3-12-2.6-2.9-1.8-3-2.8-7.5-.7-7.5 .9-5.9 3.9-12 .4-4.5-.7-1.5-1.5-1.5-10.6-4.9-4.4-3.8-2.5-4.7-1.1-6-1.1-3-2.2-2.9-6-6-1.5-3 .1-1.5 1.1-1.5 2-1.5 7.8-3 13.8-2.7zM-24.2 62.7l3.3-.2 3 1.1 1.6 2.1-.3 1.5-1.5 1.5-2.8 1.1-3 0-3-1.1-1.3-1.5 0-1.5 1.3-1.7z"/>
<path fill="#ff9669" fill-rule="evenodd" d="M-29.5-100.1l13.1-.2 26.9 .8 23.9-.2 8.9 .4 7.5 1.2 6 1.9 3.8 2.1 1.5 1.5 .5 1.5-.2 1.5-2.6 3-11.5 7.4-3.6 3-.9 1.5-.2 1.5 .7 1.5 3.8 4.5 1.7 3 1 3 .5 4.4-1.6 22.4-1.5 6-3 7.5-5.2 9-9.5 11.9-6 9-3.4 2.9-2.5 1.5-6.8 3-11.8 3.3-14.9 2.5-8.7 .2-4.7-1.5-.3-1.5 1.2-1.5 8-4.2 1.5-1.5 .6-1.7-.3-1.5-.8-1.5-2.9-3-12-9-5.9-6-4.1-7.4-1.9-7.5-.1-4.5 1.1-5.9 2.9-7.5 6.1-12 .8-2.9-.5-3-.9-1.1-1.5-.7-10.5-.3-3.8-.9-2.7-1.5-2.7-3-1.8-6-1.5-3-6.9-7.4-1.9-3-.2-1.5 .5-1.5 1.5-1.5 2.5-1.5 5.1-1.8 14.9-2.9zM-26.2 64.2l3.8-1.2 3 .5 1.2 .7 1 1.5-.4 1.5-1.8 1.5-1.5 .5-3 0-1.5-.5-1.8-1.5-.1-1.5z"/>
<path fill="#ff8a60" fill-rule="evenodd" d="M-31.1-98.6l13.2-.3 28.4 .8 29.8-.1 7.5 1 5.3 1.6 2.8 1.5 1.6 1.5 .6 1.5-.2 1.5-.9 1.5-3.5 3-19.1 11.2-6 1.5-15 .7-5.4 1.5-.5 1.5 1 1.5 3.4 2 4.5 1.3 6 .1 9-2.7 3-.5 4.4 1 2.6 1.8 1.9 3 .7 3-.2 8.9 1.1 14.9-.9 6-2.7 7.5-3.2 6-4.4 5.9-17.7 18-4.4 2.9-7.1 2.9-9 1.8-4.5-.2-1.5-.8-.5-.7-.5-4.4-1.9-3-14.9-10.5-5.1-4.5-4.6-5.9-2.8-6-1.4-7.5 .9-7.5 1.5-4.4 2.3-4.5 8.5-12 2.6-4.4 1-3 .6-6-.1-3-.7-1.5-2.2-1.5-5.1-1-13.4 .9-3-.4-3-1.6-7.4-5.5-2.9-2.8-1.6-3 0-1.5 .9-1.5 1.8-1.5 4.7-2.1 12-2.6zM-25.1 64.2l2.7-.7 3 .7 1.3 1.5-.4 1.5-2.4 1.4-1.5 .1-3-.8-.8-.7-.3-1.5z"/>
<path fill="#ff7855" fill-rule="evenodd" d="M-34.1-97.1l14.7-.6 28.4 1.1 22.4-.7 8.9 .3 6 .9 5.4 2 1.9 1.5 .8 1.5-.1 1.5-2.3 3-2.7 2.1-7.5 4.4-6 2.8-7.4 2.2-10.5 1-20.9-.9-6 .4-16.4-3.3-20.9-1.4-3-.6-4.5-1.9-3-2-2.5-2.8-.5-1.5 .2-1.5 1.2-1.5 3.1-1.9 9-2.5zM-13-71.7l2.5-1.4 3 .4 7.6 5.5 9 4.5 7.3 2.5 12 2.1 3.9 1.3 2.1 1.8 1.4 2.5 4.5 12.2 .8 5.9-.9 7.5-2.2 6-4.3 7.5-5.3 6.2-7.5 6.3-7.5 4.8-7.4 3.2-4.5 .7-6-1.1-10.4-4.2-9-4.9-6-4.7-4.1-4.8-2.7-4.5-2.1-6-.6-4.5 .3-4.5 1.1-4.4 2-4.5 4-6 10.2-11.9 5.4-10zM-23.8 64.2l3.1 0 1.7 1.5-.4 1.5-3 1-2.9-1-.4-1.5z"/>
<path fill="#ff6848" fill-rule="evenodd" d="M-36.5-95.6l18.6-.8 28.4 1.2 17.9-1 8.9 .1 6 .7 4.4 1.3 2.4 1.5 1 1.5 .1 1.5-.7 1.5-3.2 3-10 5.6-8.9 2.8-9 1.1-10.4-.8-12-3.8-16.4 .5-23.9-1.5-7.5-2.1-2.9-1.8-1.3-1.5-.5-1.5 .4-1.5 1.4-1.5 2.9-1.5 6-1.7zM-8-64.2l5 .2 4.5 1.2 25.4 9.8 3 2.2 3.8 4.5 2.3 4.5 1.5 4.5 .4 5.9-1.1 6-2.4 6-3.8 6-5.2 5.5-6 4.6-7.5 3.9-5.9 1.8-6 .6-7.5-.8-5.9-1.7-7.5-3.5-6-4.4-4.2-4.5-2.9-4.5-2.2-6-.5-6 .6-4.5 1.6-4.4 2.5-4.5 3.6-4.6 13.5-13.9 3-2.5zM-24.7 65.7l2.3-1.1 1.5 .3 1 .8-.7 1.5-1.8 .4-1.7-.4z"/>
<path fill="#ff5535" fill-rule="evenodd" d="M-37.9-94.1l9.5-.9 9-.2 26.9 1.7 19.4-1.5 8.9-.1 4.5 .4 4.5 1.2 3 2 .6 1.9-.6 1.5-3 3-7.5 4.2-7.4 2.6-9 1.3-6-.1-4.4-.9-9-4.3-3-.7-17.9 1.4-16.4-.7-9-1.3-3.8-1.5-1.9-1.5-.6-1.5 .5-1.5 1.9-1.5 3.7-1.5zM-9-59.7l4.5-1.1 6 .7 7.5 2.5 13.4 6 4.5 3 3 2.9 2.7 3.9 1.8 4.5 .7 4.4-.6 6-2.2 6-3.7 6-4 4.4-5.2 4.2-6 3.3-5.9 2.2-6 1-6 0-6-1-7.4-2.8-4.5-2.8-4.6-4.1-3.5-4.4-2.7-6-.9-4.5 .3-6 1.4-4.4 2.4-4.5 3.6-4.5 5.5-5.4 7.5-6.7zM-23.3 65.7l.9-.3 1.2 .3-1.2 .8z"/>
<path fill="#ff4126" fill-rule="evenodd" d="M28-94.1l7.8 0 6 1.1 3.3 1.9 .6 1.5-.4 1.5-3.5 3.3-7.4 3.9-7.5 2.1-7.5 .7-4.5-.5-3-.7-2.7-1.3-4.7-3.9-3-1.4-4.5 0-14.9 2.5-10.5 0-7.4-.6-6-1.1-3.4-1.5-1-1.5 .6-1.5 2.5-1.5 5.3-1.5 7.9-1 15-.1 19.4 2.5zM-8.2-56.8l5.2-1.2 4.5 .3 6 1.8 10.8 5.1 5 3 3.6 3 3.3 4.5 1.8 4.5 .5 4.4-.6 4.5-2 5.3-3.2 5.2-4.1 4.5-4.7 3.7-6 3.3-5.9 2.1-6 1-6-.1-5.9-1.2-6-2.6-4.8-3.3-4.2-4.4-2.7-4.5-1.6-4.5-.5-4.5 .5-4.5 1.3-4 1.9-3.4 3.5-4.5 5.1-4.9 7.5-6.3z"/>
<path fill="#ff1405" fill-rule="evenodd" d="M23.5-92.6l7.9-.6 6.9 .6 3.7 1.5 1 1.5-.2 1.5-2.8 3-4.2 2.4-5.5 2.1-4.9 1-6 .3-4.5-.8-3-1.4-2.2-2.1-1-3 .6-1.5 1.2-.9 5.4-2.1zM-35.8-91.1l8.9-1.2 7.5-.1 9.5 1.3 2.7 1.5-.7 1.5-3.3 1.5-3.7 .9-6 .7-7.5-.1-8.9-1.3-2.8-1.7 .7-1.5zM-4.2-55.3l4.2-.2 6 1.3 7.4 3.4 7.5 4.4 3.8 3.1 2.5 3 1.6 3 1.1 4.4-.3 4.5-2.1 6-2.9 4.5-4 4.5-4.2 3.4-5.9 3.4-6 2.2-6 .9-6-.3-4.4-1-4.5-1.9-3.5-2.3-3.3-2.9-3.3-4.5-1.9-4.5-.9-4.5 .3-4.5 .8-3 2.2-4.4 2.2-3 4.4-4.6 7.5-6.4 4.4-2.8z"/>
<path fill="#ff0000" fill-rule="evenodd" d="M21.8-91.1l8.1-1 5.9 .4 3 1 1.4 1.1 .1 1.5-.9 1.5-3.6 2.5-7.4 2.8-7.5 .8-3-.4-3.2-1.2-1.5-1.5-.6-1.5 .8-2.3 3.4-2.2zM-28.7-89.6l4.8-.4 4.5 .3 .6 .1 0 1.5-5.1 .6-5.8-.6zM-5.3-52.3l5.3-.8 4.5 .8 4.5 1.7 7.4 4 4.7 3.3 3 3 1.8 3 1.3 4.4-.3 4.5-1.6 4.5-2.8 4.5-3.9 4.5-5.2 4.3-4.4 2.6-4.5 1.8-6 1.1-4.5 0-4.5-.9-3.9-1.5-3.5-2-3-2.5-3.5-4.4-1.4-3-1.1-4.5 .1-4.5 .7-3 1.2-3 2.5-3.8 4.5-4.8 5.5-4.8 3.4-2.6z"/>
<path fill="#e4000e" fill-rule="evenodd" d="M21.5-89.6l5.4-1.1 6-.1 3.8 1.2 .8 1.5-.7 1.5-1.8 1.5-3.6 1.7-6 1.5-6-.2-2.7-1.5-.7-1.5 .4-1.5 1.7-1.5zM-5.7-49.3l4.2-1.2 3 0 4.5 1.1 5.9 2.8 5.3 3.3 3.5 3 2.2 3 1.5 4.4-.4 4.5-1.6 4.1-3.2 4.9-3.9 4.5-3.4 3-4.4 2.7-4.5 1.8-4.5 .8-7.5-.5-4.4-1.5-3.3-1.9-3.4-2.9-2.3-3-1.4-3-1.1-4.5 .6-6 1.2-3 2.2-3.5 7.5-7.4z"/>
<path fill="#cd0019" fill-rule="evenodd" d="M22.5-88.1l4.4-1.1 3-.2 3.9 1.3-.3 1.5-1.8 1.5-4.3 1.5-3.5 .3-2.2-.3-1.9-1.5 .5-1.5zM-1.1-47.8l4.1 .1 4.2 1.4 5.6 3 3.6 2.6 1.9 1.9 2 3 .9 2.9 0 3-1.5 4.5-3.6 6-3.7 4.5-3.4 2.8-3 1.8-4.5 1.7-4.5 .6-4.5-.2-6.4-2.3-2.5-1.6-2.9-2.8-2-3-1.2-3-.5-3 .1-3 .8-3 1.3-3 4.4-5.3 8.9-7 3-1.6z"/>
<path fill="#b20028" fill-rule="evenodd" d="M-1-44.8l4 .1 3 .8 4.5 2.3 3.7 2.8 3.1 4.4 .5 3-.3 3-1.7 4.5-2.4 4.5-2.3 3-3.2 3-3.4 2-4.5 1.6-4.5 .4-3-.3-5.9-2.2-4.5-3.8-1.5-2.2-1.2-3-.5-3 .2-3 1.5-4.5 4.5-5.5 7.4-5.4 3-1.5z"/>
<path fill="#96002d" fill-rule="evenodd" d="M-4.5-41l6-.9 3 .6 3 1.3 3.6 2.7 1.3 1.5 1.6 2.9 .4 3-.4 3-1.5 4.5-1.6 3-2.3 3-2.6 2.2-3 1.7-3 1.1-4.5 .4-3-.3-5.4-2.1-3.5-3.1-2.4-4.4-.5-3 .3-3 1.9-4.5 3.9-4.4 5.7-3.9z"/></g>
<rect x="513.8" y="390.1" width="1.5" height="1.5" fill="#fff"/><rect x="517.0" y="390.1" width="1.5" height="1.5" fill="#fff"/><rect x="520.6" y="390.1" width="1.5" height="1.5" fill="#fff"/><rect x="524.2" y="390.1" width="1.5" height="1.5" fill="#fff"/><rect x="528.0" y="390.1" width="1.5" height="1.5" fill="#fff"/><rect x="531.5" y="390.1" width="1.5" height="1.5" fill="#fff"/><rect x="535.0" y="390.1" width="1.5" height="1.5" fill="#fff"/><rect x="538.8" y="390.1" width="1.5" height="1.5" fill="#fff"/><rect x="542.0" y="390.1" width="1.5" height="1.5" fill="#fff"/><rect x="516.0" y="397.1" width="1.5" height="1.5" fill="#fff"/><rect x="519.9" y="397.1" width="1.5" height="1.5" fill="#fff"/><rect x="523.8" y="397.1" width="1.5" height="1.5" fill="#fff"/><rect x="527.6" y="397.1" width="1.5" height="1.5" fill="#fff"/><rect x="531.5" y="397.1" width="1.5" height="1.5" fill="#fff"/><rect x="535.5" y="397.1" width="1.5" height="1.5" fill="#fff"/><rect x="539.5" y="397.1" width="1.5" height="1.5" fill="#fff"/><rect x="543.2" y="397.1" width="1.5" height="1.5" fill="#fff"/><rect x="514.9" y="403.1" width="1.5" height="1.5" fill="#fff"/><rect x="519.0" y="403.1" width="1.5" height="1.5" fill="#fff"/><rect x="523.1" y="403.1" width="1.5" height="1.5" fill="#fff"/><rect x="527.6" y="403.1" width="1.5" height="1.5" fill="#fff"/><rect x="532.0" y="403.1" width="1.5" height="1.5" fill="#fff"/><rect x="536.5" y="403.1" width="1.5" height="1.5" fill="#fff"/><rect x="540.5" y="403.1" width="1.5" height="1.5" fill="#fff"/><rect x="544.6" y="403.1" width="1.5" height="1.5" fill="#fff"/><rect x="513.8" y="409.9" width="1.5" height="1.5" fill="#fff"/><rect x="518.1" y="409.9" width="1.5" height="1.5" fill="#fff"/><rect x="522.6" y="409.9" width="1.5" height="1.5" fill="#fff"/><rect x="527.0" y="409.9" width="1.5" height="1.5" fill="#fff"/><rect x="532.0" y="409.9" width="1.5" height="1.5" fill="#fff"/><rect x="536.5" y="409.9" width="1.5" height="1.5" fill="#fff"/><rect x="541.4" y="409.9" width="1.5" height="1.5" fill="#fff"/><rect x="508.1" y="416.6" width="1.5" height="1.5" fill="#fff"/><rect x="512.9" y="416.6" width="1.5" height="1.5" fill="#fff"/><rect x="517.6" y="416.6" width="1.5" height="1.5" fill="#fff"/><rect x="522.6" y="416.6" width="1.5" height="1.5" fill="#fff"/><rect x="527.2" y="416.6" width="1.5" height="1.5" fill="#fff"/><rect x="532.0" y="416.6" width="1.5" height="1.5" fill="#fff"/><rect x="537.0" y="416.6" width="1.5" height="1.5" fill="#fff"/><rect x="542.0" y="416.6" width="1.5" height="1.5" fill="#fff"/><rect x="522.0" y="423.6" width="1.5" height="1.5" fill="#fff"/><rect x="527.0" y="423.6" width="1.5" height="1.5" fill="#fff"/><rect x="532.5" y="423.6" width="1.5" height="1.5" fill="#fff"/><rect x="512.6" y="383.4" width="1.5" height="1.5" fill="#fff"/><rect x="515.8" y="383.4" width="1.5" height="1.5" fill="#fff"/><rect x="519.0" y="383.4" width="1.5" height="1.5" fill="#fff"/><rect x="531.0" y="384.9" width="1.5" height="1.5" fill="#fff"/><rect x="534.4" y="384.9" width="1.5" height="1.5" fill="#fff"/><rect x="537.6" y="384.9" width="1.5" height="1.5" fill="#fff"/><rect x="541.0" y="384.4" width="1.5" height="1.5" fill="#fff"/><rect x="544.0" y="384.1" width="1.5" height="1.5" fill="#fff"/><rect x="545.5" y="389.9" width="1.5" height="1.5" fill="#fff"/><rect x="548.8" y="389.2" width="1.5" height="1.5" fill="#fff"/><rect x="552.1" y="388.2" width="1.5" height="1.5" fill="#fff"/><rect x="555.5" y="387.1" width="1.5" height="1.5" fill="#fff"/><rect x="517.0" y="377.9" width="1.5" height="1.5" fill="#fff"/><rect x="552.6" y="380.9" width="1.5" height="1.5" fill="#fff"/><rect x="543.9" y="396.6" width="1.5" height="1.5" fill="#fff"/><rect x="544.6" y="402.9" width="1.5" height="1.5" fill="#fff"/><rect x="482.8" y="333.1" width="1.5" height="1.5" fill="#fff"/><rect x="484.8" y="330.4" width="1.5" height="1.5" fill="#fff"/><rect x="485.8" y="331.9" width="1.5" height="1.5" fill="#fff"/><rect x="487.6" y="329.5" width="1.5" height="1.5" fill="#fff"/><rect x="488.9" y="330.7" width="1.5" height="1.5" fill="#fff"/><rect x="490.4" y="328.6" width="1.5" height="1.5" fill="#fff"/><rect x="492.0" y="329.6" width="1.5" height="1.5" fill="#fff"/><rect x="493.2" y="327.6" width="1.5" height="1.5" fill="#fff"/><rect x="495.1" y="328.4" width="1.5" height="1.5" fill="#fff"/><rect x="496.1" y="326.7" width="1.5" height="1.5" fill="#fff"/><rect x="498.2" y="327.2" width="1.5" height="1.5" fill="#fff"/><rect x="498.9" y="325.8" width="1.5" height="1.5" fill="#fff"/><rect x="501.2" y="326.1" width="1.5" height="1.5" fill="#fff"/><rect x="501.8" y="324.8" width="1.5" height="1.5" fill="#fff"/><ellipse cx="530.0" cy="344.7" rx="5.1" ry="2.5" fill="#fff"/>
<use href="#grid" transform="translate(530.00,422.50) scale(1.0010)"/>
<use href="#coast" transform="translate(530.00,422.50) scale(1.0010)"/>
</g>
<circle cx="530.00" cy="422.50" r="101.50" fill="none" stroke="#333" stroke-width="0.8"/>
<polygon points="644.3,333.9 653.7,324.5 663.1,333.9" fill="#96002d"/>
<rect x="644.30" y="333.90" width="18.80" height="9.24" fill="#b20028"/>
<rect x="644.30" y="343.08" width="18.80" height="9.24" fill="#cd0019"/>
<rect x="644.30" y="352.27" width="18.80" height="9.24" fill="#e4000e"/>
<rect x="644.30" y="361.45" width="18.80" height="9.24" fill="#ff0000"/>
<rect x="644.30" y="370.64" width="18.80" height="9.24" fill="#ff1405"/>
<rect x="644.30" y="379.82" width="18.80" height="9.24" fill="#ff4126"/>
<rect x="644.30" y="389.01" width="18.80" height="9.24" fill="#ff5535"/>
<rect x="644.30" y="398.19" width="18.80" height="9.24" fill="#ff6848"/>
<rect x="644.30" y="407.38" width="18.80" height="9.24" fill="#ff7855"/>
<rect x="644.30" y="416.56" width="18.80" height="9.24" fill="#ff8a60"/>
<rect x="644.30" y="425.75" width="18.80" height="9.24" fill="#ff9669"/>
<rect x="644.30" y="434.94" width="18.80" height="9.24" fill="#ffa478"/>
<rect x="644.30" y="444.12" width="18.80" height="9.24" fill="#ffb48a"/>
<rect x="644.30" y="453.31" width="18.80" height="9.24" fill="#ffc8a2"/>
<rect x="644.30" y="462.49" width="18.80" height="9.24" fill="#ffd6b6"/>
<rect x="644.30" y="471.68" width="18.80" height="9.24" fill="#ffe4ca"/>
<rect x="644.30" y="480.86" width="18.80" height="9.24" fill="#d4eaff"/>
<rect x="644.30" y="490.05" width="18.80" height="9.24" fill="#aaccff"/>
<rect x="644.30" y="499.23" width="18.80" height="9.24" fill="#7096fa"/>
<rect x="644.30" y="508.42" width="18.80" height="9.24" fill="#4c70f8"/>
<polygon points="644.3,517.6 653.7,527.1 663.1,517.6" fill="#2c44f0"/>
<path d="M644.30,333.90H663.10M644.30,343.08H663.10M644.30,352.27H663.10M644.30,361.45H663.10M644.30,370.64H663.10M644.30,379.82H663.10M644.30,389.01H663.10M644.30,398.19H663.10M644.30,407.38H663.10M644.30,416.56H663.10M644.30,425.75H663.10M644.30,434.94H663.10M644.30,444.12H663.10M644.30,453.31H663.10M644.30,462.49H663.10M644.30,471.68H663.10M644.30,480.86H663.10M644.30,490.05H663.10M644.30,499.23H663.10M644.30,508.42H663.10M644.30,517.60H663.10" stroke="#3a2a2a" stroke-width="0.7" stroke-opacity="0.8" fill="none"/>
<path d="M644.30,333.90L653.70,324.50L663.10,333.90L663.10,517.60L653.70,527.10L644.30,517.60Z" fill="none" stroke="#555" stroke-width="0.6" stroke-opacity="0.7"/>
<text x="669.9" y="336.9" font-size="7.5">0.4</text>
<text x="669.9" y="355.3" font-size="7.5">0.35</text>
<text x="669.9" y="373.6" font-size="7.5">0.3</text>
<text x="669.9" y="392.0" font-size="7.5">0.25</text>
<text x="669.9" y="410.4" font-size="7.5">0.2</text>
<text x="669.9" y="428.8" font-size="7.5">0.15</text>
<text x="669.9" y="447.1" font-size="7.5">0.1</text>
<text x="669.9" y="465.5" font-size="7.5">0.05</text>
<text x="669.9" y="483.9" font-size="7.5">0</text>
<text x="667.5" y="502.2" font-size="7.5">-0.05</text>
<text x="667.5" y="520.6" font-size="7.5">-0.1</text>
<text x="656.5" y="538.0" font-size="9" text-anchor="middle">&#x2DA;<tspan dx="-0.6">C/decade</tspan></text>
</svg></body></html>
